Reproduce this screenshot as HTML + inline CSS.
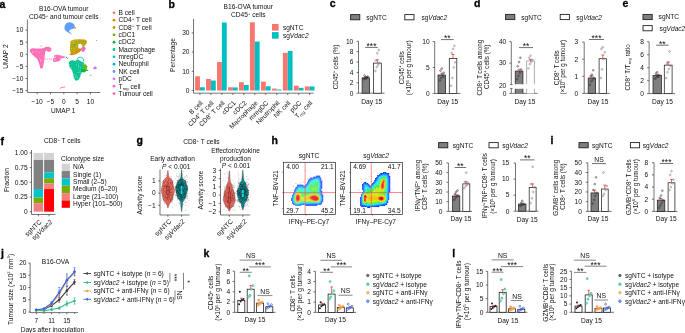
<!DOCTYPE html>
<html><head><meta charset="utf-8"><style>
html,body{margin:0;padding:0;background:#fff;overflow:hidden;}
svg{display:block;font-family:"Liberation Sans",sans-serif;filter:blur(0.3px);}
</style></head><body>
<svg width="685" height="333" viewBox="0 0 685 333" font-size="6.6" fill="#111">
<defs>
<filter id="bl" x="-50%" y="-50%" width="200%" height="200%"><feGaussianBlur stdDeviation="1.2"/></filter>
<filter id="bl2" x="-50%" y="-50%" width="200%" height="200%"><feGaussianBlur stdDeviation="0.7"/></filter>
<filter id="bl3" x="-20%" y="-20%" width="140%" height="140%"><feGaussianBlur stdDeviation="0.35"/></filter>
<filter id="bl4" x="-50%" y="-50%" width="200%" height="200%"><feGaussianBlur stdDeviation="0.55"/></filter>
</defs>
<text x="-0.5" y="7.9" font-weight="bold" font-size="10.5" fill="#000" stroke="#000" stroke-width="0.3">a</text>
<text x="63.7" y="11.2" text-anchor="middle">B16-OVA tumour</text>
<text x="63.7" y="19" text-anchor="middle">CD45<tspan dy="-2.4" font-size="4.3">+</tspan><tspan dy="2.4"> and tumour cells</tspan></text>
<line x1="27.4" y1="19.5" x2="27.4" y2="92.5" stroke="#3a3a3a" stroke-width="0.7"/>
<line x1="27.4" y1="92.5" x2="100.2" y2="92.5" stroke="#3a3a3a" stroke-width="0.7"/>
<line x1="25.6" y1="30.1" x2="27.4" y2="30.1" stroke="#3a3a3a" stroke-width="0.7"/>
<text x="23.4" y="32.4" text-anchor="end">10</text>
<line x1="25.6" y1="42.2" x2="27.4" y2="42.2" stroke="#3a3a3a" stroke-width="0.7"/>
<text x="23.4" y="44.5" text-anchor="end">5</text>
<line x1="25.6" y1="54.3" x2="27.4" y2="54.3" stroke="#3a3a3a" stroke-width="0.7"/>
<text x="23.4" y="56.6" text-anchor="end">0</text>
<line x1="25.6" y1="66.4" x2="27.4" y2="66.4" stroke="#3a3a3a" stroke-width="0.7"/>
<text x="23.4" y="68.7" text-anchor="end">−5</text>
<line x1="25.6" y1="78.5" x2="27.4" y2="78.5" stroke="#3a3a3a" stroke-width="0.7"/>
<text x="23.4" y="80.8" text-anchor="end">−10</text>
<line x1="25.6" y1="90.6" x2="27.4" y2="90.6" stroke="#3a3a3a" stroke-width="0.7"/>
<text x="23.4" y="92.9" text-anchor="end">−15</text>
<line x1="37.2" y1="92.5" x2="37.2" y2="94.3" stroke="#3a3a3a" stroke-width="0.7"/>
<text x="37.2" y="103.9" text-anchor="middle">−10</text>
<line x1="50.5" y1="92.5" x2="50.5" y2="94.3" stroke="#3a3a3a" stroke-width="0.7"/>
<text x="50.5" y="103.9" text-anchor="middle">−5</text>
<line x1="63.8" y1="92.5" x2="63.8" y2="94.3" stroke="#3a3a3a" stroke-width="0.7"/>
<text x="63.8" y="103.9" text-anchor="middle">0</text>
<line x1="77.1" y1="92.5" x2="77.1" y2="94.3" stroke="#3a3a3a" stroke-width="0.7"/>
<text x="77.1" y="103.9" text-anchor="middle">5</text>
<line x1="90.4" y1="92.5" x2="90.4" y2="94.3" stroke="#3a3a3a" stroke-width="0.7"/>
<text x="90.4" y="103.9" text-anchor="middle">10</text>
<text x="63.3" y="113.3" text-anchor="middle">UMAP 1</text>
<text x="8.2" y="56.6" text-anchor="middle" transform="rotate(-90 8.2 56.6)">UMAP 2</text>
<circle cx="114" cy="12.8" r="1.4" fill="#F8766D"/>
<text x="118.6" y="15.1">B cell</text>
<circle cx="114" cy="20.14" r="1.4" fill="#DE8C00"/>
<text x="118.6" y="22.44">CD4<tspan dy="-2.4" font-size="4.3">+</tspan><tspan dy="2.4"> T cell</tspan></text>
<circle cx="114" cy="27.48" r="1.4" fill="#B79F00"/>
<text x="118.6" y="29.78">CD8<tspan dy="-2.4" font-size="4.3">+</tspan><tspan dy="2.4"> T cell</tspan></text>
<circle cx="114" cy="34.82" r="1.4" fill="#7CAE00"/>
<text x="118.6" y="37.12">cDC1</text>
<circle cx="114" cy="42.16" r="1.4" fill="#00BA38"/>
<text x="118.6" y="44.46">cDC2</text>
<circle cx="114" cy="49.5" r="1.4" fill="#00C08B"/>
<text x="118.6" y="51.8">Macrophage</text>
<circle cx="114" cy="56.84" r="1.4" fill="#00BFC4"/>
<text x="118.6" y="59.14">mregDC</text>
<circle cx="114" cy="64.18" r="1.4" fill="#00B4F0"/>
<text x="118.6" y="66.48">Neutrophil</text>
<circle cx="114" cy="71.52" r="1.4" fill="#619CFF"/>
<text x="118.6" y="73.82">NK cell</text>
<circle cx="114" cy="78.86" r="1.4" fill="#C77CFF"/>
<text x="118.6" y="81.16">pDC</text>
<circle cx="114" cy="86.2" r="1.4" fill="#F564E3"/>
<text x="118.6" y="88.5">T<tspan dy="1.3" font-size="4.2">reg</tspan><tspan dy="-1.3"> cell</tspan></text>
<circle cx="114" cy="93.54" r="1.4" fill="#FF64B0"/>
<text x="118.6" y="95.84">Tumour cell</text>
<polygon points="29.81,49.42 32.21,48.22 37.02,48.46 41.83,48.46 43.63,47.98 45.19,47.02 47.6,46.66 50,47.14 51.44,48.46 50.96,50.87 49.64,52.07 47.84,51.47 46.39,50.62 45.19,52.07 44.71,55.43 44.47,59.04 43.75,63.85 42.55,68.41 40.38,68.41 39.18,63.85 37.26,59.04 34.13,56.15 31.25,53.75 29.81,51.59" fill="#FF64B0" opacity="0.92"/>
<polygon points="53.85,55.43 57.45,54.83 62.26,55.67 65.26,56.63 64.66,57.84 61.06,58.44 59.86,60.84 56.25,62.04 53.25,61.68 52.88,59.04 54.45,57.24" fill="#FF64B0" opacity="0.92"/>
<circle cx="47.72" cy="59.28" r="0.4" fill="#FF64B0"/>
<circle cx="47.79" cy="58.83" r="0.4" fill="#FF64B0"/>
<circle cx="45.85" cy="58.89" r="0.4" fill="#FF64B0"/>
<circle cx="51.5" cy="59.2" r="0.4" fill="#FF64B0"/>
<circle cx="51.38" cy="59.12" r="0.4" fill="#FF64B0"/>
<circle cx="49.73" cy="59.1" r="0.4" fill="#FF64B0"/>
<circle cx="44.86" cy="59.33" r="0.4" fill="#FF64B0"/>
<circle cx="50.01" cy="59.27" r="0.4" fill="#FF64B0"/>
<circle cx="45.45" cy="58.44" r="0.4" fill="#FF64B0"/>
<circle cx="45.99" cy="58.77" r="0.4" fill="#FF64B0"/>
<circle cx="49.46" cy="58.97" r="0.4" fill="#FF64B0"/>
<circle cx="50.03" cy="58.67" r="0.4" fill="#FF64B0"/>
<circle cx="41.53" cy="45.72" r="0.35" fill="#FF64B0"/>
<circle cx="40.19" cy="46.17" r="0.35" fill="#FF64B0"/>
<circle cx="41.8" cy="46.05" r="0.35" fill="#FF64B0"/>
<circle cx="40.02" cy="45.13" r="0.35" fill="#FF64B0"/>
<circle cx="39.59" cy="58.84" r="0.4" fill="#fff"/>
<circle cx="40.79" cy="59.44" r="0.4" fill="#fff"/>
<circle cx="43.43" cy="63.91" r="0.4" fill="#fff"/>
<circle cx="31.84" cy="53.26" r="0.4" fill="#fff"/>
<circle cx="44.81" cy="47.57" r="0.4" fill="#fff"/>
<circle cx="43.96" cy="60.05" r="0.4" fill="#fff"/>
<circle cx="33.92" cy="51.92" r="0.4" fill="#fff"/>
<circle cx="41.04" cy="60.59" r="0.4" fill="#fff"/>
<circle cx="40.62" cy="61.07" r="0.4" fill="#fff"/>
<circle cx="39.7" cy="52.71" r="0.4" fill="#fff"/>
<circle cx="36.63" cy="51.65" r="0.4" fill="#fff"/>
<circle cx="29.82" cy="51.22" r="0.4" fill="#fff"/>
<circle cx="31.69" cy="53.89" r="0.4" fill="#fff"/>
<circle cx="32.36" cy="52.02" r="0.4" fill="#fff"/>
<circle cx="62.75" cy="56.11" r="0.4" fill="#fff"/>
<circle cx="59.81" cy="58.06" r="0.4" fill="#fff"/>
<circle cx="55.25" cy="60.11" r="0.4" fill="#fff"/>
<circle cx="54.51" cy="59.47" r="0.4" fill="#fff"/>
<circle cx="54.33" cy="57.87" r="0.4" fill="#fff"/>
<circle cx="55.52" cy="56.78" r="0.4" fill="#fff"/>
<circle cx="56.65" cy="61.21" r="0.4" fill="#fff"/>
<circle cx="55.49" cy="57.68" r="0.4" fill="#fff"/>
<circle cx="66.4" cy="57.4" r="0.7" fill="#00C08B"/>
<circle cx="67.4" cy="58.6" r="0.5" fill="#00BA38"/>
<path d="M74.6,28.6 A5.1,5.1 0 1 0 67.0,31.8 C68.8,33.2 70.6,34.0 72.4,35.4 C71.0,33.6 69.6,32.4 69.0,31.0 C70.8,29.4 72.6,28.6 74.6,28.6 Z" fill="#619CFF"/>
<circle cx="75.4" cy="27.8" r="0.75" fill="#DE8C00"/>
<polygon points="70.53,41.02 74.29,39.51 79.55,39.21 84.81,39.51 87.07,41.02 86.32,44.02 84.06,46.28 82.56,49.29 79.55,51.54 76.54,53.8 73.53,54.55 70.83,53.8 69.92,50.04 70.23,45.53" fill="#B79F00" opacity="0.95"/>
<polygon points="78.05,44.32 81.05,43.72 82.56,46.28 81.05,48.53 78.35,48.23" fill="#ffffff"/>
<polygon points="69.02,54.85 72.03,52.74 75.04,51.54 78.05,50.04 80.3,49.29 81.05,50.79 78.05,53.05 75.04,54.55 72.03,55.3" fill="#DE8C00"/>
<polygon points="82.56,47.33 84.81,46.73 85.86,48.83 84.06,51.84 81.8,51.84 81.35,49.74" fill="#F564E3"/>
<circle cx="74.6" cy="45" r="0.9" fill="#00C08B"/>
<circle cx="96.6" cy="40.2" r="0.55" fill="#00B4F0"/>
<circle cx="73.58" cy="43.17" r="0.35" fill="#fff"/>
<circle cx="83.17" cy="44.26" r="0.35" fill="#fff"/>
<circle cx="75" cy="40.34" r="0.35" fill="#fff"/>
<circle cx="71.47" cy="48.15" r="0.35" fill="#fff"/>
<circle cx="74.09" cy="48.43" r="0.35" fill="#fff"/>
<circle cx="76.3" cy="46.16" r="0.35" fill="#fff"/>
<circle cx="73.06" cy="41.57" r="0.35" fill="#fff"/>
<circle cx="74.2" cy="42.12" r="0.35" fill="#fff"/>
<circle cx="73.29" cy="53.78" r="0.35" fill="#fff"/>
<circle cx="77.15" cy="40.8" r="0.35" fill="#fff"/>
<circle cx="74.01" cy="50.02" r="0.35" fill="#fff"/>
<circle cx="74.33" cy="51.84" r="0.35" fill="#fff"/>
<polygon points="69.32,61.32 72.03,60.26 75.04,60.86 78.05,59.81 81.05,61.32 84.06,62.82 84.81,65.83 83.31,68.83 81.8,72.59 80.3,76.35 78.8,80.11 75.79,80.86 73.83,78.61 73.23,74.1 72.03,70.34 69.77,67.33 68.72,64.32" fill="#00C08B" opacity="0.95"/>
<circle cx="78.32" cy="65.99" r="0.38" fill="#fff"/>
<circle cx="69.83" cy="64.62" r="0.38" fill="#fff"/>
<circle cx="77.72" cy="77.76" r="0.38" fill="#fff"/>
<circle cx="78.61" cy="65.71" r="0.38" fill="#fff"/>
<circle cx="83.48" cy="64.11" r="0.38" fill="#fff"/>
<circle cx="75.89" cy="61.08" r="0.38" fill="#fff"/>
<circle cx="71.56" cy="67.58" r="0.38" fill="#fff"/>
<circle cx="77.93" cy="62.58" r="0.38" fill="#fff"/>
<circle cx="74.55" cy="78.57" r="0.38" fill="#fff"/>
<circle cx="79.84" cy="72.12" r="0.38" fill="#fff"/>
<circle cx="76.48" cy="75.19" r="0.38" fill="#fff"/>
<circle cx="80.58" cy="74.63" r="0.38" fill="#fff"/>
<circle cx="74.38" cy="74.24" r="0.38" fill="#fff"/>
<circle cx="75.43" cy="76.45" r="0.38" fill="#fff"/>
<circle cx="78.78" cy="67.86" r="0.38" fill="#fff"/>
<circle cx="78.1" cy="72.63" r="0.38" fill="#fff"/>
<circle cx="80.44" cy="67.99" r="0.38" fill="#fff"/>
<circle cx="80.55" cy="72.04" r="0.38" fill="#fff"/>
<circle cx="75.81" cy="77.46" r="0.38" fill="#fff"/>
<circle cx="76.46" cy="64.66" r="0.38" fill="#fff"/>
<circle cx="79.96" cy="70.28" r="0.38" fill="#fff"/>
<circle cx="78.61" cy="79.19" r="0.38" fill="#fff"/>
<path d="M76.84,60.86 Q77.29,56.8 80.3,57.26 Q84.06,57.56 83.76,61.77" fill="none" stroke="#00BFC4" stroke-width="0.9"/>
<polygon points="83.76,64.77 85.86,64.32 87.37,66.58 86.77,69.29 84.81,69.59 83.31,67.33" fill="#7CAE00"/>
<polygon points="81.05,69.29 84.06,68.38 86.32,69.59 88.27,69.89 88.27,70.64 86.32,71.09 84.06,72.59 81.35,71.99" fill="#00BA38"/>
<polygon points="92.78,68.38 94.89,66.28 96.84,67.18 96.39,68.98 94.29,69.29" fill="#C77CFF"/>
<circle cx="90.8" cy="75.4" r="0.55" fill="#00B4F0"/>
<path d="M59.8,88.6 C61.2,87.2 63.0,87.4 65.0,86.8" fill="none" stroke="#F8766D" stroke-width="1.0"/>
<text x="168.6" y="7.7" font-weight="bold" font-size="10.5" fill="#000" stroke="#000" stroke-width="0.3">b</text>
<text x="248.3" y="9.2" text-anchor="middle">B16-OVA tumour</text>
<text x="248.3" y="17" text-anchor="middle">CD45<tspan dy="-2.4" font-size="4.3">+</tspan><tspan dy="2.4"> cells</tspan></text>
<line x1="193.5" y1="18.9" x2="193.5" y2="93.2" stroke="#3a3a3a" stroke-width="0.7"/>
<line x1="193.5" y1="93.2" x2="313.5" y2="93.2" stroke="#3a3a3a" stroke-width="0.7"/>
<line x1="191.7" y1="90.5" x2="193.5" y2="90.5" stroke="#3a3a3a" stroke-width="0.7"/>
<text x="189.5" y="92.8" text-anchor="end">0</text>
<line x1="191.7" y1="71.3" x2="193.5" y2="71.3" stroke="#3a3a3a" stroke-width="0.7"/>
<text x="189.5" y="73.6" text-anchor="end">10</text>
<line x1="191.7" y1="52.1" x2="193.5" y2="52.1" stroke="#3a3a3a" stroke-width="0.7"/>
<text x="189.5" y="54.4" text-anchor="end">20</text>
<line x1="191.7" y1="32.9" x2="193.5" y2="32.9" stroke="#3a3a3a" stroke-width="0.7"/>
<text x="189.5" y="35.2" text-anchor="end">30</text>
<text x="175.3" y="55" text-anchor="middle" transform="rotate(-90 175.3 55)">Percentage</text>
<rect x="195.1" y="76.29" width="4.85" height="14.21" fill="#F8766D"/>
<rect x="199.95" y="87.24" width="4.85" height="3.26" fill="#00BFC4"/>
<line x1="199.95" y1="93.2" x2="199.95" y2="95" stroke="#3a3a3a" stroke-width="0.7"/>
<text x="203.15" y="103.4" text-anchor="end" transform="rotate(-45 203.15 103.4)">B cell</text>
<rect x="206.07" y="78.98" width="4.85" height="11.52" fill="#F8766D"/>
<rect x="210.92" y="80.52" width="4.85" height="9.98" fill="#00BFC4"/>
<line x1="210.92" y1="93.2" x2="210.92" y2="95" stroke="#3a3a3a" stroke-width="0.7"/>
<text x="214.12" y="103.4" text-anchor="end" transform="rotate(-45 214.12 103.4)">CD4<tspan dy="-2.4" font-size="4.3">+</tspan><tspan dy="2.4"> T cell</tspan></text>
<rect x="217.04" y="62.08" width="4.85" height="28.42" fill="#F8766D"/>
<rect x="221.89" y="22.53" width="4.85" height="67.97" fill="#00BFC4"/>
<line x1="221.89" y1="93.2" x2="221.89" y2="95" stroke="#3a3a3a" stroke-width="0.7"/>
<text x="225.09" y="103.4" text-anchor="end" transform="rotate(-45 225.09 103.4)">CD8<tspan dy="-2.4" font-size="4.3">+</tspan><tspan dy="2.4"> T cell</tspan></text>
<rect x="228.01" y="87.24" width="4.85" height="3.26" fill="#F8766D"/>
<rect x="232.86" y="87.43" width="4.85" height="3.07" fill="#00BFC4"/>
<line x1="232.86" y1="93.2" x2="232.86" y2="95" stroke="#3a3a3a" stroke-width="0.7"/>
<text x="236.06" y="103.4" text-anchor="end" transform="rotate(-45 236.06 103.4)">cDC1</text>
<rect x="238.98" y="82.24" width="4.85" height="8.26" fill="#F8766D"/>
<rect x="243.83" y="84.93" width="4.85" height="5.57" fill="#00BFC4"/>
<line x1="243.83" y1="93.2" x2="243.83" y2="95" stroke="#3a3a3a" stroke-width="0.7"/>
<text x="247.03" y="103.4" text-anchor="end" transform="rotate(-45 247.03 103.4)">cDC2</text>
<rect x="249.95" y="22.34" width="4.85" height="68.16" fill="#F8766D"/>
<rect x="254.8" y="41.54" width="4.85" height="48.96" fill="#00BFC4"/>
<line x1="254.8" y1="93.2" x2="254.8" y2="95" stroke="#3a3a3a" stroke-width="0.7"/>
<text x="258" y="103.4" text-anchor="end" transform="rotate(-45 258 103.4)">Macrophage</text>
<rect x="260.92" y="81.67" width="4.85" height="8.83" fill="#F8766D"/>
<rect x="265.77" y="86.28" width="4.85" height="4.22" fill="#00BFC4"/>
<line x1="265.77" y1="93.2" x2="265.77" y2="95" stroke="#3a3a3a" stroke-width="0.7"/>
<text x="268.97" y="103.4" text-anchor="end" transform="rotate(-45 268.97 103.4)">mregDC</text>
<rect x="271.89" y="88.58" width="4.85" height="1.92" fill="#F8766D"/>
<rect x="276.74" y="89.54" width="4.85" height="0.96" fill="#00BFC4"/>
<line x1="276.74" y1="93.2" x2="276.74" y2="95" stroke="#3a3a3a" stroke-width="0.7"/>
<text x="279.94" y="103.4" text-anchor="end" transform="rotate(-45 279.94 103.4)">Neutrophil</text>
<rect x="282.86" y="52.87" width="4.85" height="37.63" fill="#F8766D"/>
<rect x="287.71" y="50.95" width="4.85" height="39.55" fill="#00BFC4"/>
<line x1="287.71" y1="93.2" x2="287.71" y2="95" stroke="#3a3a3a" stroke-width="0.7"/>
<text x="290.91" y="103.4" text-anchor="end" transform="rotate(-45 290.91 103.4)">NK cell</text>
<rect x="293.83" y="85.7" width="4.85" height="4.8" fill="#F8766D"/>
<rect x="298.68" y="87.81" width="4.85" height="2.69" fill="#00BFC4"/>
<line x1="298.68" y1="93.2" x2="298.68" y2="95" stroke="#3a3a3a" stroke-width="0.7"/>
<text x="301.88" y="103.4" text-anchor="end" transform="rotate(-45 301.88 103.4)">pDC</text>
<rect x="304.8" y="86.47" width="4.85" height="4.03" fill="#F8766D"/>
<rect x="309.65" y="86.47" width="4.85" height="4.03" fill="#00BFC4"/>
<line x1="309.65" y1="93.2" x2="309.65" y2="95" stroke="#3a3a3a" stroke-width="0.7"/>
<text x="312.85" y="103.4" text-anchor="end" transform="rotate(-45 312.85 103.4)">T<tspan dy="1.3" font-size="4.2">reg</tspan><tspan dy="-1.3"> cell</tspan></text>
<rect x="272" y="24" width="6.6" height="6.6" fill="#F8766D"/>
<rect x="272" y="32.1" width="6.6" height="6.6" fill="#00BFC4"/>
<text x="282.9" y="29.7">sgNTC</text>
<text x="282.9" y="37.8">sg<tspan font-style="italic">Vdac2</tspan></text>
<text x="329.8" y="7.2" font-weight="bold" font-size="10.5" fill="#000" stroke="#000" stroke-width="0.3">c</text>
<rect x="350.6" y="14.6" width="9.2" height="5.2" fill="#7f7f7f" stroke="#222" stroke-width="0.9"/>
<text x="366.2" y="19.8">sgNTC</text>
<rect x="404.8" y="14.6" width="9.2" height="5.2" fill="#ffffff" stroke="#222" stroke-width="0.9"/>
<text x="421.4" y="19.8">sg<tspan font-style="italic">Vdac2</tspan></text>
<line x1="358.5" y1="41.3" x2="358.5" y2="93.2" stroke="#3a3a3a" stroke-width="0.7"/>
<line x1="356.5" y1="93.2" x2="358.5" y2="93.2" stroke="#3a3a3a" stroke-width="0.7"/>
<text x="353.3" y="95.5" text-anchor="end">0</text>
<line x1="356.5" y1="82.82" x2="358.5" y2="82.82" stroke="#3a3a3a" stroke-width="0.7"/>
<text x="353.3" y="85.12" text-anchor="end">2</text>
<line x1="356.5" y1="72.44" x2="358.5" y2="72.44" stroke="#3a3a3a" stroke-width="0.7"/>
<text x="353.3" y="74.74" text-anchor="end">4</text>
<line x1="356.5" y1="62.06" x2="358.5" y2="62.06" stroke="#3a3a3a" stroke-width="0.7"/>
<text x="353.3" y="64.36" text-anchor="end">6</text>
<line x1="356.5" y1="51.68" x2="358.5" y2="51.68" stroke="#3a3a3a" stroke-width="0.7"/>
<text x="353.3" y="53.98" text-anchor="end">8</text>
<line x1="356.5" y1="41.3" x2="358.5" y2="41.3" stroke="#3a3a3a" stroke-width="0.7"/>
<text x="353.3" y="43.6" text-anchor="end">10</text>
<line x1="358.5" y1="93.2" x2="384.6" y2="93.2" stroke="#3a3a3a" stroke-width="0.7"/>
<rect x="362.1" y="77.84" width="7.5" height="15.36" fill="#7f7f7f" stroke="#222" stroke-width="0.75"/>
<line x1="365.85" y1="77.84" x2="365.85" y2="76.7" stroke="#e8352b" stroke-width="0.75"/>
<line x1="364.35" y1="76.7" x2="367.35" y2="76.7" stroke="#e8352b" stroke-width="0.75"/>
<circle cx="363.85" cy="79.19" r="0.85" fill="none" stroke="#2a2a2a" stroke-width="0.55"/>
<circle cx="365.18" cy="78.15" r="0.85" fill="none" stroke="#2a2a2a" stroke-width="0.55"/>
<circle cx="366.52" cy="77.63" r="0.85" fill="none" stroke="#2a2a2a" stroke-width="0.55"/>
<circle cx="367.85" cy="76.59" r="0.85" fill="none" stroke="#2a2a2a" stroke-width="0.55"/>
<circle cx="364.52" cy="75.55" r="0.85" fill="none" stroke="#2a2a2a" stroke-width="0.55"/>
<circle cx="365.85" cy="78.67" r="0.85" fill="none" stroke="#2a2a2a" stroke-width="0.55"/>
<circle cx="367.18" cy="77.11" r="0.85" fill="none" stroke="#2a2a2a" stroke-width="0.55"/>
<rect x="373.4" y="63.1" width="7.9" height="30.1" fill="#ffffff" stroke="#222" stroke-width="0.75"/>
<line x1="377.35" y1="63.1" x2="377.35" y2="59.72" stroke="#e8352b" stroke-width="0.75"/>
<line x1="375.85" y1="59.72" x2="378.85" y2="59.72" stroke="#e8352b" stroke-width="0.75"/>
<circle cx="375.35" cy="70.88" r="0.85" fill="none" stroke="#777" stroke-width="0.55"/>
<circle cx="376.68" cy="67.25" r="0.85" fill="none" stroke="#777" stroke-width="0.55"/>
<circle cx="378.02" cy="65.17" r="0.85" fill="none" stroke="#777" stroke-width="0.55"/>
<circle cx="379.35" cy="63.1" r="0.85" fill="none" stroke="#777" stroke-width="0.55"/>
<circle cx="376.02" cy="60.5" r="0.85" fill="none" stroke="#777" stroke-width="0.55"/>
<circle cx="377.35" cy="53.24" r="0.85" fill="none" stroke="#777" stroke-width="0.55"/>
<circle cx="378.68" cy="50.12" r="0.85" fill="none" stroke="#777" stroke-width="0.55"/>
<line x1="365.2" y1="47.4" x2="377.8" y2="47.4" stroke="#333" stroke-width="0.7"/>
<text x="371.5" y="48.8" text-anchor="middle" font-size="8.5">***</text>
<text x="371.8" y="103.6" text-anchor="middle">Day 15</text>
<text x="337.8" y="67" text-anchor="middle" font-size="6.3" transform="rotate(-90 337.8 67)">CD45<tspan dy="-2.4" font-size="4.3">+</tspan><tspan dy="2.4"> cells (%)</tspan></text>
<line x1="434.7" y1="41.5" x2="434.7" y2="93.5" stroke="#3a3a3a" stroke-width="0.7"/>
<line x1="432.7" y1="93.5" x2="434.7" y2="93.5" stroke="#3a3a3a" stroke-width="0.7"/>
<text x="429.7" y="95.8" text-anchor="end">0</text>
<line x1="432.7" y1="67.5" x2="434.7" y2="67.5" stroke="#3a3a3a" stroke-width="0.7"/>
<text x="429.7" y="69.8" text-anchor="end">5</text>
<line x1="432.7" y1="41.5" x2="434.7" y2="41.5" stroke="#3a3a3a" stroke-width="0.7"/>
<text x="429.7" y="43.8" text-anchor="end">10</text>
<line x1="434.7" y1="93.5" x2="460.5" y2="93.5" stroke="#3a3a3a" stroke-width="0.7"/>
<rect x="438" y="75.04" width="7.6" height="18.46" fill="#7f7f7f" stroke="#222" stroke-width="0.75"/>
<line x1="441.8" y1="75.04" x2="441.8" y2="73.22" stroke="#e8352b" stroke-width="0.75"/>
<line x1="440.3" y1="73.22" x2="443.3" y2="73.22" stroke="#e8352b" stroke-width="0.75"/>
<circle cx="439.8" cy="80.5" r="0.85" fill="none" stroke="#2a2a2a" stroke-width="0.55"/>
<circle cx="441.13" cy="77.9" r="0.85" fill="none" stroke="#2a2a2a" stroke-width="0.55"/>
<circle cx="442.47" cy="74.78" r="0.85" fill="none" stroke="#2a2a2a" stroke-width="0.55"/>
<circle cx="443.8" cy="72.7" r="0.85" fill="none" stroke="#2a2a2a" stroke-width="0.55"/>
<circle cx="440.47" cy="70.62" r="0.85" fill="none" stroke="#2a2a2a" stroke-width="0.55"/>
<circle cx="441.8" cy="68.54" r="0.85" fill="none" stroke="#2a2a2a" stroke-width="0.55"/>
<circle cx="443.13" cy="76.86" r="0.85" fill="none" stroke="#2a2a2a" stroke-width="0.55"/>
<rect x="449.3" y="58.4" width="7.5" height="35.1" fill="#ffffff" stroke="#222" stroke-width="0.75"/>
<line x1="453.05" y1="58.4" x2="453.05" y2="54.5" stroke="#e8352b" stroke-width="0.75"/>
<line x1="451.55" y1="54.5" x2="454.55" y2="54.5" stroke="#e8352b" stroke-width="0.75"/>
<circle cx="451.05" cy="85.7" r="0.85" fill="none" stroke="#777" stroke-width="0.55"/>
<circle cx="452.38" cy="77.9" r="0.85" fill="none" stroke="#777" stroke-width="0.55"/>
<circle cx="453.72" cy="67.5" r="0.85" fill="none" stroke="#777" stroke-width="0.55"/>
<circle cx="455.05" cy="62.3" r="0.85" fill="none" stroke="#777" stroke-width="0.55"/>
<circle cx="451.72" cy="52.94" r="0.85" fill="none" stroke="#777" stroke-width="0.55"/>
<circle cx="453.05" cy="48.78" r="0.85" fill="none" stroke="#777" stroke-width="0.55"/>
<circle cx="454.38" cy="45.66" r="0.85" fill="none" stroke="#777" stroke-width="0.55"/>
<line x1="441" y1="39.6" x2="453.7" y2="39.6" stroke="#333" stroke-width="0.7"/>
<text x="447.35" y="41" text-anchor="middle" font-size="8.5">**</text>
<text x="447.8" y="103.6" text-anchor="middle">Day 15</text>
<text x="403.9" y="67.7" text-anchor="middle" font-size="6.3" transform="rotate(-90 403.9 67.7)">CD45<tspan dy="-2.4" font-size="4.3">+</tspan><tspan dy="2.4"> cells</tspan></text>
<text x="411.2" y="67.8" text-anchor="middle" font-size="6.3" transform="rotate(-90 411.2 67.8)">(×10<tspan dy="-2.4" font-size="4.3">6</tspan><tspan dy="2.4"> per g tumour)</tspan></text>
<text x="474" y="6.9" font-weight="bold" font-size="10.5" fill="#000" stroke="#000" stroke-width="0.3">d</text>
<rect x="505.6" y="14.4" width="9.2" height="5.2" fill="#7f7f7f" stroke="#222" stroke-width="0.9"/>
<text x="521.2" y="19.6">sgNTC</text>
<rect x="560.2" y="14.4" width="9.2" height="5.2" fill="#ffffff" stroke="#222" stroke-width="0.9"/>
<text x="576.2" y="19.6">sg<tspan font-style="italic">Vdac2</tspan></text>
<line x1="511.3" y1="41.7" x2="511.3" y2="84.5" stroke="#3a3a3a" stroke-width="0.7"/>
<line x1="511.3" y1="88.4" x2="511.3" y2="93.4" stroke="#3a3a3a" stroke-width="0.7"/>
<line x1="509.9" y1="84.5" x2="512.7" y2="84.5" stroke="#333" stroke-width="0.6"/>
<line x1="509.9" y1="88.4" x2="512.7" y2="88.4" stroke="#333" stroke-width="0.6"/>
<line x1="509.3" y1="41.7" x2="511.3" y2="41.7" stroke="#3a3a3a" stroke-width="0.7"/>
<text x="506.3" y="44" text-anchor="end">40</text>
<line x1="509.3" y1="63.1" x2="511.3" y2="63.1" stroke="#3a3a3a" stroke-width="0.7"/>
<text x="506.3" y="65.4" text-anchor="end">30</text>
<text x="506.3" y="87.9" text-anchor="end">20</text>
<line x1="509.3" y1="93.4" x2="511.3" y2="93.4" stroke="#3a3a3a" stroke-width="0.7"/>
<text x="506.3" y="95.7" text-anchor="end">0</text>
<line x1="511.3" y1="93.4" x2="537.5" y2="93.4" stroke="#3a3a3a" stroke-width="0.7"/>
<rect x="515.3" y="71.02" width="7.6" height="13.18" fill="#7f7f7f"/>
<rect x="515.3" y="88.8" width="7.6" height="4.6" fill="#7f7f7f"/>
<line x1="515.3" y1="71.02" x2="522.9" y2="71.02" stroke="#222" stroke-width="0.8"/>
<line x1="515.3" y1="71.02" x2="515.3" y2="84.2" stroke="#222" stroke-width="0.8"/>
<line x1="515.3" y1="88.8" x2="515.3" y2="93.4" stroke="#222" stroke-width="0.8"/>
<line x1="522.9" y1="71.02" x2="522.9" y2="84.2" stroke="#222" stroke-width="0.8"/>
<line x1="522.9" y1="88.8" x2="522.9" y2="93.4" stroke="#222" stroke-width="0.8"/>
<line x1="519.1" y1="71.02" x2="519.1" y2="69.31" stroke="#e8352b" stroke-width="0.75"/>
<line x1="517.6" y1="69.31" x2="520.6" y2="69.31" stroke="#e8352b" stroke-width="0.75"/>
<circle cx="517.1" cy="79.15" r="0.85" fill="none" stroke="#2a2a2a" stroke-width="0.55"/>
<circle cx="518.43" cy="75.94" r="0.85" fill="none" stroke="#2a2a2a" stroke-width="0.55"/>
<circle cx="519.77" cy="72.73" r="0.85" fill="none" stroke="#2a2a2a" stroke-width="0.55"/>
<circle cx="521.1" cy="69.52" r="0.85" fill="none" stroke="#2a2a2a" stroke-width="0.55"/>
<circle cx="517.77" cy="66.31" r="0.85" fill="none" stroke="#2a2a2a" stroke-width="0.55"/>
<circle cx="519.1" cy="62.03" r="0.85" fill="none" stroke="#2a2a2a" stroke-width="0.55"/>
<circle cx="520.43" cy="57.75" r="0.85" fill="none" stroke="#2a2a2a" stroke-width="0.55"/>
<rect x="526.6" y="60.96" width="7.8" height="23.24" fill="#ffffff"/>
<rect x="526.6" y="88.8" width="7.8" height="4.6" fill="#ffffff"/>
<line x1="526.6" y1="60.96" x2="534.4" y2="60.96" stroke="#999" stroke-width="0.8"/>
<line x1="526.6" y1="60.96" x2="526.6" y2="84.2" stroke="#999" stroke-width="0.8"/>
<line x1="526.6" y1="88.8" x2="526.6" y2="93.4" stroke="#999" stroke-width="0.8"/>
<line x1="534.4" y1="60.96" x2="534.4" y2="84.2" stroke="#999" stroke-width="0.8"/>
<line x1="534.4" y1="88.8" x2="534.4" y2="93.4" stroke="#999" stroke-width="0.8"/>
<line x1="530.5" y1="60.96" x2="530.5" y2="59.46" stroke="#e8352b" stroke-width="0.75"/>
<line x1="529" y1="59.46" x2="532" y2="59.46" stroke="#e8352b" stroke-width="0.75"/>
<circle cx="528.5" cy="68.45" r="0.85" fill="none" stroke="#777" stroke-width="0.55"/>
<circle cx="529.83" cy="64.17" r="0.85" fill="none" stroke="#777" stroke-width="0.55"/>
<circle cx="531.17" cy="62.03" r="0.85" fill="none" stroke="#777" stroke-width="0.55"/>
<circle cx="532.5" cy="59.89" r="0.85" fill="none" stroke="#777" stroke-width="0.55"/>
<circle cx="529.17" cy="57.75" r="0.85" fill="none" stroke="#777" stroke-width="0.55"/>
<circle cx="530.5" cy="55.61" r="0.85" fill="none" stroke="#777" stroke-width="0.55"/>
<line x1="519" y1="47.6" x2="533" y2="47.6" stroke="#333" stroke-width="0.7"/>
<text x="526" y="49" text-anchor="middle" font-size="8.5">**</text>
<text x="525" y="103.6" text-anchor="middle">Day 15</text>
<text x="482.5" y="67.7" text-anchor="middle" font-size="6.3" transform="rotate(-90 482.5 67.7)">CD8<tspan dy="-2.4" font-size="4.3">+</tspan><tspan dy="2.4"> T cells among</tspan></text>
<text x="488.9" y="66.8" text-anchor="middle" font-size="6.3" transform="rotate(-90 488.9 66.8)">CD45<tspan dy="-2.4" font-size="4.3">+</tspan><tspan dy="2.4"> cells (%)</tspan></text>
<line x1="584.2" y1="42.1" x2="584.2" y2="93.4" stroke="#3a3a3a" stroke-width="0.7"/>
<line x1="582.2" y1="93.4" x2="584.2" y2="93.4" stroke="#3a3a3a" stroke-width="0.7"/>
<text x="578.2" y="95.7" text-anchor="end">0</text>
<line x1="582.2" y1="76.3" x2="584.2" y2="76.3" stroke="#3a3a3a" stroke-width="0.7"/>
<text x="578.2" y="78.6" text-anchor="end">1</text>
<line x1="582.2" y1="59.2" x2="584.2" y2="59.2" stroke="#3a3a3a" stroke-width="0.7"/>
<text x="578.2" y="61.5" text-anchor="end">2</text>
<line x1="582.2" y1="42.1" x2="584.2" y2="42.1" stroke="#3a3a3a" stroke-width="0.7"/>
<text x="578.2" y="44.4" text-anchor="end">3</text>
<line x1="584.2" y1="93.4" x2="610" y2="93.4" stroke="#3a3a3a" stroke-width="0.7"/>
<rect x="588.2" y="78.01" width="7.4" height="15.39" fill="#7f7f7f" stroke="#222" stroke-width="0.75"/>
<line x1="591.9" y1="78.01" x2="591.9" y2="75.96" stroke="#e8352b" stroke-width="0.75"/>
<line x1="590.4" y1="75.96" x2="593.4" y2="75.96" stroke="#e8352b" stroke-width="0.75"/>
<circle cx="589.9" cy="84.85" r="0.85" fill="none" stroke="#2a2a2a" stroke-width="0.55"/>
<circle cx="591.23" cy="81.43" r="0.85" fill="none" stroke="#2a2a2a" stroke-width="0.55"/>
<circle cx="592.57" cy="79.72" r="0.85" fill="none" stroke="#2a2a2a" stroke-width="0.55"/>
<circle cx="593.9" cy="78.01" r="0.85" fill="none" stroke="#2a2a2a" stroke-width="0.55"/>
<circle cx="590.57" cy="76.3" r="0.85" fill="none" stroke="#2a2a2a" stroke-width="0.55"/>
<circle cx="591.9" cy="74.59" r="0.85" fill="none" stroke="#2a2a2a" stroke-width="0.55"/>
<circle cx="593.23" cy="70.31" r="0.85" fill="none" stroke="#2a2a2a" stroke-width="0.55"/>
<rect x="599.1" y="58.69" width="7.4" height="34.71" fill="#ffffff" stroke="#222" stroke-width="0.75"/>
<line x1="602.8" y1="58.69" x2="602.8" y2="54.93" stroke="#e8352b" stroke-width="0.75"/>
<line x1="601.3" y1="54.93" x2="604.3" y2="54.93" stroke="#e8352b" stroke-width="0.75"/>
<circle cx="600.8" cy="78.01" r="0.85" fill="none" stroke="#777" stroke-width="0.55"/>
<circle cx="602.13" cy="69.46" r="0.85" fill="none" stroke="#777" stroke-width="0.55"/>
<circle cx="603.47" cy="59.2" r="0.85" fill="none" stroke="#777" stroke-width="0.55"/>
<circle cx="604.8" cy="52.36" r="0.85" fill="none" stroke="#777" stroke-width="0.55"/>
<circle cx="601.47" cy="48.94" r="0.85" fill="none" stroke="#777" stroke-width="0.55"/>
<circle cx="602.8" cy="47.23" r="0.85" fill="none" stroke="#777" stroke-width="0.55"/>
<line x1="589" y1="39.5" x2="604" y2="39.5" stroke="#333" stroke-width="0.7"/>
<text x="596.5" y="40.9" text-anchor="middle" font-size="8.5">***</text>
<text x="598" y="103.6" text-anchor="middle">Day 15</text>
<text x="558.6" y="67.7" text-anchor="middle" font-size="6.3" transform="rotate(-90 558.6 67.7)">CD8<tspan dy="-2.4" font-size="4.3">+</tspan><tspan dy="2.4"> T cells</tspan></text>
<text x="564.6" y="67.2" text-anchor="middle" font-size="6.3" transform="rotate(-90 564.6 67.2)">(×10<tspan dy="-2.4" font-size="4.3">6</tspan><tspan dy="2.4"> per g tumour)</tspan></text>
<text x="622.4" y="7.1" font-weight="bold" font-size="10.5" fill="#000" stroke="#000" stroke-width="0.3">e</text>
<rect x="643" y="14.4" width="9.2" height="5.2" fill="#7f7f7f" stroke="#222" stroke-width="0.9"/>
<text x="658.6" y="19.4">sgNTC</text>
<rect x="643" y="25.6" width="9.2" height="5.2" fill="#ffffff" stroke="#222" stroke-width="0.9"/>
<text x="659.6" y="30.6">sg<tspan font-style="italic">Vdac2</tspan></text>
<line x1="649.1" y1="41.84" x2="649.1" y2="93.6" stroke="#3a3a3a" stroke-width="0.7"/>
<line x1="647.1" y1="93.6" x2="649.1" y2="93.6" stroke="#3a3a3a" stroke-width="0.7"/>
<text x="643.8" y="95.9" text-anchor="end">0</text>
<line x1="647.1" y1="80.66" x2="649.1" y2="80.66" stroke="#3a3a3a" stroke-width="0.7"/>
<text x="643.8" y="82.96" text-anchor="end">2</text>
<line x1="647.1" y1="67.72" x2="649.1" y2="67.72" stroke="#3a3a3a" stroke-width="0.7"/>
<text x="643.8" y="70.02" text-anchor="end">4</text>
<line x1="647.1" y1="54.78" x2="649.1" y2="54.78" stroke="#3a3a3a" stroke-width="0.7"/>
<text x="643.8" y="57.08" text-anchor="end">6</text>
<line x1="647.1" y1="41.84" x2="649.1" y2="41.84" stroke="#3a3a3a" stroke-width="0.7"/>
<text x="643.8" y="44.14" text-anchor="end">8</text>
<line x1="649.1" y1="93.6" x2="675" y2="93.6" stroke="#3a3a3a" stroke-width="0.7"/>
<rect x="653" y="75.48" width="8.4" height="18.12" fill="#7f7f7f" stroke="#222" stroke-width="0.75"/>
<line x1="657.2" y1="75.48" x2="657.2" y2="74.51" stroke="#e8352b" stroke-width="0.75"/>
<line x1="655.7" y1="74.51" x2="658.7" y2="74.51" stroke="#e8352b" stroke-width="0.75"/>
<circle cx="655.2" cy="78.72" r="0.85" fill="none" stroke="#2a2a2a" stroke-width="0.55"/>
<circle cx="656.53" cy="77.42" r="0.85" fill="none" stroke="#2a2a2a" stroke-width="0.55"/>
<circle cx="657.87" cy="76.13" r="0.85" fill="none" stroke="#2a2a2a" stroke-width="0.55"/>
<circle cx="659.2" cy="74.84" r="0.85" fill="none" stroke="#2a2a2a" stroke-width="0.55"/>
<circle cx="655.87" cy="73.54" r="0.85" fill="none" stroke="#2a2a2a" stroke-width="0.55"/>
<circle cx="657.2" cy="72.25" r="0.85" fill="none" stroke="#2a2a2a" stroke-width="0.55"/>
<circle cx="658.53" cy="76.78" r="0.85" fill="none" stroke="#2a2a2a" stroke-width="0.55"/>
<rect x="664.3" y="65.13" width="7.8" height="28.47" fill="#ffffff" stroke="#222" stroke-width="0.75"/>
<line x1="668.2" y1="65.13" x2="668.2" y2="62.22" stroke="#e8352b" stroke-width="0.75"/>
<line x1="666.7" y1="62.22" x2="669.7" y2="62.22" stroke="#e8352b" stroke-width="0.75"/>
<circle cx="666.2" cy="78.07" r="0.85" fill="none" stroke="#777" stroke-width="0.55"/>
<circle cx="667.53" cy="72.25" r="0.85" fill="none" stroke="#777" stroke-width="0.55"/>
<circle cx="668.87" cy="69.01" r="0.85" fill="none" stroke="#777" stroke-width="0.55"/>
<circle cx="670.2" cy="65.78" r="0.85" fill="none" stroke="#777" stroke-width="0.55"/>
<circle cx="666.87" cy="63.84" r="0.85" fill="none" stroke="#777" stroke-width="0.55"/>
<circle cx="668.2" cy="61.9" r="0.85" fill="none" stroke="#777" stroke-width="0.55"/>
<circle cx="669.53" cy="51.54" r="0.85" fill="none" stroke="#777" stroke-width="0.55"/>
<line x1="656.1" y1="45.2" x2="668.6" y2="45.2" stroke="#333" stroke-width="0.7"/>
<text x="662.35" y="46.6" text-anchor="middle" font-size="8.5">**</text>
<text x="662.5" y="103.6" text-anchor="middle">Day 15</text>
<text x="629.6" y="67.4" text-anchor="middle" font-size="6.3" transform="rotate(-90 629.6 67.4)">CD8<tspan dy="-2.4" font-size="4.3">+</tspan><tspan dy="2.4"> T/T</tspan><tspan dy="1.3" font-size="4.2">reg</tspan><tspan dy="-1.3"> ratio</tspan></text>
<text x="0.6" y="144.9" font-weight="bold" font-size="10.5" fill="#000" stroke="#000" stroke-width="0.3">f</text>
<text x="44.1" y="143.4">CD8<tspan dy="-2.4" font-size="4.3">+</tspan><tspan dy="2.4"> T cells</tspan></text>
<line x1="31.5" y1="150" x2="31.5" y2="214.5" stroke="#3a3a3a" stroke-width="0.7"/>
<line x1="31.5" y1="214.5" x2="55.5" y2="214.5" stroke="#3a3a3a" stroke-width="0.7"/>
<line x1="29.7" y1="211.7" x2="31.5" y2="211.7" stroke="#3a3a3a" stroke-width="0.7"/>
<text x="27.7" y="214" text-anchor="end">0</text>
<line x1="29.7" y1="197" x2="31.5" y2="197" stroke="#3a3a3a" stroke-width="0.7"/>
<text x="27.7" y="199.3" text-anchor="end">0.25</text>
<line x1="29.7" y1="182.3" x2="31.5" y2="182.3" stroke="#3a3a3a" stroke-width="0.7"/>
<text x="27.7" y="184.6" text-anchor="end">0.50</text>
<line x1="29.7" y1="167.6" x2="31.5" y2="167.6" stroke="#3a3a3a" stroke-width="0.7"/>
<text x="27.7" y="169.9" text-anchor="end">0.75</text>
<line x1="29.7" y1="152.9" x2="31.5" y2="152.9" stroke="#3a3a3a" stroke-width="0.7"/>
<text x="27.7" y="155.2" text-anchor="end">1.00</text>
<text x="8.8" y="180" text-anchor="middle" transform="rotate(-90 8.8 180)">Fraction</text>
<rect x="33.6" y="152.9" width="9.5" height="7.06" fill="#D3D3D3"/>
<rect x="33.6" y="159.96" width="9.5" height="29.11" fill="#808080"/>
<rect x="33.6" y="189.06" width="9.5" height="8.53" fill="#00C5CD"/>
<rect x="33.6" y="197.59" width="9.5" height="5.59" fill="#76AD00"/>
<rect x="33.6" y="203.17" width="9.5" height="8.53" fill="#F08080"/>
<rect x="44.1" y="152.9" width="9.9" height="7.06" fill="#D3D3D3"/>
<rect x="44.1" y="159.96" width="9.9" height="12.35" fill="#808080"/>
<rect x="44.1" y="172.3" width="9.9" height="5.88" fill="#00C5CD"/>
<rect x="44.1" y="178.18" width="9.9" height="5.29" fill="#76AD00"/>
<rect x="44.1" y="183.48" width="9.9" height="5.59" fill="#F08080"/>
<rect x="44.1" y="189.06" width="9.9" height="22.64" fill="#FF0000"/>
<line x1="38.35" y1="214.5" x2="38.35" y2="216.3" stroke="#3a3a3a" stroke-width="0.7"/>
<line x1="49.05" y1="214.5" x2="49.05" y2="216.3" stroke="#3a3a3a" stroke-width="0.7"/>
<text x="42" y="222.3" text-anchor="end" transform="rotate(-45 42 222.3)">sgNTC</text>
<text x="52.7" y="222.3" text-anchor="end" transform="rotate(-45 52.7 222.3)">sg<tspan font-style="italic">Vdac2</tspan></text>
<text x="61" y="160.6">Clonotype size</text>
<rect x="61.7" y="163.7" width="8.2" height="7.35" fill="#D3D3D3"/>
<text x="73" y="169.3">N/A</text>
<rect x="61.7" y="171.05" width="8.2" height="7.35" fill="#808080"/>
<text x="73" y="176.65">Single (1)</text>
<rect x="61.7" y="178.4" width="8.2" height="7.35" fill="#00C5CD"/>
<text x="73" y="184">Small (2–5)</text>
<rect x="61.7" y="185.75" width="8.2" height="7.35" fill="#76AD00"/>
<text x="73" y="191.35">Medium (6–20)</text>
<rect x="61.7" y="193.1" width="8.2" height="7.35" fill="#F08080"/>
<text x="73" y="198.7">Large (21–100)</text>
<rect x="61.7" y="200.45" width="8.2" height="7.35" fill="#FF0000"/>
<text x="73" y="206.05">Hyper (101–500)</text>
<text x="136.6" y="143.9" font-weight="bold" font-size="10.5" fill="#000" stroke="#000" stroke-width="0.3">g</text>
<text x="183.3" y="144.1">CD8<tspan dy="-2.4" font-size="4.3">+</tspan><tspan dy="2.4"> T cells</tspan></text>
<text x="172.5" y="161" text-anchor="middle">Early activation</text>
<text x="176.2" y="168.6" text-anchor="middle"><tspan font-style="italic">P</tspan> &lt; 0.001</text>
<line x1="160" y1="169.5" x2="160" y2="215" stroke="#3a3a3a" stroke-width="0.7"/>
<line x1="160" y1="215" x2="189.5" y2="215" stroke="#3a3a3a" stroke-width="0.7"/>
<line x1="158.2" y1="205.3" x2="160" y2="205.3" stroke="#3a3a3a" stroke-width="0.7"/>
<text x="155.6" y="207.6" text-anchor="end">−1</text>
<line x1="158.2" y1="193.1" x2="160" y2="193.1" stroke="#3a3a3a" stroke-width="0.7"/>
<text x="155.6" y="195.4" text-anchor="end">0</text>
<line x1="158.2" y1="180.9" x2="160" y2="180.9" stroke="#3a3a3a" stroke-width="0.7"/>
<text x="155.6" y="183.2" text-anchor="end">1</text>
<line x1="167.9" y1="215" x2="167.9" y2="216.8" stroke="#3a3a3a" stroke-width="0.7"/>
<line x1="181.6" y1="215" x2="181.6" y2="216.8" stroke="#3a3a3a" stroke-width="0.7"/>
<path d="M168.2,170.6 L168.22,171.23 L168.27,171.86 L168.33,172.49 L168.41,173.12 L168.48,173.75 L168.55,174.38 L168.59,175.01 L168.61,175.64 L168.77,176.27 L169.12,176.91 L169.6,177.54 L170.18,178.17 L170.8,178.8 L171.41,179.43 L171.98,180.06 L172.45,180.69 L172.77,181.32 L172.9,181.95 L172.92,182.58 L172.99,183.21 L173.09,183.84 L173.23,184.47 L173.38,185.1 L173.55,185.73 L173.73,186.36 L173.91,186.99 L174.07,187.62 L174.22,188.25 L174.35,188.88 L174.44,189.52 L174.49,190.15 L174.5,190.78 L174.45,191.41 L174.36,192.04 L174.24,192.67 L174.09,193.3 L173.93,193.93 L173.75,194.56 L173.58,195.19 L173.4,195.82 L173.25,196.45 L173.11,197.08 L173,197.71 L172.93,198.34 L172.9,198.97 L172.8,199.6 L172.51,200.23 L172.08,200.86 L171.55,201.49 L170.97,202.13 L170.38,202.76 L169.82,203.39 L169.34,204.02 L168.99,204.65 L168.81,205.28 L168.75,205.91 L168.54,206.54 L168.31,207.17 L168.2,207.8 L167.6,207.8 L167.49,207.17 L167.26,206.54 L167.05,205.91 L166.99,205.28 L166.81,204.65 L166.46,204.02 L165.98,203.39 L165.42,202.76 L164.83,202.13 L164.25,201.49 L163.72,200.86 L163.29,200.23 L163,199.6 L162.9,198.97 L162.87,198.34 L162.8,197.71 L162.69,197.08 L162.55,196.45 L162.4,195.82 L162.22,195.19 L162.05,194.56 L161.87,193.93 L161.71,193.3 L161.56,192.67 L161.44,192.04 L161.35,191.41 L161.3,190.78 L161.31,190.15 L161.36,189.52 L161.45,188.88 L161.58,188.25 L161.73,187.62 L161.89,186.99 L162.07,186.36 L162.25,185.73 L162.42,185.1 L162.57,184.47 L162.71,183.84 L162.81,183.21 L162.88,182.58 L162.9,181.95 L163.03,181.32 L163.35,180.69 L163.82,180.06 L164.39,179.43 L165,178.8 L165.62,178.17 L166.2,177.54 L166.68,176.91 L167.03,176.27 L167.19,175.64 L167.21,175.01 L167.25,174.38 L167.32,173.75 L167.39,173.12 L167.47,172.49 L167.53,171.86 L167.58,171.23 L167.6,170.6 Z" fill="#E8675B" stroke="#333" stroke-width="0.3"/>
<circle cx="165.91" cy="190.96" r="0.3" fill="#111" opacity="0.55"/>
<circle cx="169.68" cy="192.21" r="0.3" fill="#111" opacity="0.55"/>
<circle cx="171.96" cy="192.43" r="0.3" fill="#111" opacity="0.55"/>
<circle cx="169.5" cy="195.66" r="0.3" fill="#111" opacity="0.55"/>
<circle cx="166.17" cy="175.24" r="0.3" fill="#111" opacity="0.55"/>
<circle cx="169.56" cy="197.02" r="0.3" fill="#111" opacity="0.55"/>
<circle cx="170.96" cy="193.7" r="0.3" fill="#111" opacity="0.55"/>
<circle cx="172.04" cy="199.05" r="0.3" fill="#111" opacity="0.55"/>
<circle cx="168.73" cy="196.75" r="0.3" fill="#111" opacity="0.55"/>
<circle cx="166.06" cy="185.62" r="0.3" fill="#111" opacity="0.55"/>
<circle cx="171.27" cy="197.15" r="0.3" fill="#111" opacity="0.55"/>
<circle cx="171.39" cy="198.08" r="0.3" fill="#111" opacity="0.55"/>
<circle cx="165.67" cy="186.28" r="0.3" fill="#111" opacity="0.55"/>
<circle cx="164.59" cy="172" r="0.3" fill="#111" opacity="0.55"/>
<circle cx="165.04" cy="184.89" r="0.3" fill="#111" opacity="0.55"/>
<circle cx="167.04" cy="192.96" r="0.3" fill="#111" opacity="0.55"/>
<circle cx="166.05" cy="184.43" r="0.3" fill="#111" opacity="0.55"/>
<circle cx="171.29" cy="184.37" r="0.3" fill="#111" opacity="0.55"/>
<circle cx="163.65" cy="199.72" r="0.3" fill="#111" opacity="0.55"/>
<circle cx="163.21" cy="190.01" r="0.3" fill="#111" opacity="0.55"/>
<circle cx="169.99" cy="192.62" r="0.3" fill="#111" opacity="0.55"/>
<circle cx="168.61" cy="189.33" r="0.3" fill="#111" opacity="0.55"/>
<circle cx="163.09" cy="185.87" r="0.3" fill="#111" opacity="0.55"/>
<circle cx="164.26" cy="204.2" r="0.3" fill="#111" opacity="0.55"/>
<circle cx="171.2" cy="189.28" r="0.3" fill="#111" opacity="0.55"/>
<circle cx="165.27" cy="191.5" r="0.3" fill="#111" opacity="0.55"/>
<circle cx="169.19" cy="192.57" r="0.3" fill="#111" opacity="0.55"/>
<circle cx="167.36" cy="192.92" r="0.3" fill="#111" opacity="0.55"/>
<circle cx="170.97" cy="183.01" r="0.3" fill="#111" opacity="0.55"/>
<circle cx="172.48" cy="182.49" r="0.3" fill="#111" opacity="0.55"/>
<circle cx="167.65" cy="188.87" r="0.3" fill="#111" opacity="0.55"/>
<circle cx="164.69" cy="186.11" r="0.3" fill="#111" opacity="0.55"/>
<circle cx="170.04" cy="200.02" r="0.3" fill="#111" opacity="0.55"/>
<circle cx="164.69" cy="191.61" r="0.3" fill="#111" opacity="0.55"/>
<circle cx="169.87" cy="189.97" r="0.3" fill="#111" opacity="0.55"/>
<circle cx="168.1" cy="198.3" r="0.3" fill="#111" opacity="0.55"/>
<circle cx="166.84" cy="180.89" r="0.3" fill="#111" opacity="0.55"/>
<circle cx="170.82" cy="182.15" r="0.3" fill="#111" opacity="0.55"/>
<circle cx="172.23" cy="193.84" r="0.3" fill="#111" opacity="0.55"/>
<circle cx="170.12" cy="189.1" r="0.3" fill="#111" opacity="0.55"/>
<circle cx="169.16" cy="197.02" r="0.3" fill="#111" opacity="0.55"/>
<circle cx="172" cy="197.41" r="0.3" fill="#111" opacity="0.55"/>
<circle cx="171.69" cy="183.58" r="0.3" fill="#111" opacity="0.55"/>
<circle cx="170.87" cy="198.25" r="0.3" fill="#111" opacity="0.55"/>
<circle cx="169.41" cy="199.39" r="0.3" fill="#111" opacity="0.55"/>
<circle cx="164.95" cy="187.94" r="0.3" fill="#111" opacity="0.55"/>
<circle cx="169.32" cy="188.41" r="0.3" fill="#111" opacity="0.55"/>
<circle cx="170.08" cy="176.45" r="0.3" fill="#111" opacity="0.55"/>
<circle cx="172.7" cy="194.92" r="0.3" fill="#111" opacity="0.55"/>
<circle cx="172.67" cy="207.71" r="0.3" fill="#111" opacity="0.55"/>
<circle cx="166.1" cy="177.23" r="0.3" fill="#111" opacity="0.55"/>
<circle cx="172" cy="187.74" r="0.3" fill="#111" opacity="0.55"/>
<circle cx="163.73" cy="195.57" r="0.3" fill="#111" opacity="0.55"/>
<circle cx="167.31" cy="185.17" r="0.3" fill="#111" opacity="0.55"/>
<circle cx="167.77" cy="178" r="0.3" fill="#111" opacity="0.55"/>
<circle cx="163.18" cy="186.75" r="0.3" fill="#111" opacity="0.55"/>
<circle cx="170.9" cy="192.06" r="0.3" fill="#111" opacity="0.55"/>
<circle cx="164.63" cy="188.29" r="0.3" fill="#111" opacity="0.55"/>
<circle cx="164.31" cy="183.83" r="0.3" fill="#111" opacity="0.55"/>
<circle cx="164.39" cy="203.13" r="0.3" fill="#111" opacity="0.55"/>
<circle cx="171.3" cy="178.24" r="0.3" fill="#111" opacity="0.55"/>
<circle cx="169.79" cy="189.67" r="0.3" fill="#111" opacity="0.55"/>
<circle cx="172.39" cy="199.78" r="0.3" fill="#111" opacity="0.55"/>
<circle cx="163.76" cy="187.88" r="0.3" fill="#111" opacity="0.55"/>
<circle cx="165.8" cy="192.75" r="0.3" fill="#111" opacity="0.55"/>
<circle cx="170.19" cy="200.63" r="0.3" fill="#111" opacity="0.55"/>
<circle cx="171.34" cy="184.74" r="0.3" fill="#111" opacity="0.55"/>
<circle cx="168.5" cy="183.55" r="0.3" fill="#111" opacity="0.55"/>
<circle cx="171.35" cy="188.04" r="0.3" fill="#111" opacity="0.55"/>
<circle cx="171.91" cy="198.26" r="0.3" fill="#111" opacity="0.55"/>
<circle cx="172.58" cy="195.05" r="0.3" fill="#111" opacity="0.55"/>
<circle cx="168.14" cy="206.07" r="0.3" fill="#111" opacity="0.55"/>
<circle cx="168.26" cy="186.19" r="0.3" fill="#111" opacity="0.55"/>
<circle cx="167.93" cy="188.63" r="0.3" fill="#111" opacity="0.55"/>
<circle cx="172.59" cy="189.5" r="0.3" fill="#111" opacity="0.55"/>
<circle cx="168.06" cy="189.83" r="0.3" fill="#111" opacity="0.55"/>
<circle cx="168.53" cy="179.34" r="0.3" fill="#111" opacity="0.55"/>
<circle cx="167.81" cy="199.41" r="0.3" fill="#111" opacity="0.55"/>
<circle cx="168.29" cy="189.93" r="0.3" fill="#111" opacity="0.55"/>
<circle cx="167.04" cy="188.25" r="0.3" fill="#111" opacity="0.55"/>
<circle cx="165.59" cy="186.14" r="0.3" fill="#111" opacity="0.55"/>
<circle cx="167.24" cy="186.89" r="0.3" fill="#111" opacity="0.55"/>
<circle cx="171.06" cy="191.7" r="0.3" fill="#111" opacity="0.55"/>
<circle cx="166.07" cy="198.38" r="0.3" fill="#111" opacity="0.55"/>
<circle cx="164.81" cy="185.68" r="0.3" fill="#111" opacity="0.55"/>
<circle cx="164.19" cy="177.55" r="0.3" fill="#111" opacity="0.55"/>
<circle cx="170.69" cy="178.7" r="0.3" fill="#111" opacity="0.55"/>
<circle cx="165.17" cy="196.2" r="0.3" fill="#111" opacity="0.55"/>
<circle cx="169.77" cy="191.75" r="0.3" fill="#111" opacity="0.55"/>
<circle cx="169.1" cy="187.72" r="0.3" fill="#111" opacity="0.55"/>
<circle cx="163.95" cy="197.74" r="0.3" fill="#111" opacity="0.55"/>
<circle cx="168" cy="190.51" r="0.3" fill="#111" opacity="0.55"/>
<circle cx="165.41" cy="186.93" r="0.3" fill="#111" opacity="0.55"/>
<circle cx="167.27" cy="194.17" r="0.3" fill="#111" opacity="0.55"/>
<circle cx="166.66" cy="200.31" r="0.3" fill="#111" opacity="0.55"/>
<circle cx="164.5" cy="182.6" r="0.3" fill="#111" opacity="0.55"/>
<circle cx="164.94" cy="196.08" r="0.3" fill="#111" opacity="0.55"/>
<circle cx="168.2" cy="183.26" r="0.3" fill="#111" opacity="0.55"/>
<circle cx="171.41" cy="182.62" r="0.3" fill="#111" opacity="0.55"/>
<circle cx="165.23" cy="178.96" r="0.3" fill="#111" opacity="0.55"/>
<circle cx="170.31" cy="180.82" r="0.3" fill="#111" opacity="0.55"/>
<circle cx="166.06" cy="197.41" r="0.3" fill="#111" opacity="0.55"/>
<circle cx="166.05" cy="174.96" r="0.3" fill="#111" opacity="0.55"/>
<circle cx="172.88" cy="195.96" r="0.3" fill="#111" opacity="0.55"/>
<circle cx="171.78" cy="188.38" r="0.3" fill="#111" opacity="0.55"/>
<circle cx="170.17" cy="194.94" r="0.3" fill="#111" opacity="0.55"/>
<circle cx="165.49" cy="195.41" r="0.3" fill="#111" opacity="0.55"/>
<circle cx="167.12" cy="203.39" r="0.3" fill="#111" opacity="0.55"/>
<circle cx="170.8" cy="199.65" r="0.3" fill="#111" opacity="0.55"/>
<circle cx="169.75" cy="196.71" r="0.3" fill="#111" opacity="0.55"/>
<circle cx="163.08" cy="196.78" r="0.3" fill="#111" opacity="0.55"/>
<circle cx="172.01" cy="194.68" r="0.3" fill="#111" opacity="0.55"/>
<circle cx="172.58" cy="202.55" r="0.3" fill="#111" opacity="0.55"/>
<circle cx="170.48" cy="198.11" r="0.3" fill="#111" opacity="0.55"/>
<circle cx="167.93" cy="197.3" r="0.3" fill="#111" opacity="0.55"/>
<circle cx="163.61" cy="188.96" r="0.3" fill="#111" opacity="0.55"/>
<circle cx="163.96" cy="186.24" r="0.3" fill="#111" opacity="0.55"/>
<circle cx="168.05" cy="200.85" r="0.3" fill="#111" opacity="0.55"/>
<circle cx="168.59" cy="193.36" r="0.3" fill="#111" opacity="0.55"/>
<circle cx="164.94" cy="194.09" r="0.3" fill="#111" opacity="0.55"/>
<circle cx="171.3" cy="195.07" r="0.3" fill="#111" opacity="0.55"/>
<circle cx="163.85" cy="189.89" r="0.3" fill="#111" opacity="0.55"/>
<circle cx="167.52" cy="198.47" r="0.3" fill="#111" opacity="0.55"/>
<circle cx="167.57" cy="191.66" r="0.3" fill="#111" opacity="0.55"/>
<circle cx="168.05" cy="183.91" r="0.3" fill="#111" opacity="0.55"/>
<circle cx="163.03" cy="181.19" r="0.3" fill="#111" opacity="0.55"/>
<circle cx="169.91" cy="195.61" r="0.3" fill="#111" opacity="0.55"/>
<circle cx="167.44" cy="193.82" r="0.3" fill="#111" opacity="0.55"/>
<circle cx="170.29" cy="186.8" r="0.3" fill="#111" opacity="0.55"/>
<circle cx="164.55" cy="186.63" r="0.3" fill="#111" opacity="0.55"/>
<circle cx="168.03" cy="193.95" r="0.3" fill="#111" opacity="0.55"/>
<circle cx="170.92" cy="192.64" r="0.3" fill="#111" opacity="0.55"/>
<circle cx="169.19" cy="186.54" r="0.3" fill="#111" opacity="0.55"/>
<circle cx="166.95" cy="175.75" r="0.3" fill="#111" opacity="0.55"/>
<circle cx="172.73" cy="183.32" r="0.3" fill="#111" opacity="0.55"/>
<circle cx="170.95" cy="185.45" r="0.3" fill="#111" opacity="0.55"/>
<circle cx="170.34" cy="190.09" r="0.3" fill="#111" opacity="0.55"/>
<circle cx="166.96" cy="193.57" r="0.3" fill="#111" opacity="0.55"/>
<circle cx="171.87" cy="176.54" r="0.3" fill="#111" opacity="0.55"/>
<circle cx="170.57" cy="199.98" r="0.3" fill="#111" opacity="0.55"/>
<circle cx="170.55" cy="182.55" r="0.3" fill="#111" opacity="0.55"/>
<circle cx="163.61" cy="180.37" r="0.3" fill="#111" opacity="0.55"/>
<circle cx="166.32" cy="198.15" r="0.3" fill="#111" opacity="0.55"/>
<circle cx="166.46" cy="189.85" r="0.3" fill="#111" opacity="0.55"/>
<circle cx="169.29" cy="191.23" r="0.3" fill="#111" opacity="0.55"/>
<circle cx="172.35" cy="186.86" r="0.3" fill="#111" opacity="0.55"/>
<circle cx="169.56" cy="186.91" r="0.3" fill="#111" opacity="0.55"/>
<circle cx="168.6" cy="184.84" r="0.3" fill="#111" opacity="0.55"/>
<circle cx="168.23" cy="201" r="0.3" fill="#111" opacity="0.55"/>
<circle cx="170.52" cy="183.21" r="0.3" fill="#111" opacity="0.55"/>
<circle cx="172.7" cy="181.31" r="0.3" fill="#111" opacity="0.55"/>
<circle cx="170.29" cy="201.95" r="0.3" fill="#111" opacity="0.55"/>
<circle cx="165.47" cy="192.58" r="0.3" fill="#111" opacity="0.55"/>
<circle cx="168.5" cy="188.69" r="0.28" fill="#222" opacity="0.45"/>
<circle cx="170.83" cy="193.87" r="0.28" fill="#222" opacity="0.45"/>
<circle cx="169.31" cy="196.45" r="0.28" fill="#222" opacity="0.45"/>
<circle cx="165.64" cy="200.22" r="0.28" fill="#222" opacity="0.45"/>
<circle cx="164.13" cy="179.11" r="0.28" fill="#222" opacity="0.45"/>
<circle cx="171.73" cy="178.78" r="0.28" fill="#222" opacity="0.45"/>
<circle cx="167.96" cy="196.47" r="0.28" fill="#222" opacity="0.45"/>
<circle cx="169.61" cy="188.33" r="0.28" fill="#222" opacity="0.45"/>
<circle cx="165.98" cy="188.79" r="0.28" fill="#222" opacity="0.45"/>
<circle cx="163.5" cy="191.95" r="0.28" fill="#222" opacity="0.45"/>
<circle cx="175.1" cy="191.34" r="0.28" fill="#222" opacity="0.45"/>
<circle cx="164.46" cy="198.63" r="0.28" fill="#222" opacity="0.45"/>
<circle cx="165.41" cy="196.14" r="0.28" fill="#222" opacity="0.45"/>
<circle cx="166.86" cy="186.16" r="0.28" fill="#222" opacity="0.45"/>
<circle cx="165.47" cy="203.52" r="0.28" fill="#222" opacity="0.45"/>
<circle cx="167.34" cy="188.33" r="0.28" fill="#222" opacity="0.45"/>
<circle cx="170.29" cy="183.79" r="0.28" fill="#222" opacity="0.45"/>
<circle cx="169.7" cy="191.58" r="0.28" fill="#222" opacity="0.45"/>
<circle cx="167.99" cy="192.36" r="0.28" fill="#222" opacity="0.45"/>
<circle cx="172.15" cy="182.25" r="0.28" fill="#222" opacity="0.45"/>
<circle cx="169.08" cy="199.17" r="0.28" fill="#222" opacity="0.45"/>
<circle cx="170.71" cy="189.82" r="0.28" fill="#222" opacity="0.45"/>
<circle cx="168.05" cy="194.32" r="0.28" fill="#222" opacity="0.45"/>
<circle cx="172.63" cy="201.7" r="0.28" fill="#222" opacity="0.45"/>
<circle cx="169.67" cy="195.83" r="0.28" fill="#222" opacity="0.45"/>
<circle cx="171.26" cy="180.06" r="0.28" fill="#222" opacity="0.45"/>
<circle cx="165.82" cy="199.15" r="0.28" fill="#222" opacity="0.45"/>
<circle cx="171.61" cy="192.63" r="0.28" fill="#222" opacity="0.45"/>
<circle cx="170.36" cy="194.46" r="0.28" fill="#222" opacity="0.45"/>
<circle cx="166.16" cy="197.7" r="0.28" fill="#222" opacity="0.45"/>
<circle cx="167.58" cy="182.56" r="0.28" fill="#222" opacity="0.45"/>
<circle cx="163.04" cy="202.59" r="0.28" fill="#222" opacity="0.45"/>
<circle cx="172.88" cy="185.12" r="0.28" fill="#222" opacity="0.45"/>
<circle cx="168.01" cy="186.8" r="0.28" fill="#222" opacity="0.45"/>
<circle cx="172.28" cy="195.32" r="0.28" fill="#222" opacity="0.45"/>
<circle cx="165.76" cy="181.38" r="0.28" fill="#222" opacity="0.45"/>
<circle cx="167.24" cy="185.13" r="0.28" fill="#222" opacity="0.45"/>
<circle cx="163.97" cy="204.25" r="0.28" fill="#222" opacity="0.45"/>
<circle cx="164.31" cy="186.33" r="0.28" fill="#222" opacity="0.45"/>
<circle cx="168.79" cy="180.07" r="0.28" fill="#222" opacity="0.45"/>
<circle cx="174.96" cy="197.19" r="0.28" fill="#222" opacity="0.45"/>
<circle cx="168.56" cy="188.51" r="0.28" fill="#222" opacity="0.45"/>
<circle cx="170.26" cy="189.28" r="0.28" fill="#222" opacity="0.45"/>
<circle cx="163.91" cy="193.61" r="0.28" fill="#222" opacity="0.45"/>
<circle cx="171.1" cy="196.57" r="0.28" fill="#222" opacity="0.45"/>
<circle cx="169.12" cy="197.6" r="0.28" fill="#222" opacity="0.45"/>
<circle cx="166.09" cy="192.65" r="0.28" fill="#222" opacity="0.45"/>
<circle cx="165.8" cy="181.04" r="0.28" fill="#222" opacity="0.45"/>
<circle cx="165.72" cy="184.76" r="0.28" fill="#222" opacity="0.45"/>
<circle cx="164.96" cy="191.81" r="0.28" fill="#222" opacity="0.45"/>
<circle cx="168.56" cy="203.1" r="0.28" fill="#222" opacity="0.45"/>
<circle cx="172.15" cy="188.06" r="0.28" fill="#222" opacity="0.45"/>
<circle cx="164" cy="201.95" r="0.28" fill="#222" opacity="0.45"/>
<circle cx="168.67" cy="180.44" r="0.28" fill="#222" opacity="0.45"/>
<circle cx="167.6" cy="200" r="0.28" fill="#222" opacity="0.45"/>
<circle cx="164.73" cy="207.01" r="0.28" fill="#222" opacity="0.45"/>
<circle cx="170.73" cy="200.4" r="0.28" fill="#222" opacity="0.45"/>
<circle cx="162.85" cy="190.47" r="0.28" fill="#222" opacity="0.45"/>
<circle cx="170.87" cy="186.62" r="0.28" fill="#222" opacity="0.45"/>
<circle cx="166.92" cy="186.56" r="0.28" fill="#222" opacity="0.45"/>
<circle cx="168.82" cy="193.91" r="0.28" fill="#222" opacity="0.45"/>
<circle cx="171.48" cy="188.49" r="0.28" fill="#222" opacity="0.45"/>
<circle cx="163.06" cy="196.65" r="0.28" fill="#222" opacity="0.45"/>
<circle cx="166.23" cy="192.27" r="0.28" fill="#222" opacity="0.45"/>
<circle cx="169.87" cy="205.5" r="0.28" fill="#222" opacity="0.45"/>
<circle cx="167.21" cy="193.8" r="0.28" fill="#222" opacity="0.45"/>
<circle cx="166.19" cy="187.91" r="0.28" fill="#222" opacity="0.45"/>
<circle cx="167" cy="204.34" r="0.28" fill="#222" opacity="0.45"/>
<circle cx="169.78" cy="184.26" r="0.28" fill="#222" opacity="0.45"/>
<circle cx="167.44" cy="197.48" r="0.28" fill="#222" opacity="0.45"/>
<circle cx="171.62" cy="182.69" r="0.28" fill="#222" opacity="0.45"/>
<circle cx="161.4" cy="200.3" r="0.28" fill="#222" opacity="0.45"/>
<circle cx="174.48" cy="182.69" r="0.28" fill="#222" opacity="0.45"/>
<circle cx="162.56" cy="183.83" r="0.28" fill="#222" opacity="0.45"/>
<circle cx="166.96" cy="197.03" r="0.28" fill="#222" opacity="0.45"/>
<circle cx="161.86" cy="198.24" r="0.28" fill="#222" opacity="0.45"/>
<circle cx="169.81" cy="203.13" r="0.28" fill="#222" opacity="0.45"/>
<circle cx="165.93" cy="186.92" r="0.28" fill="#222" opacity="0.45"/>
<circle cx="165.8" cy="197.41" r="0.28" fill="#222" opacity="0.45"/>
<circle cx="166.3" cy="197.69" r="0.28" fill="#222" opacity="0.45"/>
<circle cx="162.64" cy="194.76" r="0.28" fill="#222" opacity="0.45"/>
<circle cx="162.01" cy="184.87" r="0.28" fill="#222" opacity="0.45"/>
<circle cx="166.06" cy="186.78" r="0.28" fill="#222" opacity="0.45"/>
<circle cx="168.27" cy="188.89" r="0.28" fill="#222" opacity="0.45"/>
<circle cx="167.77" cy="172.88" r="0.28" fill="#222" opacity="0.45"/>
<circle cx="163.91" cy="192.83" r="0.28" fill="#222" opacity="0.45"/>
<circle cx="160.3" cy="189.92" r="0.28" fill="#222" opacity="0.45"/>
<circle cx="164.54" cy="181.57" r="0.28" fill="#222" opacity="0.45"/>
<circle cx="171.6" cy="178.07" r="0.28" fill="#222" opacity="0.45"/>
<circle cx="168.22" cy="195.34" r="0.28" fill="#222" opacity="0.45"/>
<circle cx="172.46" cy="187.42" r="0.28" fill="#222" opacity="0.45"/>
<circle cx="168.98" cy="198.06" r="0.28" fill="#222" opacity="0.45"/>
<circle cx="166.71" cy="188.81" r="0.28" fill="#222" opacity="0.45"/>
<circle cx="167.78" cy="187.34" r="0.28" fill="#222" opacity="0.45"/>
<circle cx="167.96" cy="178.27" r="0.28" fill="#222" opacity="0.45"/>
<circle cx="168.27" cy="197.21" r="0.28" fill="#222" opacity="0.45"/>
<circle cx="168.2" cy="180.36" r="0.28" fill="#222" opacity="0.45"/>
<circle cx="163.49" cy="182.22" r="0.28" fill="#222" opacity="0.45"/>
<circle cx="164.6" cy="186.19" r="0.28" fill="#222" opacity="0.45"/>
<circle cx="166.71" cy="177.33" r="0.28" fill="#222" opacity="0.45"/>
<circle cx="161.04" cy="185.92" r="0.28" fill="#222" opacity="0.45"/>
<circle cx="171.09" cy="177.07" r="0.28" fill="#222" opacity="0.45"/>
<circle cx="162.47" cy="182.38" r="0.28" fill="#222" opacity="0.45"/>
<circle cx="162.21" cy="196.74" r="0.28" fill="#222" opacity="0.45"/>
<circle cx="165.42" cy="176.74" r="0.28" fill="#222" opacity="0.45"/>
<circle cx="166.47" cy="182.73" r="0.28" fill="#222" opacity="0.45"/>
<circle cx="164.95" cy="175.65" r="0.28" fill="#222" opacity="0.45"/>
<circle cx="171.09" cy="195.35" r="0.28" fill="#222" opacity="0.45"/>
<circle cx="171" cy="202.5" r="0.28" fill="#222" opacity="0.45"/>
<circle cx="168.97" cy="190.52" r="0.28" fill="#222" opacity="0.45"/>
<circle cx="165.53" cy="196.17" r="0.28" fill="#222" opacity="0.45"/>
<circle cx="169" cy="194.32" r="0.28" fill="#222" opacity="0.45"/>
<circle cx="167.33" cy="190.42" r="0.28" fill="#222" opacity="0.45"/>
<circle cx="164.59" cy="195.06" r="0.28" fill="#222" opacity="0.45"/>
<circle cx="168.39" cy="178.8" r="0.28" fill="#222" opacity="0.45"/>
<circle cx="163.8" cy="193.85" r="0.28" fill="#222" opacity="0.45"/>
<circle cx="168.63" cy="193.99" r="0.28" fill="#222" opacity="0.45"/>
<circle cx="169.49" cy="189.71" r="0.28" fill="#222" opacity="0.45"/>
<circle cx="168.38" cy="194.55" r="0.28" fill="#222" opacity="0.45"/>
<circle cx="167.02" cy="197.31" r="0.28" fill="#222" opacity="0.45"/>
<line x1="167.9" y1="181" x2="167.9" y2="186.8" stroke="#222" stroke-width="0.35"/>
<line x1="167.9" y1="194.2" x2="167.9" y2="200" stroke="#222" stroke-width="0.35"/>
<rect x="166.7" y="186.8" width="2.4" height="7.4" fill="#E04848" stroke="#222" stroke-width="0.35"/>
<line x1="166.7" y1="190.5" x2="169.1" y2="190.5" stroke="#222" stroke-width="0.4"/>
<path d="M181.9,169.8 L181.91,170.51 L181.93,171.22 L181.96,171.93 L182,172.63 L182.05,173.34 L182.09,174.05 L182.13,174.76 L182.17,175.47 L182.19,176.18 L182.2,176.88 L182.31,177.59 L182.68,178.3 L183.25,179.01 L183.92,179.72 L184.62,180.43 L185.28,181.14 L185.81,181.84 L186.14,182.55 L186.21,183.26 L186.33,183.97 L186.56,184.68 L186.84,185.39 L187.15,186.09 L187.44,186.8 L187.66,187.51 L187.79,188.22 L187.78,188.93 L187.7,189.64 L187.56,190.35 L187.37,191.05 L187.16,191.76 L186.93,192.47 L186.71,193.18 L186.51,193.89 L186.35,194.6 L186.24,195.31 L186.2,196.01 L186.09,196.72 L185.81,197.43 L185.4,198.14 L184.9,198.85 L184.36,199.56 L183.82,200.26 L183.33,200.97 L182.94,201.68 L182.68,202.39 L182.6,203.1 L182.58,203.81 L182.54,204.52 L182.48,205.22 L182.41,205.93 L182.33,206.64 L182.24,207.35 L182.16,208.06 L182.08,208.77 L182.01,209.47 L181.95,210.18 L181.91,210.89 L181.9,211.6 L181.3,211.6 L181.29,210.89 L181.25,210.18 L181.19,209.47 L181.12,208.77 L181.04,208.06 L180.96,207.35 L180.87,206.64 L180.79,205.93 L180.72,205.22 L180.66,204.52 L180.62,203.81 L180.6,203.1 L180.52,202.39 L180.26,201.68 L179.87,200.97 L179.38,200.26 L178.84,199.56 L178.3,198.85 L177.8,198.14 L177.39,197.43 L177.11,196.72 L177,196.01 L176.96,195.31 L176.85,194.6 L176.69,193.89 L176.49,193.18 L176.27,192.47 L176.04,191.76 L175.83,191.05 L175.64,190.35 L175.5,189.64 L175.42,188.93 L175.41,188.22 L175.54,187.51 L175.76,186.8 L176.05,186.09 L176.36,185.39 L176.64,184.68 L176.87,183.97 L176.99,183.26 L177.06,182.55 L177.39,181.84 L177.92,181.14 L178.58,180.43 L179.28,179.72 L179.95,179.01 L180.52,178.3 L180.89,177.59 L181,176.88 L181.01,176.18 L181.03,175.47 L181.07,174.76 L181.11,174.05 L181.15,173.34 L181.2,172.63 L181.24,171.93 L181.27,171.22 L181.29,170.51 L181.3,169.8 Z" fill="#13898F" stroke="#333" stroke-width="0.3"/>
<circle cx="178.29" cy="179.79" r="0.3" fill="#111" opacity="0.7"/>
<circle cx="177.67" cy="191.26" r="0.3" fill="#111" opacity="0.7"/>
<circle cx="184.69" cy="194.22" r="0.3" fill="#111" opacity="0.7"/>
<circle cx="185.41" cy="185.66" r="0.3" fill="#111" opacity="0.7"/>
<circle cx="181.35" cy="197.17" r="0.3" fill="#111" opacity="0.7"/>
<circle cx="186.57" cy="188.04" r="0.3" fill="#111" opacity="0.7"/>
<circle cx="179.7" cy="203.6" r="0.3" fill="#111" opacity="0.7"/>
<circle cx="181.39" cy="172.21" r="0.3" fill="#111" opacity="0.7"/>
<circle cx="178.25" cy="183.85" r="0.3" fill="#111" opacity="0.7"/>
<circle cx="185.22" cy="205.17" r="0.3" fill="#111" opacity="0.7"/>
<circle cx="180.22" cy="194.22" r="0.3" fill="#111" opacity="0.7"/>
<circle cx="178.89" cy="180.7" r="0.3" fill="#111" opacity="0.7"/>
<circle cx="187.48" cy="187.55" r="0.3" fill="#111" opacity="0.7"/>
<circle cx="175.73" cy="186.17" r="0.3" fill="#111" opacity="0.7"/>
<circle cx="181.27" cy="184.69" r="0.3" fill="#111" opacity="0.7"/>
<circle cx="184.16" cy="180.36" r="0.3" fill="#111" opacity="0.7"/>
<circle cx="182.87" cy="198.03" r="0.3" fill="#111" opacity="0.7"/>
<circle cx="179.46" cy="191.25" r="0.3" fill="#111" opacity="0.7"/>
<circle cx="178.71" cy="192.42" r="0.3" fill="#111" opacity="0.7"/>
<circle cx="183.24" cy="194.74" r="0.3" fill="#111" opacity="0.7"/>
<circle cx="187.52" cy="182.82" r="0.3" fill="#111" opacity="0.7"/>
<circle cx="177.41" cy="188.1" r="0.3" fill="#111" opacity="0.7"/>
<circle cx="184.84" cy="197.61" r="0.3" fill="#111" opacity="0.7"/>
<circle cx="185.75" cy="201.99" r="0.3" fill="#111" opacity="0.7"/>
<circle cx="185.47" cy="189.11" r="0.3" fill="#111" opacity="0.7"/>
<circle cx="184.2" cy="193.82" r="0.3" fill="#111" opacity="0.7"/>
<circle cx="176.77" cy="191.75" r="0.3" fill="#111" opacity="0.7"/>
<circle cx="187.07" cy="181.19" r="0.3" fill="#111" opacity="0.7"/>
<circle cx="182.64" cy="189.98" r="0.3" fill="#111" opacity="0.7"/>
<circle cx="185.07" cy="192.72" r="0.3" fill="#111" opacity="0.7"/>
<circle cx="180.6" cy="184.35" r="0.3" fill="#111" opacity="0.7"/>
<circle cx="185.52" cy="191.65" r="0.3" fill="#111" opacity="0.7"/>
<circle cx="178.1" cy="187.47" r="0.3" fill="#111" opacity="0.7"/>
<circle cx="177.49" cy="180.77" r="0.3" fill="#111" opacity="0.7"/>
<circle cx="185.58" cy="186.7" r="0.3" fill="#111" opacity="0.7"/>
<circle cx="176.51" cy="186.73" r="0.3" fill="#111" opacity="0.7"/>
<circle cx="179.27" cy="194.6" r="0.3" fill="#111" opacity="0.7"/>
<circle cx="179.92" cy="178.14" r="0.3" fill="#111" opacity="0.7"/>
<circle cx="183.85" cy="191.27" r="0.3" fill="#111" opacity="0.7"/>
<circle cx="181.14" cy="194.52" r="0.3" fill="#111" opacity="0.7"/>
<circle cx="187.2" cy="193.32" r="0.3" fill="#111" opacity="0.7"/>
<circle cx="175.75" cy="193.9" r="0.3" fill="#111" opacity="0.7"/>
<circle cx="180.13" cy="180.06" r="0.3" fill="#111" opacity="0.7"/>
<circle cx="182.37" cy="187.72" r="0.3" fill="#111" opacity="0.7"/>
<circle cx="181.1" cy="184.01" r="0.3" fill="#111" opacity="0.7"/>
<circle cx="185.19" cy="210.6" r="0.3" fill="#111" opacity="0.7"/>
<circle cx="178.08" cy="190.42" r="0.3" fill="#111" opacity="0.7"/>
<circle cx="180.11" cy="184.68" r="0.3" fill="#111" opacity="0.7"/>
<circle cx="182.08" cy="185.14" r="0.3" fill="#111" opacity="0.7"/>
<circle cx="180.31" cy="187.11" r="0.3" fill="#111" opacity="0.7"/>
<circle cx="183.6" cy="195.06" r="0.3" fill="#111" opacity="0.7"/>
<circle cx="184.38" cy="188.81" r="0.3" fill="#111" opacity="0.7"/>
<circle cx="179.55" cy="193.67" r="0.3" fill="#111" opacity="0.7"/>
<circle cx="184.29" cy="197.47" r="0.3" fill="#111" opacity="0.7"/>
<circle cx="179.58" cy="185.95" r="0.3" fill="#111" opacity="0.7"/>
<circle cx="177.29" cy="190.43" r="0.3" fill="#111" opacity="0.7"/>
<circle cx="176.73" cy="186.27" r="0.3" fill="#111" opacity="0.7"/>
<circle cx="177.76" cy="184.18" r="0.3" fill="#111" opacity="0.7"/>
<circle cx="180.43" cy="179.13" r="0.3" fill="#111" opacity="0.7"/>
<circle cx="176.68" cy="193.87" r="0.3" fill="#111" opacity="0.7"/>
<circle cx="178.32" cy="180.98" r="0.3" fill="#111" opacity="0.7"/>
<circle cx="180.48" cy="190.99" r="0.3" fill="#111" opacity="0.7"/>
<circle cx="176.47" cy="192.01" r="0.3" fill="#111" opacity="0.7"/>
<circle cx="181.74" cy="195.49" r="0.3" fill="#111" opacity="0.7"/>
<circle cx="183.37" cy="185.47" r="0.3" fill="#111" opacity="0.7"/>
<circle cx="180.23" cy="190.37" r="0.3" fill="#111" opacity="0.7"/>
<circle cx="179.58" cy="176.09" r="0.3" fill="#111" opacity="0.7"/>
<circle cx="180.41" cy="187.95" r="0.3" fill="#111" opacity="0.7"/>
<circle cx="184" cy="189.65" r="0.3" fill="#111" opacity="0.7"/>
<circle cx="183.52" cy="201.28" r="0.3" fill="#111" opacity="0.7"/>
<circle cx="182.9" cy="187.6" r="0.3" fill="#111" opacity="0.7"/>
<circle cx="179.71" cy="195.23" r="0.3" fill="#111" opacity="0.7"/>
<circle cx="183.41" cy="189.73" r="0.3" fill="#111" opacity="0.7"/>
<circle cx="181.71" cy="194.35" r="0.3" fill="#111" opacity="0.7"/>
<circle cx="185.06" cy="193.22" r="0.3" fill="#111" opacity="0.7"/>
<circle cx="177.5" cy="193.38" r="0.3" fill="#111" opacity="0.7"/>
<circle cx="184.8" cy="180.43" r="0.3" fill="#111" opacity="0.7"/>
<circle cx="179.83" cy="196.24" r="0.3" fill="#111" opacity="0.7"/>
<circle cx="181.6" cy="183.95" r="0.3" fill="#111" opacity="0.7"/>
<circle cx="187.44" cy="195.96" r="0.3" fill="#111" opacity="0.7"/>
<circle cx="181.79" cy="197.6" r="0.3" fill="#111" opacity="0.7"/>
<circle cx="177.97" cy="186.13" r="0.3" fill="#111" opacity="0.7"/>
<circle cx="186.94" cy="176.01" r="0.3" fill="#111" opacity="0.7"/>
<circle cx="176.6" cy="185.76" r="0.3" fill="#111" opacity="0.7"/>
<circle cx="178.54" cy="185.67" r="0.3" fill="#111" opacity="0.7"/>
<circle cx="179.55" cy="179.41" r="0.3" fill="#111" opacity="0.7"/>
<circle cx="186.75" cy="184" r="0.3" fill="#111" opacity="0.7"/>
<circle cx="177.09" cy="183.98" r="0.3" fill="#111" opacity="0.7"/>
<circle cx="187.28" cy="194.98" r="0.3" fill="#111" opacity="0.7"/>
<circle cx="182.12" cy="198.98" r="0.3" fill="#111" opacity="0.7"/>
<circle cx="182.33" cy="200.41" r="0.3" fill="#111" opacity="0.7"/>
<circle cx="186.51" cy="183.9" r="0.3" fill="#111" opacity="0.7"/>
<circle cx="187.51" cy="186.97" r="0.3" fill="#111" opacity="0.7"/>
<circle cx="177.07" cy="192.91" r="0.3" fill="#111" opacity="0.7"/>
<circle cx="185.5" cy="180.35" r="0.3" fill="#111" opacity="0.7"/>
<circle cx="178.49" cy="185.42" r="0.3" fill="#111" opacity="0.7"/>
<circle cx="182.48" cy="203.49" r="0.3" fill="#111" opacity="0.7"/>
<circle cx="182.17" cy="191.18" r="0.3" fill="#111" opacity="0.7"/>
<circle cx="176.52" cy="185.08" r="0.3" fill="#111" opacity="0.7"/>
<circle cx="187.44" cy="193.32" r="0.3" fill="#111" opacity="0.7"/>
<circle cx="186.87" cy="189.88" r="0.3" fill="#111" opacity="0.7"/>
<circle cx="183.65" cy="185.73" r="0.3" fill="#111" opacity="0.7"/>
<circle cx="184.45" cy="183.96" r="0.3" fill="#111" opacity="0.7"/>
<circle cx="185.25" cy="182.1" r="0.3" fill="#111" opacity="0.7"/>
<circle cx="175.8" cy="195.34" r="0.3" fill="#111" opacity="0.7"/>
<circle cx="177.32" cy="191.45" r="0.3" fill="#111" opacity="0.7"/>
<circle cx="180.24" cy="196.47" r="0.3" fill="#111" opacity="0.7"/>
<circle cx="181.84" cy="185.08" r="0.3" fill="#111" opacity="0.7"/>
<circle cx="178.76" cy="187.17" r="0.3" fill="#111" opacity="0.7"/>
<circle cx="183.3" cy="183.28" r="0.3" fill="#111" opacity="0.7"/>
<circle cx="176.05" cy="186.39" r="0.3" fill="#111" opacity="0.7"/>
<circle cx="187.11" cy="187.14" r="0.3" fill="#111" opacity="0.7"/>
<circle cx="182.8" cy="185.56" r="0.3" fill="#111" opacity="0.7"/>
<circle cx="183.09" cy="181.92" r="0.3" fill="#111" opacity="0.7"/>
<circle cx="183.87" cy="190.35" r="0.3" fill="#111" opacity="0.7"/>
<circle cx="181.43" cy="189.59" r="0.3" fill="#111" opacity="0.7"/>
<circle cx="187.54" cy="177.33" r="0.3" fill="#111" opacity="0.7"/>
<circle cx="180.51" cy="196.24" r="0.3" fill="#111" opacity="0.7"/>
<circle cx="180.81" cy="177.3" r="0.3" fill="#111" opacity="0.7"/>
<circle cx="181.91" cy="175.09" r="0.3" fill="#111" opacity="0.7"/>
<circle cx="181.9" cy="182.88" r="0.3" fill="#111" opacity="0.7"/>
<circle cx="179.45" cy="175.19" r="0.3" fill="#111" opacity="0.7"/>
<circle cx="176.26" cy="195.26" r="0.3" fill="#111" opacity="0.7"/>
<circle cx="184.38" cy="186.7" r="0.3" fill="#111" opacity="0.7"/>
<circle cx="182.77" cy="174.15" r="0.3" fill="#111" opacity="0.7"/>
<circle cx="182.72" cy="189.07" r="0.3" fill="#111" opacity="0.7"/>
<circle cx="176.44" cy="183.03" r="0.3" fill="#111" opacity="0.7"/>
<circle cx="181.63" cy="194.41" r="0.3" fill="#111" opacity="0.7"/>
<circle cx="180.36" cy="194.37" r="0.3" fill="#111" opacity="0.7"/>
<circle cx="181.91" cy="199.22" r="0.3" fill="#111" opacity="0.7"/>
<circle cx="178.47" cy="192.46" r="0.3" fill="#111" opacity="0.7"/>
<circle cx="178.43" cy="186.57" r="0.3" fill="#111" opacity="0.7"/>
<circle cx="176.42" cy="195.59" r="0.3" fill="#111" opacity="0.7"/>
<circle cx="183.59" cy="204.48" r="0.3" fill="#111" opacity="0.7"/>
<circle cx="186" cy="179.35" r="0.3" fill="#111" opacity="0.7"/>
<circle cx="178.26" cy="177.85" r="0.3" fill="#111" opacity="0.7"/>
<circle cx="184.56" cy="195" r="0.3" fill="#111" opacity="0.7"/>
<circle cx="176.78" cy="175.18" r="0.3" fill="#111" opacity="0.7"/>
<circle cx="185.11" cy="182.83" r="0.3" fill="#111" opacity="0.7"/>
<circle cx="187.01" cy="195.19" r="0.3" fill="#111" opacity="0.7"/>
<circle cx="175.61" cy="195.1" r="0.3" fill="#111" opacity="0.7"/>
<circle cx="179.5" cy="189.23" r="0.3" fill="#111" opacity="0.7"/>
<circle cx="176.35" cy="194.9" r="0.3" fill="#111" opacity="0.7"/>
<circle cx="180.37" cy="199.17" r="0.3" fill="#111" opacity="0.7"/>
<circle cx="179.88" cy="181.12" r="0.3" fill="#111" opacity="0.7"/>
<circle cx="175.97" cy="187.16" r="0.3" fill="#111" opacity="0.7"/>
<circle cx="186.38" cy="187.9" r="0.3" fill="#111" opacity="0.7"/>
<circle cx="186.81" cy="186.08" r="0.3" fill="#111" opacity="0.7"/>
<circle cx="187.33" cy="196.69" r="0.3" fill="#111" opacity="0.7"/>
<circle cx="179.14" cy="184.31" r="0.3" fill="#111" opacity="0.7"/>
<circle cx="186.67" cy="189.81" r="0.3" fill="#111" opacity="0.7"/>
<circle cx="185.66" cy="192.68" r="0.3" fill="#111" opacity="0.7"/>
<circle cx="179.85" cy="186.21" r="0.3" fill="#111" opacity="0.7"/>
<circle cx="186.16" cy="184.76" r="0.3" fill="#111" opacity="0.7"/>
<circle cx="187.54" cy="189.74" r="0.3" fill="#111" opacity="0.7"/>
<circle cx="177.9" cy="191.94" r="0.3" fill="#111" opacity="0.7"/>
<circle cx="186.16" cy="198.46" r="0.3" fill="#111" opacity="0.7"/>
<circle cx="184.31" cy="192.15" r="0.3" fill="#111" opacity="0.7"/>
<circle cx="179.36" cy="190.02" r="0.3" fill="#111" opacity="0.7"/>
<circle cx="184.16" cy="200.45" r="0.3" fill="#111" opacity="0.7"/>
<circle cx="177.22" cy="180.72" r="0.3" fill="#111" opacity="0.7"/>
<circle cx="180.94" cy="183.5" r="0.3" fill="#111" opacity="0.7"/>
<circle cx="176.55" cy="173.44" r="0.3" fill="#111" opacity="0.7"/>
<circle cx="184.13" cy="190" r="0.3" fill="#111" opacity="0.7"/>
<circle cx="177.96" cy="194.91" r="0.3" fill="#111" opacity="0.7"/>
<circle cx="183.58" cy="191.15" r="0.3" fill="#111" opacity="0.7"/>
<circle cx="185.09" cy="193.65" r="0.3" fill="#111" opacity="0.7"/>
<circle cx="186.21" cy="181.82" r="0.3" fill="#111" opacity="0.7"/>
<circle cx="182.68" cy="196.4" r="0.3" fill="#111" opacity="0.7"/>
<circle cx="186.72" cy="189.78" r="0.3" fill="#111" opacity="0.7"/>
<circle cx="183.6" cy="194.87" r="0.3" fill="#111" opacity="0.7"/>
<circle cx="176.68" cy="187.32" r="0.3" fill="#111" opacity="0.7"/>
<circle cx="187.4" cy="198.86" r="0.3" fill="#111" opacity="0.7"/>
<circle cx="181.97" cy="181.01" r="0.3" fill="#111" opacity="0.7"/>
<circle cx="176.14" cy="192.14" r="0.3" fill="#111" opacity="0.7"/>
<circle cx="178.61" cy="184.36" r="0.3" fill="#111" opacity="0.7"/>
<circle cx="185.24" cy="185.64" r="0.3" fill="#111" opacity="0.7"/>
<circle cx="184.67" cy="193.9" r="0.3" fill="#111" opacity="0.7"/>
<circle cx="178.55" cy="191.99" r="0.3" fill="#111" opacity="0.7"/>
<circle cx="177.84" cy="187.4" r="0.3" fill="#111" opacity="0.7"/>
<circle cx="186.36" cy="197.68" r="0.3" fill="#111" opacity="0.7"/>
<circle cx="181.14" cy="190.83" r="0.3" fill="#111" opacity="0.7"/>
<circle cx="184.61" cy="188.86" r="0.3" fill="#111" opacity="0.7"/>
<circle cx="181.6" cy="176.93" r="0.3" fill="#111" opacity="0.7"/>
<circle cx="177.76" cy="199.68" r="0.3" fill="#111" opacity="0.7"/>
<circle cx="179.92" cy="179.54" r="0.3" fill="#111" opacity="0.7"/>
<circle cx="183.5" cy="185.53" r="0.3" fill="#111" opacity="0.7"/>
<circle cx="181.67" cy="190.74" r="0.3" fill="#111" opacity="0.7"/>
<circle cx="185.74" cy="180.74" r="0.3" fill="#111" opacity="0.7"/>
<circle cx="187.02" cy="185.59" r="0.3" fill="#111" opacity="0.7"/>
<circle cx="177.69" cy="181.23" r="0.3" fill="#111" opacity="0.7"/>
<circle cx="182.9" cy="189.78" r="0.3" fill="#111" opacity="0.7"/>
<circle cx="178.42" cy="184.87" r="0.3" fill="#111" opacity="0.7"/>
<circle cx="185.04" cy="177.78" r="0.3" fill="#111" opacity="0.7"/>
<circle cx="185.09" cy="193.41" r="0.3" fill="#111" opacity="0.7"/>
<circle cx="178.25" cy="189.72" r="0.3" fill="#111" opacity="0.7"/>
<circle cx="182.56" cy="197.08" r="0.3" fill="#111" opacity="0.7"/>
<circle cx="182.76" cy="187.12" r="0.3" fill="#111" opacity="0.7"/>
<circle cx="184.18" cy="189.01" r="0.3" fill="#111" opacity="0.7"/>
<circle cx="177.76" cy="176.24" r="0.3" fill="#111" opacity="0.7"/>
<circle cx="177.42" cy="182.73" r="0.3" fill="#111" opacity="0.7"/>
<circle cx="180.82" cy="197.14" r="0.3" fill="#111" opacity="0.7"/>
<circle cx="180.9" cy="189.91" r="0.3" fill="#111" opacity="0.7"/>
<circle cx="176.47" cy="187.98" r="0.3" fill="#111" opacity="0.7"/>
<circle cx="186.49" cy="201.49" r="0.3" fill="#111" opacity="0.7"/>
<circle cx="185.1" cy="181.05" r="0.3" fill="#111" opacity="0.7"/>
<circle cx="178.46" cy="185.32" r="0.3" fill="#111" opacity="0.7"/>
<circle cx="176.11" cy="192.67" r="0.3" fill="#111" opacity="0.7"/>
<circle cx="179.37" cy="193.8" r="0.3" fill="#111" opacity="0.7"/>
<circle cx="178.78" cy="182.81" r="0.3" fill="#111" opacity="0.7"/>
<circle cx="182.66" cy="183.1" r="0.3" fill="#111" opacity="0.7"/>
<circle cx="177.66" cy="200.02" r="0.3" fill="#111" opacity="0.7"/>
<circle cx="178.66" cy="195.85" r="0.3" fill="#111" opacity="0.7"/>
<circle cx="185.57" cy="194.76" r="0.3" fill="#111" opacity="0.7"/>
<circle cx="185.04" cy="198.05" r="0.3" fill="#111" opacity="0.7"/>
<circle cx="179.97" cy="195.67" r="0.3" fill="#111" opacity="0.7"/>
<circle cx="178.2" cy="191.7" r="0.3" fill="#111" opacity="0.7"/>
<circle cx="181.47" cy="191.02" r="0.3" fill="#111" opacity="0.7"/>
<circle cx="184.74" cy="188.62" r="0.3" fill="#111" opacity="0.7"/>
<circle cx="181.06" cy="192.9" r="0.3" fill="#111" opacity="0.7"/>
<circle cx="184.54" cy="188.66" r="0.3" fill="#111" opacity="0.7"/>
<circle cx="186.28" cy="194.04" r="0.3" fill="#111" opacity="0.7"/>
<circle cx="177.3" cy="190.27" r="0.3" fill="#111" opacity="0.7"/>
<circle cx="180.69" cy="184.39" r="0.3" fill="#111" opacity="0.7"/>
<circle cx="176.52" cy="192.67" r="0.3" fill="#111" opacity="0.7"/>
<circle cx="184.76" cy="193.98" r="0.3" fill="#111" opacity="0.7"/>
<circle cx="178.64" cy="188.49" r="0.3" fill="#111" opacity="0.7"/>
<circle cx="182.22" cy="183.97" r="0.3" fill="#111" opacity="0.7"/>
<circle cx="186.79" cy="189.41" r="0.3" fill="#111" opacity="0.7"/>
<circle cx="179.97" cy="196.78" r="0.3" fill="#111" opacity="0.7"/>
<circle cx="182.93" cy="178.73" r="0.3" fill="#111" opacity="0.7"/>
<circle cx="176.08" cy="205.86" r="0.3" fill="#111" opacity="0.7"/>
<circle cx="176.3" cy="180.68" r="0.3" fill="#111" opacity="0.7"/>
<circle cx="179.72" cy="194.8" r="0.3" fill="#111" opacity="0.7"/>
<circle cx="182.69" cy="184.23" r="0.3" fill="#111" opacity="0.7"/>
<circle cx="186.24" cy="175.84" r="0.3" fill="#111" opacity="0.7"/>
<circle cx="185.72" cy="182.2" r="0.3" fill="#111" opacity="0.7"/>
<circle cx="180.17" cy="190.63" r="0.3" fill="#111" opacity="0.7"/>
<circle cx="179.77" cy="189.95" r="0.3" fill="#111" opacity="0.7"/>
<circle cx="177.8" cy="184.22" r="0.3" fill="#111" opacity="0.7"/>
<circle cx="178.04" cy="185.01" r="0.3" fill="#111" opacity="0.7"/>
<circle cx="178.17" cy="187.72" r="0.3" fill="#111" opacity="0.7"/>
<circle cx="180.97" cy="183.11" r="0.3" fill="#111" opacity="0.7"/>
<circle cx="187.52" cy="190.21" r="0.3" fill="#111" opacity="0.7"/>
<circle cx="178.06" cy="183" r="0.3" fill="#111" opacity="0.7"/>
<circle cx="180.2" cy="176.41" r="0.3" fill="#111" opacity="0.7"/>
<circle cx="179.95" cy="198.63" r="0.3" fill="#111" opacity="0.7"/>
<circle cx="178.89" cy="193.74" r="0.3" fill="#111" opacity="0.7"/>
<circle cx="178.75" cy="193.41" r="0.3" fill="#111" opacity="0.7"/>
<circle cx="180.32" cy="189.52" r="0.3" fill="#111" opacity="0.7"/>
<circle cx="178.82" cy="198.84" r="0.3" fill="#111" opacity="0.7"/>
<circle cx="179.93" cy="183.87" r="0.3" fill="#111" opacity="0.7"/>
<circle cx="179.92" cy="198.37" r="0.3" fill="#111" opacity="0.7"/>
<circle cx="184.79" cy="202.51" r="0.3" fill="#111" opacity="0.7"/>
<circle cx="175.84" cy="186.47" r="0.3" fill="#111" opacity="0.7"/>
<circle cx="179.46" cy="173.95" r="0.3" fill="#111" opacity="0.7"/>
<circle cx="186.19" cy="186.82" r="0.3" fill="#111" opacity="0.7"/>
<circle cx="179.5" cy="190.94" r="0.3" fill="#111" opacity="0.7"/>
<circle cx="176.26" cy="190.1" r="0.3" fill="#111" opacity="0.7"/>
<circle cx="180.33" cy="180.6" r="0.3" fill="#111" opacity="0.7"/>
<circle cx="177.41" cy="189.15" r="0.3" fill="#111" opacity="0.7"/>
<circle cx="182.74" cy="191.02" r="0.3" fill="#111" opacity="0.7"/>
<circle cx="180.69" cy="194.94" r="0.3" fill="#111" opacity="0.7"/>
<circle cx="182.13" cy="190.2" r="0.3" fill="#111" opacity="0.7"/>
<circle cx="178.72" cy="196.2" r="0.3" fill="#111" opacity="0.7"/>
<circle cx="184.31" cy="197.27" r="0.3" fill="#111" opacity="0.7"/>
<circle cx="178.06" cy="187.01" r="0.3" fill="#111" opacity="0.7"/>
<circle cx="178.96" cy="185.59" r="0.3" fill="#111" opacity="0.7"/>
<circle cx="180.24" cy="187.35" r="0.3" fill="#111" opacity="0.7"/>
<circle cx="185.99" cy="182.06" r="0.3" fill="#111" opacity="0.7"/>
<circle cx="179.74" cy="189.87" r="0.3" fill="#111" opacity="0.7"/>
<circle cx="178.19" cy="194.75" r="0.3" fill="#111" opacity="0.7"/>
<circle cx="183.16" cy="190.51" r="0.3" fill="#111" opacity="0.7"/>
<circle cx="182.39" cy="189.39" r="0.3" fill="#111" opacity="0.7"/>
<circle cx="179.18" cy="195.88" r="0.3" fill="#111" opacity="0.7"/>
<circle cx="183.65" cy="171.21" r="0.3" fill="#111" opacity="0.7"/>
<circle cx="183.87" cy="193.27" r="0.3" fill="#111" opacity="0.7"/>
<circle cx="183.6" cy="186.62" r="0.3" fill="#111" opacity="0.7"/>
<circle cx="178.42" cy="202.54" r="0.3" fill="#111" opacity="0.7"/>
<circle cx="183.19" cy="185.08" r="0.3" fill="#111" opacity="0.7"/>
<circle cx="180.31" cy="195.25" r="0.3" fill="#111" opacity="0.7"/>
<circle cx="176.32" cy="192.96" r="0.3" fill="#111" opacity="0.7"/>
<circle cx="181.57" cy="184.36" r="0.3" fill="#111" opacity="0.7"/>
<circle cx="178.96" cy="193.18" r="0.3" fill="#111" opacity="0.7"/>
<circle cx="181.3" cy="192.86" r="0.3" fill="#111" opacity="0.7"/>
<circle cx="177.6" cy="194.96" r="0.3" fill="#111" opacity="0.7"/>
<circle cx="176.72" cy="186.37" r="0.3" fill="#111" opacity="0.7"/>
<circle cx="179.7" cy="184.53" r="0.3" fill="#111" opacity="0.7"/>
<circle cx="182.59" cy="185.47" r="0.3" fill="#111" opacity="0.7"/>
<circle cx="184.02" cy="190.88" r="0.3" fill="#111" opacity="0.7"/>
<circle cx="175.88" cy="178.74" r="0.3" fill="#111" opacity="0.7"/>
<circle cx="180.3" cy="185.44" r="0.3" fill="#111" opacity="0.7"/>
<circle cx="180.45" cy="187.34" r="0.3" fill="#111" opacity="0.7"/>
<circle cx="176.26" cy="190.9" r="0.3" fill="#111" opacity="0.7"/>
<circle cx="181.23" cy="179.71" r="0.3" fill="#111" opacity="0.7"/>
<circle cx="179.51" cy="189.26" r="0.3" fill="#111" opacity="0.7"/>
<circle cx="179.77" cy="188.97" r="0.3" fill="#111" opacity="0.7"/>
<circle cx="186.3" cy="190.53" r="0.3" fill="#111" opacity="0.7"/>
<circle cx="183.62" cy="184" r="0.3" fill="#111" opacity="0.7"/>
<circle cx="183.01" cy="186.59" r="0.28" fill="#222" opacity="0.45"/>
<circle cx="175.64" cy="196.98" r="0.28" fill="#222" opacity="0.45"/>
<circle cx="178.87" cy="176.31" r="0.28" fill="#222" opacity="0.45"/>
<circle cx="186.74" cy="196.67" r="0.28" fill="#222" opacity="0.45"/>
<circle cx="178.5" cy="184.31" r="0.28" fill="#222" opacity="0.45"/>
<circle cx="178.79" cy="181.31" r="0.28" fill="#222" opacity="0.45"/>
<circle cx="180.61" cy="193.24" r="0.28" fill="#222" opacity="0.45"/>
<circle cx="183.88" cy="203.29" r="0.28" fill="#222" opacity="0.45"/>
<circle cx="182.35" cy="183.82" r="0.28" fill="#222" opacity="0.45"/>
<circle cx="184.1" cy="187.85" r="0.28" fill="#222" opacity="0.45"/>
<circle cx="180.51" cy="195.9" r="0.28" fill="#222" opacity="0.45"/>
<circle cx="183.4" cy="195.79" r="0.28" fill="#222" opacity="0.45"/>
<circle cx="182.42" cy="188.37" r="0.28" fill="#222" opacity="0.45"/>
<circle cx="180.61" cy="194.19" r="0.28" fill="#222" opacity="0.45"/>
<circle cx="185.61" cy="183.9" r="0.28" fill="#222" opacity="0.45"/>
<circle cx="179.74" cy="189.06" r="0.28" fill="#222" opacity="0.45"/>
<circle cx="176.97" cy="192.52" r="0.28" fill="#222" opacity="0.45"/>
<circle cx="177.33" cy="189.45" r="0.28" fill="#222" opacity="0.45"/>
<circle cx="176" cy="185.79" r="0.28" fill="#222" opacity="0.45"/>
<circle cx="184.43" cy="183.59" r="0.28" fill="#222" opacity="0.45"/>
<circle cx="177.79" cy="187.65" r="0.28" fill="#222" opacity="0.45"/>
<circle cx="179.63" cy="202.19" r="0.28" fill="#222" opacity="0.45"/>
<circle cx="179.96" cy="200.26" r="0.28" fill="#222" opacity="0.45"/>
<circle cx="187.42" cy="177.95" r="0.28" fill="#222" opacity="0.45"/>
<circle cx="184" cy="185.77" r="0.28" fill="#222" opacity="0.45"/>
<circle cx="177.48" cy="198.04" r="0.28" fill="#222" opacity="0.45"/>
<circle cx="179.81" cy="189.58" r="0.28" fill="#222" opacity="0.45"/>
<circle cx="181.57" cy="193.62" r="0.28" fill="#222" opacity="0.45"/>
<circle cx="181.8" cy="179.48" r="0.28" fill="#222" opacity="0.45"/>
<circle cx="180.69" cy="194.81" r="0.28" fill="#222" opacity="0.45"/>
<circle cx="179.95" cy="193.29" r="0.28" fill="#222" opacity="0.45"/>
<circle cx="182.71" cy="188.66" r="0.28" fill="#222" opacity="0.45"/>
<circle cx="185.6" cy="190.12" r="0.28" fill="#222" opacity="0.45"/>
<circle cx="184.26" cy="196.21" r="0.28" fill="#222" opacity="0.45"/>
<circle cx="182.11" cy="194.49" r="0.28" fill="#222" opacity="0.45"/>
<circle cx="184.95" cy="180.27" r="0.28" fill="#222" opacity="0.45"/>
<circle cx="182.33" cy="202.17" r="0.28" fill="#222" opacity="0.45"/>
<circle cx="181.51" cy="187.14" r="0.28" fill="#222" opacity="0.45"/>
<circle cx="182.52" cy="198.16" r="0.28" fill="#222" opacity="0.45"/>
<circle cx="181.08" cy="181.64" r="0.28" fill="#222" opacity="0.45"/>
<circle cx="180.99" cy="183.27" r="0.28" fill="#222" opacity="0.45"/>
<circle cx="178.88" cy="182.31" r="0.28" fill="#222" opacity="0.45"/>
<circle cx="184.91" cy="200.23" r="0.28" fill="#222" opacity="0.45"/>
<circle cx="178.55" cy="176.92" r="0.28" fill="#222" opacity="0.45"/>
<circle cx="180.41" cy="185.69" r="0.28" fill="#222" opacity="0.45"/>
<circle cx="184.4" cy="178.64" r="0.28" fill="#222" opacity="0.45"/>
<circle cx="183.8" cy="176.91" r="0.28" fill="#222" opacity="0.45"/>
<circle cx="180.47" cy="194.3" r="0.28" fill="#222" opacity="0.45"/>
<circle cx="181.81" cy="184.12" r="0.28" fill="#222" opacity="0.45"/>
<circle cx="175.06" cy="190.17" r="0.28" fill="#222" opacity="0.45"/>
<circle cx="183.29" cy="179.62" r="0.28" fill="#222" opacity="0.45"/>
<circle cx="180.32" cy="188.24" r="0.28" fill="#222" opacity="0.45"/>
<circle cx="179.42" cy="181.58" r="0.28" fill="#222" opacity="0.45"/>
<circle cx="186.42" cy="179.62" r="0.28" fill="#222" opacity="0.45"/>
<circle cx="182.29" cy="192.67" r="0.28" fill="#222" opacity="0.45"/>
<circle cx="180.44" cy="190.53" r="0.28" fill="#222" opacity="0.45"/>
<circle cx="183.22" cy="201.16" r="0.28" fill="#222" opacity="0.45"/>
<circle cx="181.24" cy="188.84" r="0.28" fill="#222" opacity="0.45"/>
<circle cx="178.05" cy="190.56" r="0.28" fill="#222" opacity="0.45"/>
<circle cx="179.67" cy="186.66" r="0.28" fill="#222" opacity="0.45"/>
<circle cx="183.51" cy="193.73" r="0.28" fill="#222" opacity="0.45"/>
<circle cx="180.93" cy="175.03" r="0.28" fill="#222" opacity="0.45"/>
<circle cx="177.58" cy="196.51" r="0.28" fill="#222" opacity="0.45"/>
<circle cx="184.76" cy="180.16" r="0.28" fill="#222" opacity="0.45"/>
<circle cx="180.22" cy="188.09" r="0.28" fill="#222" opacity="0.45"/>
<circle cx="182.16" cy="179.92" r="0.28" fill="#222" opacity="0.45"/>
<circle cx="182.29" cy="184.87" r="0.28" fill="#222" opacity="0.45"/>
<circle cx="183.83" cy="192.27" r="0.28" fill="#222" opacity="0.45"/>
<circle cx="179.98" cy="186.62" r="0.28" fill="#222" opacity="0.45"/>
<circle cx="181.32" cy="189.29" r="0.28" fill="#222" opacity="0.45"/>
<circle cx="179.97" cy="190.36" r="0.28" fill="#222" opacity="0.45"/>
<circle cx="179.79" cy="187.27" r="0.28" fill="#222" opacity="0.45"/>
<circle cx="182.12" cy="184.63" r="0.28" fill="#222" opacity="0.45"/>
<circle cx="179.95" cy="197.75" r="0.28" fill="#222" opacity="0.45"/>
<circle cx="182.71" cy="193.46" r="0.28" fill="#222" opacity="0.45"/>
<circle cx="183.75" cy="189.89" r="0.28" fill="#222" opacity="0.45"/>
<circle cx="183.39" cy="184.86" r="0.28" fill="#222" opacity="0.45"/>
<circle cx="183.5" cy="191.74" r="0.28" fill="#222" opacity="0.45"/>
<circle cx="178.3" cy="203.78" r="0.28" fill="#222" opacity="0.45"/>
<circle cx="182.73" cy="189.79" r="0.28" fill="#222" opacity="0.45"/>
<circle cx="185.38" cy="181.76" r="0.28" fill="#222" opacity="0.45"/>
<circle cx="179.13" cy="192.45" r="0.28" fill="#222" opacity="0.45"/>
<circle cx="180.32" cy="180.03" r="0.28" fill="#222" opacity="0.45"/>
<circle cx="188.38" cy="206.94" r="0.28" fill="#222" opacity="0.45"/>
<circle cx="175.92" cy="170.39" r="0.28" fill="#222" opacity="0.45"/>
<circle cx="181.29" cy="194.1" r="0.28" fill="#222" opacity="0.45"/>
<circle cx="183.52" cy="184.27" r="0.28" fill="#222" opacity="0.45"/>
<circle cx="182.53" cy="189.78" r="0.28" fill="#222" opacity="0.45"/>
<circle cx="178.21" cy="191.06" r="0.28" fill="#222" opacity="0.45"/>
<circle cx="180.18" cy="198.99" r="0.28" fill="#222" opacity="0.45"/>
<circle cx="183.79" cy="197.6" r="0.28" fill="#222" opacity="0.45"/>
<circle cx="182.06" cy="189.35" r="0.28" fill="#222" opacity="0.45"/>
<circle cx="175.85" cy="188.71" r="0.28" fill="#222" opacity="0.45"/>
<circle cx="182.97" cy="186.61" r="0.28" fill="#222" opacity="0.45"/>
<circle cx="176.95" cy="176.88" r="0.28" fill="#222" opacity="0.45"/>
<circle cx="184.16" cy="197.21" r="0.28" fill="#222" opacity="0.45"/>
<circle cx="183.07" cy="177.38" r="0.28" fill="#222" opacity="0.45"/>
<circle cx="184.69" cy="188.69" r="0.28" fill="#222" opacity="0.45"/>
<circle cx="180.93" cy="186.6" r="0.28" fill="#222" opacity="0.45"/>
<circle cx="182.19" cy="183.38" r="0.28" fill="#222" opacity="0.45"/>
<circle cx="179.56" cy="188.1" r="0.28" fill="#222" opacity="0.45"/>
<circle cx="179.25" cy="186.43" r="0.28" fill="#222" opacity="0.45"/>
<circle cx="178.38" cy="193.77" r="0.28" fill="#222" opacity="0.45"/>
<circle cx="178.59" cy="177.28" r="0.28" fill="#222" opacity="0.45"/>
<circle cx="180.03" cy="197.25" r="0.28" fill="#222" opacity="0.45"/>
<circle cx="183.93" cy="193.95" r="0.28" fill="#222" opacity="0.45"/>
<circle cx="184" cy="185.19" r="0.28" fill="#222" opacity="0.45"/>
<circle cx="181.48" cy="192.88" r="0.28" fill="#222" opacity="0.45"/>
<circle cx="181.43" cy="183.7" r="0.28" fill="#222" opacity="0.45"/>
<circle cx="180.75" cy="179.33" r="0.28" fill="#222" opacity="0.45"/>
<circle cx="183" cy="184.64" r="0.28" fill="#222" opacity="0.45"/>
<circle cx="179.6" cy="191.64" r="0.28" fill="#222" opacity="0.45"/>
<circle cx="185.38" cy="195.6" r="0.28" fill="#222" opacity="0.45"/>
<circle cx="179.29" cy="189.54" r="0.28" fill="#222" opacity="0.45"/>
<circle cx="173.92" cy="192.87" r="0.28" fill="#222" opacity="0.45"/>
<circle cx="183.45" cy="184.61" r="0.28" fill="#222" opacity="0.45"/>
<circle cx="179.29" cy="204.23" r="0.28" fill="#222" opacity="0.45"/>
<circle cx="188.96" cy="200.64" r="0.28" fill="#222" opacity="0.45"/>
<circle cx="174.17" cy="203.35" r="0.28" fill="#222" opacity="0.45"/>
<circle cx="182.22" cy="197.39" r="0.28" fill="#222" opacity="0.45"/>
<circle cx="181.05" cy="196.74" r="0.28" fill="#222" opacity="0.45"/>
<circle cx="180.9" cy="184.36" r="0.28" fill="#222" opacity="0.45"/>
<circle cx="184.27" cy="200.45" r="0.28" fill="#222" opacity="0.45"/>
<circle cx="182.82" cy="186.81" r="0.28" fill="#222" opacity="0.45"/>
<circle cx="183.41" cy="195.62" r="0.28" fill="#222" opacity="0.45"/>
<circle cx="179.53" cy="188.71" r="0.28" fill="#222" opacity="0.45"/>
<circle cx="180.23" cy="183.38" r="0.28" fill="#222" opacity="0.45"/>
<circle cx="176.62" cy="184.82" r="0.28" fill="#222" opacity="0.45"/>
<circle cx="184.39" cy="178.26" r="0.28" fill="#222" opacity="0.45"/>
<circle cx="177.46" cy="180.49" r="0.28" fill="#222" opacity="0.45"/>
<circle cx="186.2" cy="188.7" r="0.28" fill="#222" opacity="0.45"/>
<circle cx="180.3" cy="198.65" r="0.28" fill="#222" opacity="0.45"/>
<circle cx="179.91" cy="181.14" r="0.28" fill="#222" opacity="0.45"/>
<circle cx="179.87" cy="182.08" r="0.28" fill="#222" opacity="0.45"/>
<circle cx="178.23" cy="192.69" r="0.28" fill="#222" opacity="0.45"/>
<circle cx="180.78" cy="183.06" r="0.28" fill="#222" opacity="0.45"/>
<circle cx="179.17" cy="188.81" r="0.28" fill="#222" opacity="0.45"/>
<circle cx="178.02" cy="182.99" r="0.28" fill="#222" opacity="0.45"/>
<circle cx="183.27" cy="183.27" r="0.28" fill="#222" opacity="0.45"/>
<circle cx="181.39" cy="193.73" r="0.28" fill="#222" opacity="0.45"/>
<circle cx="180.8" cy="182.35" r="0.28" fill="#222" opacity="0.45"/>
<circle cx="185.31" cy="176.36" r="0.28" fill="#222" opacity="0.45"/>
<circle cx="188.54" cy="205.36" r="0.28" fill="#222" opacity="0.45"/>
<circle cx="181.73" cy="183.38" r="0.28" fill="#222" opacity="0.45"/>
<circle cx="177.69" cy="194.98" r="0.28" fill="#222" opacity="0.45"/>
<circle cx="179.3" cy="202.38" r="0.28" fill="#222" opacity="0.45"/>
<circle cx="177.94" cy="191.72" r="0.28" fill="#222" opacity="0.45"/>
<circle cx="181.55" cy="191.82" r="0.28" fill="#222" opacity="0.45"/>
<circle cx="177.92" cy="197.32" r="0.28" fill="#222" opacity="0.45"/>
<circle cx="187.41" cy="188.94" r="0.28" fill="#222" opacity="0.45"/>
<circle cx="182.73" cy="179.85" r="0.28" fill="#222" opacity="0.45"/>
<circle cx="180.02" cy="192.38" r="0.28" fill="#222" opacity="0.45"/>
<circle cx="186.12" cy="186.95" r="0.28" fill="#222" opacity="0.45"/>
<circle cx="183.42" cy="197.77" r="0.28" fill="#222" opacity="0.45"/>
<circle cx="177.98" cy="191.07" r="0.28" fill="#222" opacity="0.45"/>
<circle cx="187.33" cy="189.71" r="0.28" fill="#222" opacity="0.45"/>
<circle cx="177.26" cy="197.1" r="0.28" fill="#222" opacity="0.45"/>
<circle cx="179.48" cy="173.06" r="0.28" fill="#222" opacity="0.45"/>
<circle cx="179.84" cy="190.28" r="0.28" fill="#222" opacity="0.45"/>
<circle cx="182.7" cy="186.64" r="0.28" fill="#222" opacity="0.45"/>
<circle cx="182.28" cy="195.9" r="0.28" fill="#222" opacity="0.45"/>
<circle cx="177.05" cy="198.64" r="0.28" fill="#222" opacity="0.45"/>
<circle cx="182.96" cy="192.61" r="0.28" fill="#222" opacity="0.45"/>
<circle cx="185.61" cy="177.54" r="0.28" fill="#222" opacity="0.45"/>
<circle cx="176.97" cy="176.7" r="0.28" fill="#222" opacity="0.45"/>
<circle cx="185.75" cy="209.58" r="0.28" fill="#222" opacity="0.45"/>
<circle cx="185.94" cy="191.91" r="0.28" fill="#222" opacity="0.45"/>
<circle cx="177.99" cy="197.87" r="0.28" fill="#222" opacity="0.45"/>
<circle cx="186.09" cy="192.74" r="0.28" fill="#222" opacity="0.45"/>
<circle cx="181.84" cy="187.77" r="0.28" fill="#222" opacity="0.45"/>
<circle cx="183.96" cy="185.42" r="0.28" fill="#222" opacity="0.45"/>
<circle cx="179.72" cy="184.73" r="0.28" fill="#222" opacity="0.45"/>
<circle cx="178.63" cy="179.54" r="0.28" fill="#222" opacity="0.45"/>
<circle cx="183.12" cy="190.7" r="0.28" fill="#222" opacity="0.45"/>
<circle cx="178.23" cy="186.01" r="0.28" fill="#222" opacity="0.45"/>
<circle cx="182.75" cy="191.63" r="0.28" fill="#222" opacity="0.45"/>
<circle cx="180.01" cy="198.85" r="0.28" fill="#222" opacity="0.45"/>
<circle cx="183.25" cy="185.82" r="0.28" fill="#222" opacity="0.45"/>
<circle cx="181.44" cy="200.81" r="0.28" fill="#222" opacity="0.45"/>
<circle cx="178.59" cy="188.37" r="0.28" fill="#222" opacity="0.45"/>
<circle cx="184.65" cy="186.08" r="0.28" fill="#222" opacity="0.45"/>
<circle cx="185.19" cy="195.6" r="0.28" fill="#222" opacity="0.45"/>
<circle cx="184.3" cy="176.3" r="0.28" fill="#222" opacity="0.45"/>
<circle cx="183.51" cy="181.85" r="0.28" fill="#222" opacity="0.45"/>
<circle cx="181.29" cy="170.66" r="0.28" fill="#222" opacity="0.45"/>
<circle cx="185.7" cy="182.17" r="0.28" fill="#222" opacity="0.45"/>
<circle cx="185.79" cy="189.95" r="0.28" fill="#222" opacity="0.45"/>
<circle cx="187.94" cy="185.6" r="0.28" fill="#222" opacity="0.45"/>
<circle cx="187.72" cy="185.56" r="0.28" fill="#222" opacity="0.45"/>
<circle cx="178.44" cy="185.23" r="0.28" fill="#222" opacity="0.45"/>
<circle cx="180.32" cy="195.97" r="0.28" fill="#222" opacity="0.45"/>
<circle cx="177.26" cy="188.56" r="0.28" fill="#222" opacity="0.45"/>
<circle cx="181.97" cy="186.34" r="0.28" fill="#222" opacity="0.45"/>
<circle cx="182.87" cy="183.53" r="0.28" fill="#222" opacity="0.45"/>
<circle cx="184.49" cy="171.16" r="0.28" fill="#222" opacity="0.45"/>
<circle cx="186.35" cy="185.84" r="0.28" fill="#222" opacity="0.45"/>
<circle cx="179.48" cy="186.29" r="0.28" fill="#222" opacity="0.45"/>
<circle cx="182.5" cy="185.52" r="0.28" fill="#222" opacity="0.45"/>
<circle cx="180.11" cy="193.64" r="0.28" fill="#222" opacity="0.45"/>
<circle cx="183" cy="182.82" r="0.28" fill="#222" opacity="0.45"/>
<circle cx="175.97" cy="195.43" r="0.28" fill="#222" opacity="0.45"/>
<circle cx="179.43" cy="180.85" r="0.28" fill="#222" opacity="0.45"/>
<circle cx="185.59" cy="202.3" r="0.28" fill="#222" opacity="0.45"/>
<circle cx="183.2" cy="195.22" r="0.28" fill="#222" opacity="0.45"/>
<circle cx="185.24" cy="180.3" r="0.28" fill="#222" opacity="0.45"/>
<circle cx="179.03" cy="185.56" r="0.28" fill="#222" opacity="0.45"/>
<circle cx="176.92" cy="204.08" r="0.28" fill="#222" opacity="0.45"/>
<circle cx="182.26" cy="199.79" r="0.28" fill="#222" opacity="0.45"/>
<circle cx="182.18" cy="181.84" r="0.28" fill="#222" opacity="0.45"/>
<circle cx="182.21" cy="182.45" r="0.28" fill="#222" opacity="0.45"/>
<circle cx="177.76" cy="183.99" r="0.28" fill="#222" opacity="0.45"/>
<circle cx="179.98" cy="209.72" r="0.28" fill="#222" opacity="0.45"/>
<circle cx="181.45" cy="196.71" r="0.28" fill="#222" opacity="0.45"/>
<circle cx="177.52" cy="194.29" r="0.28" fill="#222" opacity="0.45"/>
<circle cx="183.05" cy="196.84" r="0.28" fill="#222" opacity="0.45"/>
<circle cx="184.32" cy="179.85" r="0.28" fill="#222" opacity="0.45"/>
<circle cx="184.58" cy="190.87" r="0.28" fill="#222" opacity="0.45"/>
<circle cx="184.11" cy="193.81" r="0.28" fill="#222" opacity="0.45"/>
<circle cx="180.27" cy="188.83" r="0.28" fill="#222" opacity="0.45"/>
<circle cx="185.61" cy="194.56" r="0.28" fill="#222" opacity="0.45"/>
<circle cx="177.92" cy="179.93" r="0.28" fill="#222" opacity="0.45"/>
<circle cx="187.44" cy="188.7" r="0.28" fill="#222" opacity="0.45"/>
<circle cx="176.1" cy="187.4" r="0.28" fill="#222" opacity="0.45"/>
<circle cx="184.06" cy="195.32" r="0.28" fill="#222" opacity="0.45"/>
<circle cx="182.23" cy="204.19" r="0.28" fill="#222" opacity="0.45"/>
<circle cx="179.28" cy="204.39" r="0.28" fill="#222" opacity="0.45"/>
<circle cx="182.05" cy="196.08" r="0.28" fill="#222" opacity="0.45"/>
<circle cx="180.72" cy="179.73" r="0.28" fill="#222" opacity="0.45"/>
<circle cx="185.23" cy="199.4" r="0.28" fill="#222" opacity="0.45"/>
<circle cx="185.21" cy="186.08" r="0.28" fill="#222" opacity="0.45"/>
<circle cx="184.52" cy="196.07" r="0.28" fill="#222" opacity="0.45"/>
<circle cx="182.6" cy="191.27" r="0.28" fill="#222" opacity="0.45"/>
<circle cx="181.4" cy="182.59" r="0.28" fill="#222" opacity="0.45"/>
<circle cx="179.23" cy="190" r="0.28" fill="#222" opacity="0.45"/>
<line x1="181.6" y1="179.5" x2="181.6" y2="185.8" stroke="#222" stroke-width="0.35"/>
<line x1="181.6" y1="194.2" x2="181.6" y2="199.5" stroke="#222" stroke-width="0.35"/>
<rect x="180.4" y="185.8" width="2.4" height="8.4" fill="#10E0E8" stroke="#222" stroke-width="0.35"/>
<line x1="180.4" y1="190" x2="182.8" y2="190" stroke="#222" stroke-width="0.4"/>
<text x="141.8" y="195" text-anchor="middle" transform="rotate(-90 141.8 195)">Activity score</text>
<text x="171.8" y="222" text-anchor="end" transform="rotate(-45 171.8 222)">sgNTC</text>
<text x="185.1" y="222" text-anchor="end" transform="rotate(-45 185.1 222)">sg<tspan font-style="italic">Vdac2</tspan></text>
<text x="235.5" y="152.5" text-anchor="middle">Effector/cytokine</text>
<text x="235.5" y="160.5" text-anchor="middle">production</text>
<text x="236" y="168.1" text-anchor="middle"><tspan font-style="italic">P</tspan> &lt; 0.001</text>
<line x1="220.5" y1="168.5" x2="220.5" y2="215" stroke="#3a3a3a" stroke-width="0.7"/>
<line x1="220.5" y1="215" x2="250.2" y2="215" stroke="#3a3a3a" stroke-width="0.7"/>
<line x1="218.7" y1="211.7" x2="220.5" y2="211.7" stroke="#3a3a3a" stroke-width="0.7"/>
<text x="216.1" y="214" text-anchor="end">−2</text>
<line x1="218.7" y1="203.4" x2="220.5" y2="203.4" stroke="#3a3a3a" stroke-width="0.7"/>
<text x="216.1" y="205.7" text-anchor="end">−1</text>
<line x1="218.7" y1="195.1" x2="220.5" y2="195.1" stroke="#3a3a3a" stroke-width="0.7"/>
<text x="216.1" y="197.4" text-anchor="end">0</text>
<line x1="218.7" y1="186.9" x2="220.5" y2="186.9" stroke="#3a3a3a" stroke-width="0.7"/>
<text x="216.1" y="189.2" text-anchor="end">1</text>
<line x1="218.7" y1="178.7" x2="220.5" y2="178.7" stroke="#3a3a3a" stroke-width="0.7"/>
<text x="216.1" y="181" text-anchor="end">2</text>
<line x1="218.7" y1="170.5" x2="220.5" y2="170.5" stroke="#3a3a3a" stroke-width="0.7"/>
<text x="216.1" y="172.8" text-anchor="end">3</text>
<line x1="229.3" y1="215" x2="229.3" y2="216.8" stroke="#3a3a3a" stroke-width="0.7"/>
<line x1="242.8" y1="215" x2="242.8" y2="216.8" stroke="#3a3a3a" stroke-width="0.7"/>
<path d="M229.6,171 L229.61,171.68 L229.63,172.36 L229.67,173.04 L229.71,173.73 L229.76,174.41 L229.82,175.09 L229.87,175.77 L229.93,176.45 L229.98,177.13 L230.03,177.81 L230.06,178.49 L230.09,179.18 L230.1,179.86 L230.14,180.54 L230.29,181.22 L230.54,181.9 L230.84,182.58 L231.18,183.26 L231.53,183.95 L231.86,184.63 L232.15,185.31 L232.36,185.99 L232.48,186.67 L232.52,187.35 L232.63,188.03 L232.83,188.72 L233.1,189.4 L233.4,190.08 L233.72,190.76 L234.03,191.44 L234.31,192.12 L234.53,192.8 L234.67,193.48 L234.7,194.17 L234.73,194.85 L234.8,195.53 L234.88,196.21 L234.98,196.89 L235.08,197.57 L235.18,198.25 L235.25,198.94 L235.29,199.62 L235.28,200.3 L235.15,200.98 L234.91,201.66 L234.6,202.34 L234.27,203.02 L233.95,203.71 L233.69,204.39 L233.53,205.07 L233.46,205.75 L233.06,206.43 L232.36,207.11 L231.55,207.79 L230.82,208.47 L230.37,209.16 L230.23,209.84 L229.85,210.52 L229.6,211.2 L229,211.2 L228.75,210.52 L228.37,209.84 L228.23,209.16 L227.78,208.47 L227.05,207.79 L226.24,207.11 L225.54,206.43 L225.14,205.75 L225.07,205.07 L224.91,204.39 L224.65,203.71 L224.33,203.02 L224,202.34 L223.69,201.66 L223.45,200.98 L223.32,200.3 L223.31,199.62 L223.35,198.94 L223.42,198.25 L223.52,197.57 L223.62,196.89 L223.72,196.21 L223.8,195.53 L223.87,194.85 L223.9,194.17 L223.93,193.48 L224.07,192.8 L224.29,192.12 L224.57,191.44 L224.88,190.76 L225.2,190.08 L225.5,189.4 L225.77,188.72 L225.97,188.03 L226.08,187.35 L226.12,186.67 L226.24,185.99 L226.45,185.31 L226.74,184.63 L227.07,183.95 L227.42,183.26 L227.76,182.58 L228.06,181.9 L228.31,181.22 L228.46,180.54 L228.5,179.86 L228.51,179.18 L228.54,178.49 L228.57,177.81 L228.62,177.13 L228.67,176.45 L228.73,175.77 L228.78,175.09 L228.84,174.41 L228.89,173.73 L228.93,173.04 L228.97,172.36 L228.99,171.68 L229,171 Z" fill="#E8675B" stroke="#333" stroke-width="0.3"/>
<circle cx="226.19" cy="194.42" r="0.3" fill="#111" opacity="0.55"/>
<circle cx="228.77" cy="198.55" r="0.3" fill="#111" opacity="0.55"/>
<circle cx="233.16" cy="187.68" r="0.3" fill="#111" opacity="0.55"/>
<circle cx="224.95" cy="193.44" r="0.3" fill="#111" opacity="0.55"/>
<circle cx="234.47" cy="200.07" r="0.3" fill="#111" opacity="0.55"/>
<circle cx="229.57" cy="192.78" r="0.3" fill="#111" opacity="0.55"/>
<circle cx="233.3" cy="186.69" r="0.3" fill="#111" opacity="0.55"/>
<circle cx="234.4" cy="203.87" r="0.3" fill="#111" opacity="0.55"/>
<circle cx="225.49" cy="195.87" r="0.3" fill="#111" opacity="0.55"/>
<circle cx="232.8" cy="197.68" r="0.3" fill="#111" opacity="0.55"/>
<circle cx="225.52" cy="195.61" r="0.3" fill="#111" opacity="0.55"/>
<circle cx="229.64" cy="182.86" r="0.3" fill="#111" opacity="0.55"/>
<circle cx="227.11" cy="201.28" r="0.3" fill="#111" opacity="0.55"/>
<circle cx="234.43" cy="197.78" r="0.3" fill="#111" opacity="0.55"/>
<circle cx="224.31" cy="186.13" r="0.3" fill="#111" opacity="0.55"/>
<circle cx="228.38" cy="183.34" r="0.3" fill="#111" opacity="0.55"/>
<circle cx="225.03" cy="203.17" r="0.3" fill="#111" opacity="0.55"/>
<circle cx="233.91" cy="200.31" r="0.3" fill="#111" opacity="0.55"/>
<circle cx="230.99" cy="192.05" r="0.3" fill="#111" opacity="0.55"/>
<circle cx="233.55" cy="206.18" r="0.3" fill="#111" opacity="0.55"/>
<circle cx="229.31" cy="208.01" r="0.3" fill="#111" opacity="0.55"/>
<circle cx="233.74" cy="193.15" r="0.3" fill="#111" opacity="0.55"/>
<circle cx="231.93" cy="191.02" r="0.3" fill="#111" opacity="0.55"/>
<circle cx="226.64" cy="201.67" r="0.3" fill="#111" opacity="0.55"/>
<circle cx="229.05" cy="190.57" r="0.3" fill="#111" opacity="0.55"/>
<circle cx="227.74" cy="204.04" r="0.3" fill="#111" opacity="0.55"/>
<circle cx="224.35" cy="188.07" r="0.3" fill="#111" opacity="0.55"/>
<circle cx="232.99" cy="201.17" r="0.3" fill="#111" opacity="0.55"/>
<circle cx="229.82" cy="207.21" r="0.3" fill="#111" opacity="0.55"/>
<circle cx="228.2" cy="201.17" r="0.3" fill="#111" opacity="0.55"/>
<circle cx="227.89" cy="197.7" r="0.3" fill="#111" opacity="0.55"/>
<circle cx="227.26" cy="201.05" r="0.3" fill="#111" opacity="0.55"/>
<circle cx="232.04" cy="190.52" r="0.3" fill="#111" opacity="0.55"/>
<circle cx="229.16" cy="197.65" r="0.3" fill="#111" opacity="0.55"/>
<circle cx="234.43" cy="206.18" r="0.3" fill="#111" opacity="0.55"/>
<circle cx="223.88" cy="197.52" r="0.3" fill="#111" opacity="0.55"/>
<circle cx="227.82" cy="177.92" r="0.3" fill="#111" opacity="0.55"/>
<circle cx="230.38" cy="184.32" r="0.3" fill="#111" opacity="0.55"/>
<circle cx="230.5" cy="191.82" r="0.3" fill="#111" opacity="0.55"/>
<circle cx="230.28" cy="202.59" r="0.3" fill="#111" opacity="0.55"/>
<circle cx="229.48" cy="192.8" r="0.3" fill="#111" opacity="0.55"/>
<circle cx="232.09" cy="206.69" r="0.3" fill="#111" opacity="0.55"/>
<circle cx="226.57" cy="200.75" r="0.3" fill="#111" opacity="0.55"/>
<circle cx="226.77" cy="198.3" r="0.3" fill="#111" opacity="0.55"/>
<circle cx="233.26" cy="199.68" r="0.3" fill="#111" opacity="0.55"/>
<circle cx="228.23" cy="187.91" r="0.3" fill="#111" opacity="0.55"/>
<circle cx="224.74" cy="193.97" r="0.3" fill="#111" opacity="0.55"/>
<circle cx="234.63" cy="210.24" r="0.3" fill="#111" opacity="0.55"/>
<circle cx="227.29" cy="200.93" r="0.3" fill="#111" opacity="0.55"/>
<circle cx="232.81" cy="190" r="0.3" fill="#111" opacity="0.55"/>
<circle cx="224.42" cy="200.08" r="0.3" fill="#111" opacity="0.55"/>
<circle cx="232.2" cy="184.47" r="0.3" fill="#111" opacity="0.55"/>
<circle cx="229.87" cy="209.03" r="0.3" fill="#111" opacity="0.55"/>
<circle cx="234" cy="200.74" r="0.3" fill="#111" opacity="0.55"/>
<circle cx="234.08" cy="195.77" r="0.3" fill="#111" opacity="0.55"/>
<circle cx="232.08" cy="195.54" r="0.3" fill="#111" opacity="0.55"/>
<circle cx="231.91" cy="196.17" r="0.3" fill="#111" opacity="0.55"/>
<circle cx="228.4" cy="196.54" r="0.3" fill="#111" opacity="0.55"/>
<circle cx="233.88" cy="185.95" r="0.3" fill="#111" opacity="0.55"/>
<circle cx="224.62" cy="173.66" r="0.3" fill="#111" opacity="0.55"/>
<circle cx="232.07" cy="198.9" r="0.3" fill="#111" opacity="0.55"/>
<circle cx="227.96" cy="187.49" r="0.3" fill="#111" opacity="0.55"/>
<circle cx="225.1" cy="187.87" r="0.3" fill="#111" opacity="0.55"/>
<circle cx="227.32" cy="200.11" r="0.3" fill="#111" opacity="0.55"/>
<circle cx="225.07" cy="196.67" r="0.3" fill="#111" opacity="0.55"/>
<circle cx="232.97" cy="193.55" r="0.3" fill="#111" opacity="0.55"/>
<circle cx="225.05" cy="191.3" r="0.3" fill="#111" opacity="0.55"/>
<circle cx="225.1" cy="187.19" r="0.3" fill="#111" opacity="0.55"/>
<circle cx="229.96" cy="188.77" r="0.3" fill="#111" opacity="0.55"/>
<circle cx="228.36" cy="202.47" r="0.3" fill="#111" opacity="0.55"/>
<circle cx="229.7" cy="194.09" r="0.3" fill="#111" opacity="0.55"/>
<circle cx="233.41" cy="199.46" r="0.3" fill="#111" opacity="0.55"/>
<circle cx="229" cy="193.09" r="0.3" fill="#111" opacity="0.55"/>
<circle cx="227.95" cy="206.39" r="0.3" fill="#111" opacity="0.55"/>
<circle cx="231.22" cy="198.87" r="0.3" fill="#111" opacity="0.55"/>
<circle cx="231.39" cy="206.45" r="0.3" fill="#111" opacity="0.55"/>
<circle cx="228.07" cy="192.42" r="0.3" fill="#111" opacity="0.55"/>
<circle cx="231.97" cy="197.76" r="0.3" fill="#111" opacity="0.55"/>
<circle cx="225.63" cy="192.82" r="0.3" fill="#111" opacity="0.55"/>
<circle cx="227.61" cy="191.81" r="0.3" fill="#111" opacity="0.55"/>
<circle cx="225.6" cy="193.89" r="0.3" fill="#111" opacity="0.55"/>
<circle cx="229.52" cy="189.94" r="0.3" fill="#111" opacity="0.55"/>
<circle cx="228.07" cy="206.75" r="0.3" fill="#111" opacity="0.55"/>
<circle cx="227.74" cy="181.55" r="0.3" fill="#111" opacity="0.55"/>
<circle cx="230.22" cy="189.22" r="0.3" fill="#111" opacity="0.55"/>
<circle cx="227.41" cy="171.92" r="0.3" fill="#111" opacity="0.55"/>
<circle cx="231.47" cy="200.09" r="0.3" fill="#111" opacity="0.55"/>
<circle cx="231.83" cy="197.72" r="0.3" fill="#111" opacity="0.55"/>
<circle cx="230.12" cy="203.97" r="0.3" fill="#111" opacity="0.55"/>
<circle cx="232.87" cy="196.85" r="0.3" fill="#111" opacity="0.55"/>
<circle cx="227.95" cy="200.27" r="0.3" fill="#111" opacity="0.55"/>
<circle cx="230.59" cy="195" r="0.3" fill="#111" opacity="0.55"/>
<circle cx="229.95" cy="187.63" r="0.3" fill="#111" opacity="0.55"/>
<circle cx="228.81" cy="194" r="0.3" fill="#111" opacity="0.55"/>
<circle cx="232.08" cy="190.49" r="0.3" fill="#111" opacity="0.55"/>
<circle cx="224.93" cy="197.54" r="0.3" fill="#111" opacity="0.55"/>
<circle cx="224.19" cy="190.93" r="0.3" fill="#111" opacity="0.55"/>
<circle cx="229.87" cy="193.29" r="0.3" fill="#111" opacity="0.55"/>
<circle cx="227.46" cy="185.94" r="0.3" fill="#111" opacity="0.55"/>
<circle cx="232.21" cy="209.81" r="0.3" fill="#111" opacity="0.55"/>
<circle cx="232.42" cy="198.4" r="0.3" fill="#111" opacity="0.55"/>
<circle cx="226.2" cy="193.17" r="0.3" fill="#111" opacity="0.55"/>
<circle cx="230.51" cy="200.49" r="0.3" fill="#111" opacity="0.55"/>
<circle cx="225.13" cy="207.58" r="0.3" fill="#111" opacity="0.55"/>
<circle cx="233.69" cy="198.11" r="0.3" fill="#111" opacity="0.55"/>
<circle cx="233.96" cy="185.16" r="0.3" fill="#111" opacity="0.55"/>
<circle cx="234.26" cy="193.81" r="0.3" fill="#111" opacity="0.55"/>
<circle cx="231.7" cy="189.05" r="0.3" fill="#111" opacity="0.55"/>
<circle cx="231.8" cy="192.49" r="0.3" fill="#111" opacity="0.55"/>
<circle cx="224.02" cy="196.37" r="0.3" fill="#111" opacity="0.55"/>
<circle cx="229.71" cy="203.78" r="0.3" fill="#111" opacity="0.55"/>
<circle cx="226.58" cy="196.83" r="0.3" fill="#111" opacity="0.55"/>
<circle cx="225.25" cy="204.49" r="0.3" fill="#111" opacity="0.55"/>
<circle cx="226.94" cy="189.85" r="0.3" fill="#111" opacity="0.55"/>
<circle cx="226.85" cy="197.68" r="0.3" fill="#111" opacity="0.55"/>
<circle cx="225.56" cy="178.72" r="0.3" fill="#111" opacity="0.55"/>
<circle cx="233.26" cy="195.94" r="0.3" fill="#111" opacity="0.55"/>
<circle cx="229.78" cy="204.55" r="0.3" fill="#111" opacity="0.55"/>
<circle cx="231.87" cy="187.24" r="0.3" fill="#111" opacity="0.55"/>
<circle cx="233.91" cy="184.09" r="0.3" fill="#111" opacity="0.55"/>
<circle cx="232.33" cy="194.15" r="0.3" fill="#111" opacity="0.55"/>
<circle cx="234.1" cy="196.81" r="0.3" fill="#111" opacity="0.55"/>
<circle cx="227.79" cy="200" r="0.3" fill="#111" opacity="0.55"/>
<circle cx="228.78" cy="198.52" r="0.3" fill="#111" opacity="0.55"/>
<circle cx="227.88" cy="190.62" r="0.3" fill="#111" opacity="0.55"/>
<circle cx="229.36" cy="194.19" r="0.3" fill="#111" opacity="0.55"/>
<circle cx="230.03" cy="175.6" r="0.3" fill="#111" opacity="0.55"/>
<circle cx="234.25" cy="193.2" r="0.3" fill="#111" opacity="0.55"/>
<circle cx="225.01" cy="202.32" r="0.3" fill="#111" opacity="0.55"/>
<circle cx="224.59" cy="209.26" r="0.3" fill="#111" opacity="0.55"/>
<circle cx="233.72" cy="192.19" r="0.3" fill="#111" opacity="0.55"/>
<circle cx="225.12" cy="206.31" r="0.3" fill="#111" opacity="0.55"/>
<circle cx="234.68" cy="203.95" r="0.3" fill="#111" opacity="0.55"/>
<circle cx="224.48" cy="190.35" r="0.3" fill="#111" opacity="0.55"/>
<circle cx="224.13" cy="195.31" r="0.3" fill="#111" opacity="0.55"/>
<circle cx="230.08" cy="194.08" r="0.3" fill="#111" opacity="0.55"/>
<circle cx="233.21" cy="210.6" r="0.3" fill="#111" opacity="0.55"/>
<circle cx="232.43" cy="195.53" r="0.3" fill="#111" opacity="0.55"/>
<circle cx="229.6" cy="193.42" r="0.3" fill="#111" opacity="0.55"/>
<circle cx="225.83" cy="196.52" r="0.3" fill="#111" opacity="0.55"/>
<circle cx="229.29" cy="188.7" r="0.3" fill="#111" opacity="0.55"/>
<circle cx="225.97" cy="195.59" r="0.3" fill="#111" opacity="0.55"/>
<circle cx="229.14" cy="194.39" r="0.3" fill="#111" opacity="0.55"/>
<circle cx="224.67" cy="188.02" r="0.3" fill="#111" opacity="0.55"/>
<circle cx="234.5" cy="185.54" r="0.3" fill="#111" opacity="0.55"/>
<circle cx="229.98" cy="197.94" r="0.3" fill="#111" opacity="0.55"/>
<circle cx="227.49" cy="202.03" r="0.3" fill="#111" opacity="0.55"/>
<circle cx="231.52" cy="202.7" r="0.3" fill="#111" opacity="0.55"/>
<circle cx="234.25" cy="187.79" r="0.3" fill="#111" opacity="0.55"/>
<circle cx="234.08" cy="188.95" r="0.3" fill="#111" opacity="0.55"/>
<circle cx="230.3" cy="207.36" r="0.3" fill="#111" opacity="0.55"/>
<circle cx="231.34" cy="198.32" r="0.3" fill="#111" opacity="0.55"/>
<circle cx="234.07" cy="187.58" r="0.3" fill="#111" opacity="0.55"/>
<circle cx="224.75" cy="188.93" r="0.3" fill="#111" opacity="0.55"/>
<circle cx="224.15" cy="174.38" r="0.3" fill="#111" opacity="0.55"/>
<circle cx="225.03" cy="194.25" r="0.3" fill="#111" opacity="0.55"/>
<circle cx="224.06" cy="180.44" r="0.3" fill="#111" opacity="0.55"/>
<circle cx="231.37" cy="200.38" r="0.3" fill="#111" opacity="0.55"/>
<circle cx="232.13" cy="185.24" r="0.3" fill="#111" opacity="0.55"/>
<circle cx="232.69" cy="195.53" r="0.3" fill="#111" opacity="0.55"/>
<circle cx="232.54" cy="200.38" r="0.3" fill="#111" opacity="0.55"/>
<circle cx="234.53" cy="197.01" r="0.3" fill="#111" opacity="0.55"/>
<circle cx="227.49" cy="201.61" r="0.3" fill="#111" opacity="0.55"/>
<circle cx="227.61" cy="189.03" r="0.3" fill="#111" opacity="0.55"/>
<circle cx="226.68" cy="198.45" r="0.3" fill="#111" opacity="0.55"/>
<circle cx="227.49" cy="187.56" r="0.3" fill="#111" opacity="0.55"/>
<circle cx="231.22" cy="191.36" r="0.3" fill="#111" opacity="0.55"/>
<circle cx="233.5" cy="190.68" r="0.3" fill="#111" opacity="0.55"/>
<circle cx="225.73" cy="198.84" r="0.3" fill="#111" opacity="0.55"/>
<circle cx="231.28" cy="201.45" r="0.28" fill="#222" opacity="0.45"/>
<circle cx="230.04" cy="179.83" r="0.28" fill="#222" opacity="0.45"/>
<circle cx="231.35" cy="193.37" r="0.28" fill="#222" opacity="0.45"/>
<circle cx="227.25" cy="192.65" r="0.28" fill="#222" opacity="0.45"/>
<circle cx="228.95" cy="189.48" r="0.28" fill="#222" opacity="0.45"/>
<circle cx="227.87" cy="201.53" r="0.28" fill="#222" opacity="0.45"/>
<circle cx="231.99" cy="197.94" r="0.28" fill="#222" opacity="0.45"/>
<circle cx="233.82" cy="189.36" r="0.28" fill="#222" opacity="0.45"/>
<circle cx="224.27" cy="188.97" r="0.28" fill="#222" opacity="0.45"/>
<circle cx="228.98" cy="193.12" r="0.28" fill="#222" opacity="0.45"/>
<circle cx="226.91" cy="197.63" r="0.28" fill="#222" opacity="0.45"/>
<circle cx="232.54" cy="199.06" r="0.28" fill="#222" opacity="0.45"/>
<circle cx="229.1" cy="206.51" r="0.28" fill="#222" opacity="0.45"/>
<circle cx="234.82" cy="183.5" r="0.28" fill="#222" opacity="0.45"/>
<circle cx="229.11" cy="206.78" r="0.28" fill="#222" opacity="0.45"/>
<circle cx="233.55" cy="208.51" r="0.28" fill="#222" opacity="0.45"/>
<circle cx="226.45" cy="198.81" r="0.28" fill="#222" opacity="0.45"/>
<circle cx="226.27" cy="199.43" r="0.28" fill="#222" opacity="0.45"/>
<circle cx="233.48" cy="193.93" r="0.28" fill="#222" opacity="0.45"/>
<circle cx="225.67" cy="196.4" r="0.28" fill="#222" opacity="0.45"/>
<circle cx="228.81" cy="197.69" r="0.28" fill="#222" opacity="0.45"/>
<circle cx="229.32" cy="187.31" r="0.28" fill="#222" opacity="0.45"/>
<circle cx="230.65" cy="205.73" r="0.28" fill="#222" opacity="0.45"/>
<circle cx="235.16" cy="202.27" r="0.28" fill="#222" opacity="0.45"/>
<circle cx="231.96" cy="179.56" r="0.28" fill="#222" opacity="0.45"/>
<circle cx="230.9" cy="193.22" r="0.28" fill="#222" opacity="0.45"/>
<circle cx="227.59" cy="194.69" r="0.28" fill="#222" opacity="0.45"/>
<circle cx="229.91" cy="173.7" r="0.28" fill="#222" opacity="0.45"/>
<circle cx="226.41" cy="202" r="0.28" fill="#222" opacity="0.45"/>
<circle cx="228.15" cy="178.56" r="0.28" fill="#222" opacity="0.45"/>
<circle cx="226.34" cy="173.09" r="0.28" fill="#222" opacity="0.45"/>
<circle cx="231.16" cy="199.74" r="0.28" fill="#222" opacity="0.45"/>
<circle cx="230.44" cy="202.42" r="0.28" fill="#222" opacity="0.45"/>
<circle cx="230.48" cy="195.57" r="0.28" fill="#222" opacity="0.45"/>
<circle cx="231.91" cy="205.39" r="0.28" fill="#222" opacity="0.45"/>
<circle cx="229.97" cy="199.58" r="0.28" fill="#222" opacity="0.45"/>
<circle cx="225.37" cy="201.62" r="0.28" fill="#222" opacity="0.45"/>
<circle cx="224.36" cy="194.92" r="0.28" fill="#222" opacity="0.45"/>
<circle cx="221.65" cy="190.07" r="0.28" fill="#222" opacity="0.45"/>
<circle cx="231.28" cy="192.99" r="0.28" fill="#222" opacity="0.45"/>
<circle cx="231.74" cy="200.44" r="0.28" fill="#222" opacity="0.45"/>
<circle cx="229.79" cy="200.95" r="0.28" fill="#222" opacity="0.45"/>
<circle cx="227.41" cy="174.56" r="0.28" fill="#222" opacity="0.45"/>
<circle cx="227.29" cy="196.86" r="0.28" fill="#222" opacity="0.45"/>
<circle cx="227.74" cy="208.23" r="0.28" fill="#222" opacity="0.45"/>
<circle cx="228.69" cy="207.82" r="0.28" fill="#222" opacity="0.45"/>
<circle cx="225.56" cy="181.73" r="0.28" fill="#222" opacity="0.45"/>
<circle cx="229.75" cy="190.71" r="0.28" fill="#222" opacity="0.45"/>
<circle cx="234.66" cy="187.59" r="0.28" fill="#222" opacity="0.45"/>
<circle cx="228.45" cy="199.57" r="0.28" fill="#222" opacity="0.45"/>
<circle cx="230.33" cy="198.89" r="0.28" fill="#222" opacity="0.45"/>
<circle cx="229.11" cy="202.21" r="0.28" fill="#222" opacity="0.45"/>
<circle cx="231.54" cy="190.2" r="0.28" fill="#222" opacity="0.45"/>
<circle cx="230.44" cy="197.86" r="0.28" fill="#222" opacity="0.45"/>
<circle cx="227.25" cy="185.91" r="0.28" fill="#222" opacity="0.45"/>
<circle cx="229.53" cy="187.93" r="0.28" fill="#222" opacity="0.45"/>
<circle cx="228.99" cy="198.58" r="0.28" fill="#222" opacity="0.45"/>
<circle cx="229" cy="199.72" r="0.28" fill="#222" opacity="0.45"/>
<circle cx="226.83" cy="210.72" r="0.28" fill="#222" opacity="0.45"/>
<circle cx="227.31" cy="205.2" r="0.28" fill="#222" opacity="0.45"/>
<circle cx="225.18" cy="190.93" r="0.28" fill="#222" opacity="0.45"/>
<circle cx="227.68" cy="188.02" r="0.28" fill="#222" opacity="0.45"/>
<circle cx="228.41" cy="186.35" r="0.28" fill="#222" opacity="0.45"/>
<circle cx="235.45" cy="186.15" r="0.28" fill="#222" opacity="0.45"/>
<circle cx="236.76" cy="199.42" r="0.28" fill="#222" opacity="0.45"/>
<circle cx="224.02" cy="209.34" r="0.28" fill="#222" opacity="0.45"/>
<circle cx="232.56" cy="203.16" r="0.28" fill="#222" opacity="0.45"/>
<circle cx="229.04" cy="205.13" r="0.28" fill="#222" opacity="0.45"/>
<circle cx="233.81" cy="204.56" r="0.28" fill="#222" opacity="0.45"/>
<circle cx="233.52" cy="198.22" r="0.28" fill="#222" opacity="0.45"/>
<circle cx="235.8" cy="210.18" r="0.28" fill="#222" opacity="0.45"/>
<circle cx="230.71" cy="196.05" r="0.28" fill="#222" opacity="0.45"/>
<circle cx="226.57" cy="193.49" r="0.28" fill="#222" opacity="0.45"/>
<circle cx="227.93" cy="186.19" r="0.28" fill="#222" opacity="0.45"/>
<circle cx="227.5" cy="207.52" r="0.28" fill="#222" opacity="0.45"/>
<circle cx="229.43" cy="196.59" r="0.28" fill="#222" opacity="0.45"/>
<circle cx="229.36" cy="189.16" r="0.28" fill="#222" opacity="0.45"/>
<circle cx="227.27" cy="184.5" r="0.28" fill="#222" opacity="0.45"/>
<circle cx="229.63" cy="192.82" r="0.28" fill="#222" opacity="0.45"/>
<circle cx="229.36" cy="185.65" r="0.28" fill="#222" opacity="0.45"/>
<circle cx="222.72" cy="180.44" r="0.28" fill="#222" opacity="0.45"/>
<circle cx="232.7" cy="194.99" r="0.28" fill="#222" opacity="0.45"/>
<circle cx="229.89" cy="206" r="0.28" fill="#222" opacity="0.45"/>
<circle cx="226.96" cy="199.25" r="0.28" fill="#222" opacity="0.45"/>
<circle cx="227.13" cy="206.6" r="0.28" fill="#222" opacity="0.45"/>
<circle cx="231.12" cy="185.73" r="0.28" fill="#222" opacity="0.45"/>
<circle cx="228.06" cy="207.83" r="0.28" fill="#222" opacity="0.45"/>
<circle cx="229.6" cy="188.85" r="0.28" fill="#222" opacity="0.45"/>
<circle cx="226.12" cy="203.34" r="0.28" fill="#222" opacity="0.45"/>
<circle cx="231.07" cy="193.41" r="0.28" fill="#222" opacity="0.45"/>
<circle cx="235.22" cy="201.07" r="0.28" fill="#222" opacity="0.45"/>
<circle cx="220.92" cy="206.06" r="0.28" fill="#222" opacity="0.45"/>
<circle cx="226.88" cy="210.05" r="0.28" fill="#222" opacity="0.45"/>
<circle cx="224.48" cy="201.58" r="0.28" fill="#222" opacity="0.45"/>
<circle cx="223.95" cy="203.51" r="0.28" fill="#222" opacity="0.45"/>
<circle cx="234.56" cy="205.13" r="0.28" fill="#222" opacity="0.45"/>
<circle cx="231.56" cy="194.57" r="0.28" fill="#222" opacity="0.45"/>
<circle cx="228.97" cy="198.86" r="0.28" fill="#222" opacity="0.45"/>
<circle cx="229.08" cy="187.95" r="0.28" fill="#222" opacity="0.45"/>
<circle cx="225.06" cy="200.53" r="0.28" fill="#222" opacity="0.45"/>
<circle cx="228.58" cy="184.81" r="0.28" fill="#222" opacity="0.45"/>
<circle cx="228.53" cy="194.15" r="0.28" fill="#222" opacity="0.45"/>
<circle cx="235.74" cy="192.87" r="0.28" fill="#222" opacity="0.45"/>
<circle cx="228.54" cy="194.76" r="0.28" fill="#222" opacity="0.45"/>
<circle cx="227.45" cy="202.89" r="0.28" fill="#222" opacity="0.45"/>
<circle cx="233.75" cy="181.33" r="0.28" fill="#222" opacity="0.45"/>
<circle cx="232.94" cy="195.7" r="0.28" fill="#222" opacity="0.45"/>
<circle cx="235.31" cy="208.3" r="0.28" fill="#222" opacity="0.45"/>
<circle cx="229.96" cy="204.16" r="0.28" fill="#222" opacity="0.45"/>
<circle cx="232.21" cy="179.75" r="0.28" fill="#222" opacity="0.45"/>
<circle cx="233.58" cy="187.84" r="0.28" fill="#222" opacity="0.45"/>
<circle cx="226.15" cy="192.08" r="0.28" fill="#222" opacity="0.45"/>
<circle cx="228.88" cy="197.49" r="0.28" fill="#222" opacity="0.45"/>
<circle cx="232.32" cy="198.7" r="0.28" fill="#222" opacity="0.45"/>
<circle cx="233.92" cy="198.92" r="0.28" fill="#222" opacity="0.45"/>
<circle cx="224.43" cy="199.41" r="0.28" fill="#222" opacity="0.45"/>
<circle cx="229.02" cy="188.41" r="0.28" fill="#222" opacity="0.45"/>
<circle cx="231.34" cy="196.09" r="0.28" fill="#222" opacity="0.45"/>
<circle cx="225.4" cy="187.97" r="0.28" fill="#222" opacity="0.45"/>
<circle cx="228.28" cy="205.29" r="0.28" fill="#222" opacity="0.45"/>
<circle cx="227.31" cy="187.36" r="0.28" fill="#222" opacity="0.45"/>
<circle cx="223.71" cy="178.43" r="0.28" fill="#222" opacity="0.45"/>
<circle cx="226.45" cy="198.35" r="0.28" fill="#222" opacity="0.45"/>
<circle cx="233.13" cy="194.8" r="0.28" fill="#222" opacity="0.45"/>
<circle cx="229.37" cy="194.35" r="0.28" fill="#222" opacity="0.45"/>
<circle cx="226.29" cy="204.96" r="0.28" fill="#222" opacity="0.45"/>
<circle cx="230.19" cy="180.88" r="0.28" fill="#222" opacity="0.45"/>
<circle cx="231.43" cy="197.01" r="0.28" fill="#222" opacity="0.45"/>
<circle cx="228.14" cy="190.57" r="0.28" fill="#222" opacity="0.45"/>
<circle cx="230.38" cy="195.24" r="0.28" fill="#222" opacity="0.45"/>
<circle cx="230.27" cy="205.78" r="0.28" fill="#222" opacity="0.45"/>
<circle cx="227.99" cy="173.2" r="0.28" fill="#222" opacity="0.45"/>
<circle cx="226.75" cy="190.45" r="0.28" fill="#222" opacity="0.45"/>
<circle cx="230.6" cy="190.96" r="0.28" fill="#222" opacity="0.45"/>
<line x1="229.3" y1="186" x2="229.3" y2="192" stroke="#222" stroke-width="0.35"/>
<line x1="229.3" y1="203" x2="229.3" y2="208.5" stroke="#222" stroke-width="0.35"/>
<rect x="228.1" y="192" width="2.4" height="11" fill="#E04848" stroke="#222" stroke-width="0.35"/>
<line x1="228.1" y1="197.5" x2="230.5" y2="197.5" stroke="#222" stroke-width="0.4"/>
<path d="M243.1,170.3 L243.11,170.97 L243.13,171.65 L243.17,172.32 L243.21,172.99 L243.27,173.66 L243.32,174.34 L243.38,175.01 L243.44,175.68 L243.49,176.36 L243.53,177.03 L243.57,177.7 L243.59,178.37 L243.6,179.05 L243.71,179.72 L243.98,180.39 L244.37,181.07 L244.82,181.74 L245.29,182.41 L245.73,183.08 L246.09,183.76 L246.33,184.43 L246.4,185.1 L246.47,185.78 L246.61,186.45 L246.83,187.12 L247.09,187.79 L247.38,188.47 L247.67,189.14 L247.96,189.81 L248.21,190.49 L248.41,191.16 L248.55,191.83 L248.6,192.51 L248.56,193.18 L248.46,193.85 L248.32,194.52 L248.14,195.2 L247.94,195.87 L247.74,196.54 L247.55,197.22 L247.39,197.89 L247.27,198.56 L247.21,199.23 L247.15,199.91 L246.9,200.58 L246.48,201.25 L245.96,201.93 L245.42,202.6 L244.9,203.27 L244.49,203.94 L244.24,204.62 L244.19,205.29 L244.09,205.96 L243.92,206.64 L243.71,207.31 L243.49,207.98 L243.3,208.65 L243.15,209.33 L243.1,210 L242.5,210 L242.45,209.33 L242.3,208.65 L242.11,207.98 L241.89,207.31 L241.68,206.64 L241.51,205.96 L241.41,205.29 L241.36,204.62 L241.11,203.94 L240.7,203.27 L240.18,202.6 L239.64,201.93 L239.12,201.25 L238.7,200.58 L238.45,199.91 L238.39,199.23 L238.33,198.56 L238.21,197.89 L238.05,197.22 L237.86,196.54 L237.66,195.87 L237.46,195.2 L237.28,194.52 L237.14,193.85 L237.04,193.18 L237,192.51 L237.05,191.83 L237.19,191.16 L237.39,190.49 L237.64,189.81 L237.93,189.14 L238.22,188.47 L238.51,187.79 L238.77,187.12 L238.99,186.45 L239.13,185.78 L239.2,185.1 L239.27,184.43 L239.51,183.76 L239.87,183.08 L240.31,182.41 L240.78,181.74 L241.23,181.07 L241.62,180.39 L241.89,179.72 L242,179.05 L242.01,178.37 L242.03,177.7 L242.07,177.03 L242.11,176.36 L242.16,175.68 L242.22,175.01 L242.28,174.34 L242.33,173.66 L242.39,172.99 L242.43,172.32 L242.47,171.65 L242.49,170.97 L242.5,170.3 Z" fill="#13898F" stroke="#333" stroke-width="0.3"/>
<circle cx="238.26" cy="175.54" r="0.3" fill="#111" opacity="0.7"/>
<circle cx="242" cy="195.89" r="0.3" fill="#111" opacity="0.7"/>
<circle cx="243.46" cy="188.33" r="0.3" fill="#111" opacity="0.7"/>
<circle cx="244.49" cy="182.09" r="0.3" fill="#111" opacity="0.7"/>
<circle cx="239.81" cy="206.99" r="0.3" fill="#111" opacity="0.7"/>
<circle cx="243.29" cy="187.29" r="0.3" fill="#111" opacity="0.7"/>
<circle cx="239.07" cy="201.57" r="0.3" fill="#111" opacity="0.7"/>
<circle cx="245.99" cy="192.86" r="0.3" fill="#111" opacity="0.7"/>
<circle cx="243.42" cy="196.74" r="0.3" fill="#111" opacity="0.7"/>
<circle cx="240.07" cy="194.4" r="0.3" fill="#111" opacity="0.7"/>
<circle cx="240.63" cy="190.86" r="0.3" fill="#111" opacity="0.7"/>
<circle cx="246" cy="181.93" r="0.3" fill="#111" opacity="0.7"/>
<circle cx="242.28" cy="186.44" r="0.3" fill="#111" opacity="0.7"/>
<circle cx="241.99" cy="184.23" r="0.3" fill="#111" opacity="0.7"/>
<circle cx="248.26" cy="199.23" r="0.3" fill="#111" opacity="0.7"/>
<circle cx="247.46" cy="197.93" r="0.3" fill="#111" opacity="0.7"/>
<circle cx="240.03" cy="195.52" r="0.3" fill="#111" opacity="0.7"/>
<circle cx="245.13" cy="193.93" r="0.3" fill="#111" opacity="0.7"/>
<circle cx="241.91" cy="189.62" r="0.3" fill="#111" opacity="0.7"/>
<circle cx="243.68" cy="194.4" r="0.3" fill="#111" opacity="0.7"/>
<circle cx="244.6" cy="192.74" r="0.3" fill="#111" opacity="0.7"/>
<circle cx="244.98" cy="185.89" r="0.3" fill="#111" opacity="0.7"/>
<circle cx="245.33" cy="191.39" r="0.3" fill="#111" opacity="0.7"/>
<circle cx="238.34" cy="191.57" r="0.3" fill="#111" opacity="0.7"/>
<circle cx="237" cy="200.47" r="0.3" fill="#111" opacity="0.7"/>
<circle cx="237.67" cy="195.67" r="0.3" fill="#111" opacity="0.7"/>
<circle cx="238.07" cy="186.9" r="0.3" fill="#111" opacity="0.7"/>
<circle cx="248.24" cy="197.98" r="0.3" fill="#111" opacity="0.7"/>
<circle cx="243.85" cy="197.84" r="0.3" fill="#111" opacity="0.7"/>
<circle cx="240.59" cy="186.52" r="0.3" fill="#111" opacity="0.7"/>
<circle cx="240.45" cy="196.52" r="0.3" fill="#111" opacity="0.7"/>
<circle cx="239.45" cy="192.64" r="0.3" fill="#111" opacity="0.7"/>
<circle cx="241.73" cy="198.55" r="0.3" fill="#111" opacity="0.7"/>
<circle cx="241.59" cy="186.76" r="0.3" fill="#111" opacity="0.7"/>
<circle cx="246.3" cy="197.1" r="0.3" fill="#111" opacity="0.7"/>
<circle cx="245.3" cy="189.48" r="0.3" fill="#111" opacity="0.7"/>
<circle cx="242.04" cy="186.67" r="0.3" fill="#111" opacity="0.7"/>
<circle cx="242.24" cy="195.13" r="0.3" fill="#111" opacity="0.7"/>
<circle cx="241.73" cy="189.08" r="0.3" fill="#111" opacity="0.7"/>
<circle cx="240.44" cy="201.97" r="0.3" fill="#111" opacity="0.7"/>
<circle cx="242.48" cy="194.1" r="0.3" fill="#111" opacity="0.7"/>
<circle cx="247.35" cy="185.36" r="0.3" fill="#111" opacity="0.7"/>
<circle cx="247.58" cy="186.48" r="0.3" fill="#111" opacity="0.7"/>
<circle cx="248.52" cy="194.91" r="0.3" fill="#111" opacity="0.7"/>
<circle cx="244.85" cy="194.58" r="0.3" fill="#111" opacity="0.7"/>
<circle cx="245.69" cy="186.09" r="0.3" fill="#111" opacity="0.7"/>
<circle cx="248.2" cy="189.78" r="0.3" fill="#111" opacity="0.7"/>
<circle cx="244.67" cy="203.76" r="0.3" fill="#111" opacity="0.7"/>
<circle cx="244.64" cy="189.35" r="0.3" fill="#111" opacity="0.7"/>
<circle cx="239.51" cy="186.47" r="0.3" fill="#111" opacity="0.7"/>
<circle cx="248.56" cy="194.11" r="0.3" fill="#111" opacity="0.7"/>
<circle cx="240.9" cy="184.36" r="0.3" fill="#111" opacity="0.7"/>
<circle cx="241.79" cy="192.69" r="0.3" fill="#111" opacity="0.7"/>
<circle cx="246" cy="191.75" r="0.3" fill="#111" opacity="0.7"/>
<circle cx="239.45" cy="192.43" r="0.3" fill="#111" opacity="0.7"/>
<circle cx="241.58" cy="202.64" r="0.3" fill="#111" opacity="0.7"/>
<circle cx="247.75" cy="197.63" r="0.3" fill="#111" opacity="0.7"/>
<circle cx="237.52" cy="192.82" r="0.3" fill="#111" opacity="0.7"/>
<circle cx="246.85" cy="181.74" r="0.3" fill="#111" opacity="0.7"/>
<circle cx="241.5" cy="186.53" r="0.3" fill="#111" opacity="0.7"/>
<circle cx="245.94" cy="183.69" r="0.3" fill="#111" opacity="0.7"/>
<circle cx="245.76" cy="187.06" r="0.3" fill="#111" opacity="0.7"/>
<circle cx="245.26" cy="188.31" r="0.3" fill="#111" opacity="0.7"/>
<circle cx="243.54" cy="190.46" r="0.3" fill="#111" opacity="0.7"/>
<circle cx="238.44" cy="173.15" r="0.3" fill="#111" opacity="0.7"/>
<circle cx="246.17" cy="187.33" r="0.3" fill="#111" opacity="0.7"/>
<circle cx="248.2" cy="187.9" r="0.3" fill="#111" opacity="0.7"/>
<circle cx="240.09" cy="203.05" r="0.3" fill="#111" opacity="0.7"/>
<circle cx="242.74" cy="185.17" r="0.3" fill="#111" opacity="0.7"/>
<circle cx="238.8" cy="189.49" r="0.3" fill="#111" opacity="0.7"/>
<circle cx="244.76" cy="182.56" r="0.3" fill="#111" opacity="0.7"/>
<circle cx="240.27" cy="182.49" r="0.3" fill="#111" opacity="0.7"/>
<circle cx="238.54" cy="195.52" r="0.3" fill="#111" opacity="0.7"/>
<circle cx="244.07" cy="186.14" r="0.3" fill="#111" opacity="0.7"/>
<circle cx="248.69" cy="184.67" r="0.3" fill="#111" opacity="0.7"/>
<circle cx="243.63" cy="195.12" r="0.3" fill="#111" opacity="0.7"/>
<circle cx="245.91" cy="199.25" r="0.3" fill="#111" opacity="0.7"/>
<circle cx="237.7" cy="191.12" r="0.3" fill="#111" opacity="0.7"/>
<circle cx="245.08" cy="189.66" r="0.3" fill="#111" opacity="0.7"/>
<circle cx="246.74" cy="203.21" r="0.3" fill="#111" opacity="0.7"/>
<circle cx="241.1" cy="188.92" r="0.3" fill="#111" opacity="0.7"/>
<circle cx="243.25" cy="196.83" r="0.3" fill="#111" opacity="0.7"/>
<circle cx="244.69" cy="199.7" r="0.3" fill="#111" opacity="0.7"/>
<circle cx="238.58" cy="194.03" r="0.3" fill="#111" opacity="0.7"/>
<circle cx="248" cy="187.68" r="0.3" fill="#111" opacity="0.7"/>
<circle cx="239.8" cy="206.18" r="0.3" fill="#111" opacity="0.7"/>
<circle cx="237.83" cy="194.53" r="0.3" fill="#111" opacity="0.7"/>
<circle cx="246.33" cy="196.15" r="0.3" fill="#111" opacity="0.7"/>
<circle cx="242.67" cy="192.62" r="0.3" fill="#111" opacity="0.7"/>
<circle cx="245.14" cy="187.53" r="0.3" fill="#111" opacity="0.7"/>
<circle cx="247.11" cy="205.74" r="0.3" fill="#111" opacity="0.7"/>
<circle cx="239.34" cy="195.27" r="0.3" fill="#111" opacity="0.7"/>
<circle cx="240.84" cy="189.87" r="0.3" fill="#111" opacity="0.7"/>
<circle cx="247.34" cy="182.61" r="0.3" fill="#111" opacity="0.7"/>
<circle cx="240.56" cy="194.57" r="0.3" fill="#111" opacity="0.7"/>
<circle cx="242.1" cy="200.78" r="0.3" fill="#111" opacity="0.7"/>
<circle cx="244.11" cy="196.47" r="0.3" fill="#111" opacity="0.7"/>
<circle cx="248.64" cy="184.59" r="0.3" fill="#111" opacity="0.7"/>
<circle cx="244.24" cy="193.83" r="0.3" fill="#111" opacity="0.7"/>
<circle cx="238.6" cy="197.9" r="0.3" fill="#111" opacity="0.7"/>
<circle cx="242.08" cy="199.24" r="0.3" fill="#111" opacity="0.7"/>
<circle cx="241.97" cy="191.58" r="0.3" fill="#111" opacity="0.7"/>
<circle cx="244.92" cy="200.29" r="0.3" fill="#111" opacity="0.7"/>
<circle cx="238.86" cy="179.26" r="0.3" fill="#111" opacity="0.7"/>
<circle cx="239.39" cy="186.27" r="0.3" fill="#111" opacity="0.7"/>
<circle cx="247.39" cy="201.65" r="0.3" fill="#111" opacity="0.7"/>
<circle cx="241.17" cy="196.49" r="0.3" fill="#111" opacity="0.7"/>
<circle cx="239.55" cy="189.39" r="0.3" fill="#111" opacity="0.7"/>
<circle cx="245.15" cy="192.57" r="0.3" fill="#111" opacity="0.7"/>
<circle cx="237.55" cy="190.87" r="0.3" fill="#111" opacity="0.7"/>
<circle cx="243.8" cy="197.75" r="0.3" fill="#111" opacity="0.7"/>
<circle cx="237.94" cy="185.63" r="0.3" fill="#111" opacity="0.7"/>
<circle cx="248.62" cy="199.28" r="0.3" fill="#111" opacity="0.7"/>
<circle cx="244" cy="194.79" r="0.3" fill="#111" opacity="0.7"/>
<circle cx="238.02" cy="194.63" r="0.3" fill="#111" opacity="0.7"/>
<circle cx="237.05" cy="191.08" r="0.3" fill="#111" opacity="0.7"/>
<circle cx="240.07" cy="191.57" r="0.3" fill="#111" opacity="0.7"/>
<circle cx="244.8" cy="188.88" r="0.3" fill="#111" opacity="0.7"/>
<circle cx="242.41" cy="190.93" r="0.3" fill="#111" opacity="0.7"/>
<circle cx="240.27" cy="187.18" r="0.3" fill="#111" opacity="0.7"/>
<circle cx="241.12" cy="186.92" r="0.3" fill="#111" opacity="0.7"/>
<circle cx="239.79" cy="190.53" r="0.3" fill="#111" opacity="0.7"/>
<circle cx="236.99" cy="191.57" r="0.3" fill="#111" opacity="0.7"/>
<circle cx="240.52" cy="198.25" r="0.3" fill="#111" opacity="0.7"/>
<circle cx="238.16" cy="188.36" r="0.3" fill="#111" opacity="0.7"/>
<circle cx="246.95" cy="189.97" r="0.3" fill="#111" opacity="0.7"/>
<circle cx="240.54" cy="184.78" r="0.3" fill="#111" opacity="0.7"/>
<circle cx="247.45" cy="194.62" r="0.3" fill="#111" opacity="0.7"/>
<circle cx="244.71" cy="193.25" r="0.3" fill="#111" opacity="0.7"/>
<circle cx="245.11" cy="183.23" r="0.3" fill="#111" opacity="0.7"/>
<circle cx="241.48" cy="185.77" r="0.3" fill="#111" opacity="0.7"/>
<circle cx="242.85" cy="192.98" r="0.3" fill="#111" opacity="0.7"/>
<circle cx="243.2" cy="184.58" r="0.3" fill="#111" opacity="0.7"/>
<circle cx="246.26" cy="194.68" r="0.3" fill="#111" opacity="0.7"/>
<circle cx="237.07" cy="196.89" r="0.3" fill="#111" opacity="0.7"/>
<circle cx="240.41" cy="189.89" r="0.3" fill="#111" opacity="0.7"/>
<circle cx="244.24" cy="205.24" r="0.3" fill="#111" opacity="0.7"/>
<circle cx="240.23" cy="195.48" r="0.3" fill="#111" opacity="0.7"/>
<circle cx="246.83" cy="198.09" r="0.3" fill="#111" opacity="0.7"/>
<circle cx="245" cy="206.15" r="0.3" fill="#111" opacity="0.7"/>
<circle cx="242.26" cy="188.86" r="0.3" fill="#111" opacity="0.7"/>
<circle cx="241.57" cy="182.2" r="0.3" fill="#111" opacity="0.7"/>
<circle cx="248.7" cy="179.36" r="0.3" fill="#111" opacity="0.7"/>
<circle cx="247.8" cy="188.3" r="0.3" fill="#111" opacity="0.7"/>
<circle cx="239.76" cy="194.41" r="0.3" fill="#111" opacity="0.7"/>
<circle cx="248.45" cy="190.63" r="0.3" fill="#111" opacity="0.7"/>
<circle cx="240.52" cy="184.89" r="0.3" fill="#111" opacity="0.7"/>
<circle cx="247.14" cy="190.73" r="0.3" fill="#111" opacity="0.7"/>
<circle cx="237.71" cy="171.79" r="0.3" fill="#111" opacity="0.7"/>
<circle cx="248.72" cy="190.75" r="0.3" fill="#111" opacity="0.7"/>
<circle cx="241.47" cy="196.95" r="0.3" fill="#111" opacity="0.7"/>
<circle cx="244.47" cy="193.33" r="0.3" fill="#111" opacity="0.7"/>
<circle cx="248.07" cy="199.91" r="0.3" fill="#111" opacity="0.7"/>
<circle cx="242.03" cy="198.76" r="0.3" fill="#111" opacity="0.7"/>
<circle cx="243.79" cy="193.73" r="0.3" fill="#111" opacity="0.7"/>
<circle cx="238.88" cy="183.66" r="0.3" fill="#111" opacity="0.7"/>
<circle cx="244.89" cy="178.35" r="0.3" fill="#111" opacity="0.7"/>
<circle cx="239.4" cy="196.37" r="0.3" fill="#111" opacity="0.7"/>
<circle cx="240.84" cy="184.71" r="0.3" fill="#111" opacity="0.7"/>
<circle cx="243.73" cy="195.87" r="0.3" fill="#111" opacity="0.7"/>
<circle cx="239.44" cy="192.1" r="0.3" fill="#111" opacity="0.7"/>
<circle cx="244.68" cy="192.02" r="0.3" fill="#111" opacity="0.7"/>
<circle cx="245.94" cy="193.6" r="0.3" fill="#111" opacity="0.7"/>
<circle cx="240.81" cy="195.65" r="0.3" fill="#111" opacity="0.7"/>
<circle cx="238.02" cy="201.64" r="0.3" fill="#111" opacity="0.7"/>
<circle cx="244.44" cy="190.65" r="0.3" fill="#111" opacity="0.7"/>
<circle cx="245.49" cy="192.01" r="0.3" fill="#111" opacity="0.7"/>
<circle cx="245.9" cy="205.81" r="0.3" fill="#111" opacity="0.7"/>
<circle cx="246.37" cy="194.73" r="0.3" fill="#111" opacity="0.7"/>
<circle cx="238.49" cy="193.65" r="0.3" fill="#111" opacity="0.7"/>
<circle cx="238.76" cy="193.51" r="0.3" fill="#111" opacity="0.7"/>
<circle cx="242.48" cy="194.65" r="0.3" fill="#111" opacity="0.7"/>
<circle cx="239.91" cy="198.95" r="0.3" fill="#111" opacity="0.7"/>
<circle cx="246.74" cy="191.39" r="0.3" fill="#111" opacity="0.7"/>
<circle cx="244.18" cy="196.98" r="0.3" fill="#111" opacity="0.7"/>
<circle cx="248.02" cy="202.11" r="0.3" fill="#111" opacity="0.7"/>
<circle cx="241.39" cy="201.67" r="0.3" fill="#111" opacity="0.7"/>
<circle cx="246.68" cy="195.44" r="0.3" fill="#111" opacity="0.7"/>
<circle cx="239.02" cy="192.84" r="0.3" fill="#111" opacity="0.7"/>
<circle cx="242.74" cy="204.09" r="0.3" fill="#111" opacity="0.7"/>
<circle cx="240.15" cy="198.08" r="0.3" fill="#111" opacity="0.7"/>
<circle cx="247.81" cy="191.98" r="0.3" fill="#111" opacity="0.7"/>
<circle cx="239.04" cy="191.82" r="0.3" fill="#111" opacity="0.7"/>
<circle cx="239.65" cy="190.7" r="0.3" fill="#111" opacity="0.7"/>
<circle cx="245.21" cy="189.65" r="0.3" fill="#111" opacity="0.7"/>
<circle cx="248.56" cy="206.08" r="0.3" fill="#111" opacity="0.7"/>
<circle cx="241.4" cy="188.24" r="0.3" fill="#111" opacity="0.7"/>
<circle cx="245.41" cy="184.38" r="0.3" fill="#111" opacity="0.7"/>
<circle cx="242.7" cy="190.56" r="0.3" fill="#111" opacity="0.7"/>
<circle cx="241.41" cy="193.1" r="0.3" fill="#111" opacity="0.7"/>
<circle cx="237.14" cy="190.83" r="0.3" fill="#111" opacity="0.7"/>
<circle cx="248.59" cy="192.57" r="0.3" fill="#111" opacity="0.7"/>
<circle cx="238.58" cy="188.68" r="0.3" fill="#111" opacity="0.7"/>
<circle cx="243.91" cy="197.53" r="0.3" fill="#111" opacity="0.7"/>
<circle cx="242.8" cy="196.8" r="0.3" fill="#111" opacity="0.7"/>
<circle cx="242.8" cy="190.75" r="0.3" fill="#111" opacity="0.7"/>
<circle cx="239.67" cy="193.9" r="0.3" fill="#111" opacity="0.7"/>
<circle cx="239.08" cy="184.01" r="0.3" fill="#111" opacity="0.7"/>
<circle cx="247.18" cy="192.55" r="0.3" fill="#111" opacity="0.7"/>
<circle cx="237.2" cy="190.21" r="0.3" fill="#111" opacity="0.7"/>
<circle cx="246.93" cy="195.92" r="0.3" fill="#111" opacity="0.7"/>
<circle cx="244.24" cy="200.3" r="0.3" fill="#111" opacity="0.7"/>
<circle cx="245.47" cy="192.69" r="0.3" fill="#111" opacity="0.7"/>
<circle cx="237.42" cy="181.16" r="0.3" fill="#111" opacity="0.7"/>
<circle cx="238.75" cy="194.8" r="0.3" fill="#111" opacity="0.7"/>
<circle cx="237.25" cy="189.48" r="0.3" fill="#111" opacity="0.7"/>
<circle cx="241.37" cy="207.1" r="0.3" fill="#111" opacity="0.7"/>
<circle cx="237.84" cy="195.54" r="0.3" fill="#111" opacity="0.7"/>
<circle cx="244.02" cy="205.97" r="0.3" fill="#111" opacity="0.7"/>
<circle cx="247.8" cy="196.92" r="0.3" fill="#111" opacity="0.7"/>
<circle cx="240.24" cy="196.33" r="0.3" fill="#111" opacity="0.7"/>
<circle cx="239.09" cy="193.8" r="0.3" fill="#111" opacity="0.7"/>
<circle cx="244.48" cy="196.57" r="0.3" fill="#111" opacity="0.7"/>
<circle cx="238.82" cy="196.03" r="0.3" fill="#111" opacity="0.7"/>
<circle cx="241.31" cy="197.24" r="0.3" fill="#111" opacity="0.7"/>
<circle cx="238.6" cy="200.56" r="0.3" fill="#111" opacity="0.7"/>
<circle cx="241.46" cy="185.42" r="0.3" fill="#111" opacity="0.7"/>
<circle cx="242.49" cy="189.54" r="0.3" fill="#111" opacity="0.7"/>
<circle cx="239.12" cy="202.37" r="0.3" fill="#111" opacity="0.7"/>
<circle cx="240.83" cy="195.39" r="0.3" fill="#111" opacity="0.7"/>
<circle cx="243.85" cy="207.61" r="0.3" fill="#111" opacity="0.7"/>
<circle cx="241.51" cy="193.85" r="0.3" fill="#111" opacity="0.7"/>
<circle cx="238.38" cy="176.97" r="0.3" fill="#111" opacity="0.7"/>
<circle cx="241.4" cy="188.69" r="0.3" fill="#111" opacity="0.7"/>
<circle cx="245.28" cy="191.24" r="0.3" fill="#111" opacity="0.7"/>
<circle cx="247.7" cy="186.48" r="0.3" fill="#111" opacity="0.7"/>
<circle cx="240.31" cy="198.54" r="0.3" fill="#111" opacity="0.7"/>
<circle cx="245.8" cy="194.45" r="0.3" fill="#111" opacity="0.7"/>
<circle cx="247.9" cy="195.32" r="0.3" fill="#111" opacity="0.7"/>
<circle cx="239.03" cy="182.4" r="0.3" fill="#111" opacity="0.7"/>
<circle cx="245.99" cy="182.26" r="0.3" fill="#111" opacity="0.7"/>
<circle cx="238.15" cy="201.51" r="0.3" fill="#111" opacity="0.7"/>
<circle cx="247.19" cy="204.4" r="0.3" fill="#111" opacity="0.7"/>
<circle cx="241.15" cy="191.54" r="0.3" fill="#111" opacity="0.7"/>
<circle cx="247.58" cy="179.07" r="0.3" fill="#111" opacity="0.7"/>
<circle cx="243.73" cy="182.13" r="0.3" fill="#111" opacity="0.7"/>
<circle cx="246.87" cy="176.43" r="0.3" fill="#111" opacity="0.7"/>
<circle cx="238.52" cy="183.08" r="0.3" fill="#111" opacity="0.7"/>
<circle cx="241.64" cy="178.24" r="0.3" fill="#111" opacity="0.7"/>
<circle cx="246.17" cy="189.58" r="0.3" fill="#111" opacity="0.7"/>
<circle cx="237.55" cy="191.54" r="0.3" fill="#111" opacity="0.7"/>
<circle cx="240.67" cy="189.09" r="0.3" fill="#111" opacity="0.7"/>
<circle cx="244.08" cy="188.9" r="0.3" fill="#111" opacity="0.7"/>
<circle cx="247.09" cy="195.74" r="0.3" fill="#111" opacity="0.7"/>
<circle cx="248.64" cy="200.11" r="0.3" fill="#111" opacity="0.7"/>
<circle cx="245.13" cy="192.47" r="0.3" fill="#111" opacity="0.7"/>
<circle cx="239.08" cy="199.66" r="0.3" fill="#111" opacity="0.7"/>
<circle cx="243.48" cy="195.72" r="0.3" fill="#111" opacity="0.7"/>
<circle cx="240.87" cy="189.22" r="0.3" fill="#111" opacity="0.7"/>
<circle cx="236.82" cy="193.32" r="0.3" fill="#111" opacity="0.7"/>
<circle cx="240.74" cy="193" r="0.3" fill="#111" opacity="0.7"/>
<circle cx="244.45" cy="189.6" r="0.3" fill="#111" opacity="0.7"/>
<circle cx="239.59" cy="203.19" r="0.3" fill="#111" opacity="0.7"/>
<circle cx="242.58" cy="197.43" r="0.3" fill="#111" opacity="0.7"/>
<circle cx="248.02" cy="190.64" r="0.3" fill="#111" opacity="0.7"/>
<circle cx="241.85" cy="179.41" r="0.3" fill="#111" opacity="0.7"/>
<circle cx="240.55" cy="190.09" r="0.3" fill="#111" opacity="0.7"/>
<circle cx="245.7" cy="199.42" r="0.3" fill="#111" opacity="0.7"/>
<circle cx="238.62" cy="182.64" r="0.3" fill="#111" opacity="0.7"/>
<circle cx="246.19" cy="195.45" r="0.3" fill="#111" opacity="0.7"/>
<circle cx="244.2" cy="197.61" r="0.3" fill="#111" opacity="0.7"/>
<circle cx="238.75" cy="192.02" r="0.3" fill="#111" opacity="0.7"/>
<circle cx="239" cy="200.06" r="0.3" fill="#111" opacity="0.7"/>
<circle cx="245.57" cy="194.59" r="0.3" fill="#111" opacity="0.7"/>
<circle cx="248.42" cy="183.58" r="0.3" fill="#111" opacity="0.7"/>
<circle cx="237.5" cy="188.4" r="0.3" fill="#111" opacity="0.7"/>
<circle cx="242.31" cy="194.54" r="0.3" fill="#111" opacity="0.7"/>
<circle cx="246.69" cy="194.09" r="0.3" fill="#111" opacity="0.7"/>
<circle cx="247.07" cy="189.44" r="0.3" fill="#111" opacity="0.7"/>
<circle cx="241.27" cy="184.93" r="0.3" fill="#111" opacity="0.7"/>
<circle cx="237.11" cy="200.61" r="0.3" fill="#111" opacity="0.7"/>
<circle cx="239.55" cy="199.53" r="0.3" fill="#111" opacity="0.7"/>
<circle cx="237.57" cy="197.08" r="0.3" fill="#111" opacity="0.7"/>
<circle cx="243.18" cy="193.77" r="0.3" fill="#111" opacity="0.7"/>
<circle cx="246.69" cy="199.6" r="0.3" fill="#111" opacity="0.7"/>
<circle cx="240.93" cy="199.86" r="0.3" fill="#111" opacity="0.7"/>
<circle cx="245.54" cy="200.6" r="0.3" fill="#111" opacity="0.7"/>
<circle cx="247.41" cy="200.16" r="0.3" fill="#111" opacity="0.7"/>
<circle cx="247.16" cy="184.28" r="0.3" fill="#111" opacity="0.7"/>
<circle cx="244.93" cy="189.92" r="0.3" fill="#111" opacity="0.7"/>
<circle cx="246.09" cy="198.69" r="0.3" fill="#111" opacity="0.7"/>
<circle cx="244.39" cy="192.1" r="0.3" fill="#111" opacity="0.7"/>
<circle cx="242.52" cy="191.99" r="0.3" fill="#111" opacity="0.7"/>
<circle cx="239.96" cy="193.2" r="0.3" fill="#111" opacity="0.7"/>
<circle cx="242.92" cy="186.29" r="0.3" fill="#111" opacity="0.7"/>
<circle cx="237.51" cy="188.02" r="0.3" fill="#111" opacity="0.7"/>
<circle cx="244.98" cy="199.48" r="0.3" fill="#111" opacity="0.7"/>
<circle cx="248.69" cy="200.04" r="0.3" fill="#111" opacity="0.7"/>
<circle cx="242.27" cy="194.54" r="0.3" fill="#111" opacity="0.7"/>
<circle cx="242.87" cy="187.41" r="0.3" fill="#111" opacity="0.7"/>
<circle cx="247.85" cy="195.33" r="0.3" fill="#111" opacity="0.7"/>
<circle cx="242.61" cy="186.39" r="0.3" fill="#111" opacity="0.7"/>
<circle cx="241.09" cy="186.59" r="0.3" fill="#111" opacity="0.7"/>
<circle cx="248.8" cy="197.79" r="0.3" fill="#111" opacity="0.7"/>
<circle cx="237.75" cy="199.77" r="0.3" fill="#111" opacity="0.7"/>
<circle cx="244.93" cy="195.03" r="0.3" fill="#111" opacity="0.7"/>
<circle cx="241.88" cy="195.33" r="0.3" fill="#111" opacity="0.7"/>
<circle cx="244.02" cy="196.23" r="0.3" fill="#111" opacity="0.7"/>
<circle cx="239.34" cy="193.71" r="0.28" fill="#222" opacity="0.45"/>
<circle cx="245.74" cy="190.94" r="0.28" fill="#222" opacity="0.45"/>
<circle cx="241.37" cy="197.07" r="0.28" fill="#222" opacity="0.45"/>
<circle cx="243.28" cy="209" r="0.28" fill="#222" opacity="0.45"/>
<circle cx="242.98" cy="188.92" r="0.28" fill="#222" opacity="0.45"/>
<circle cx="247.88" cy="203.63" r="0.28" fill="#222" opacity="0.45"/>
<circle cx="241.63" cy="192.98" r="0.28" fill="#222" opacity="0.45"/>
<circle cx="240.82" cy="190.58" r="0.28" fill="#222" opacity="0.45"/>
<circle cx="244.25" cy="183.1" r="0.28" fill="#222" opacity="0.45"/>
<circle cx="241.89" cy="198.67" r="0.28" fill="#222" opacity="0.45"/>
<circle cx="243.09" cy="196.69" r="0.28" fill="#222" opacity="0.45"/>
<circle cx="247.32" cy="189.36" r="0.28" fill="#222" opacity="0.45"/>
<circle cx="236.05" cy="195.59" r="0.28" fill="#222" opacity="0.45"/>
<circle cx="243.35" cy="196.09" r="0.28" fill="#222" opacity="0.45"/>
<circle cx="246.98" cy="187.93" r="0.28" fill="#222" opacity="0.45"/>
<circle cx="240.14" cy="195.93" r="0.28" fill="#222" opacity="0.45"/>
<circle cx="244.7" cy="194.2" r="0.28" fill="#222" opacity="0.45"/>
<circle cx="242.02" cy="190.37" r="0.28" fill="#222" opacity="0.45"/>
<circle cx="249.72" cy="190.64" r="0.28" fill="#222" opacity="0.45"/>
<circle cx="240.73" cy="184.33" r="0.28" fill="#222" opacity="0.45"/>
<circle cx="241.67" cy="188.43" r="0.28" fill="#222" opacity="0.45"/>
<circle cx="243.06" cy="176.57" r="0.28" fill="#222" opacity="0.45"/>
<circle cx="241.04" cy="190.87" r="0.28" fill="#222" opacity="0.45"/>
<circle cx="235.3" cy="192.89" r="0.28" fill="#222" opacity="0.45"/>
<circle cx="244.4" cy="187.59" r="0.28" fill="#222" opacity="0.45"/>
<circle cx="240.15" cy="188.63" r="0.28" fill="#222" opacity="0.45"/>
<circle cx="245.39" cy="190.84" r="0.28" fill="#222" opacity="0.45"/>
<circle cx="242.97" cy="204.07" r="0.28" fill="#222" opacity="0.45"/>
<circle cx="238.47" cy="186.03" r="0.28" fill="#222" opacity="0.45"/>
<circle cx="242.3" cy="198.71" r="0.28" fill="#222" opacity="0.45"/>
<circle cx="243.86" cy="184.49" r="0.28" fill="#222" opacity="0.45"/>
<circle cx="245.7" cy="195.34" r="0.28" fill="#222" opacity="0.45"/>
<circle cx="238.2" cy="205.61" r="0.28" fill="#222" opacity="0.45"/>
<circle cx="240.78" cy="193.26" r="0.28" fill="#222" opacity="0.45"/>
<circle cx="246.69" cy="198.56" r="0.28" fill="#222" opacity="0.45"/>
<circle cx="241.77" cy="189.82" r="0.28" fill="#222" opacity="0.45"/>
<circle cx="238.67" cy="189.95" r="0.28" fill="#222" opacity="0.45"/>
<circle cx="239.22" cy="183" r="0.28" fill="#222" opacity="0.45"/>
<circle cx="238.68" cy="180.76" r="0.28" fill="#222" opacity="0.45"/>
<circle cx="242.18" cy="200.73" r="0.28" fill="#222" opacity="0.45"/>
<circle cx="240.31" cy="188.55" r="0.28" fill="#222" opacity="0.45"/>
<circle cx="244.43" cy="186.78" r="0.28" fill="#222" opacity="0.45"/>
<circle cx="240.42" cy="188.68" r="0.28" fill="#222" opacity="0.45"/>
<circle cx="247.77" cy="184.08" r="0.28" fill="#222" opacity="0.45"/>
<circle cx="238.23" cy="196.56" r="0.28" fill="#222" opacity="0.45"/>
<circle cx="240.17" cy="197.22" r="0.28" fill="#222" opacity="0.45"/>
<circle cx="240.9" cy="189.34" r="0.28" fill="#222" opacity="0.45"/>
<circle cx="244.15" cy="191.58" r="0.28" fill="#222" opacity="0.45"/>
<circle cx="235.92" cy="198.21" r="0.28" fill="#222" opacity="0.45"/>
<circle cx="245.75" cy="190.56" r="0.28" fill="#222" opacity="0.45"/>
<circle cx="243.99" cy="196.16" r="0.28" fill="#222" opacity="0.45"/>
<circle cx="237.65" cy="182.5" r="0.28" fill="#222" opacity="0.45"/>
<circle cx="244.03" cy="198.1" r="0.28" fill="#222" opacity="0.45"/>
<circle cx="240.51" cy="193.31" r="0.28" fill="#222" opacity="0.45"/>
<circle cx="240.73" cy="198.16" r="0.28" fill="#222" opacity="0.45"/>
<circle cx="243.16" cy="187.9" r="0.28" fill="#222" opacity="0.45"/>
<circle cx="246.05" cy="190.95" r="0.28" fill="#222" opacity="0.45"/>
<circle cx="247.89" cy="190.81" r="0.28" fill="#222" opacity="0.45"/>
<circle cx="243.66" cy="203.79" r="0.28" fill="#222" opacity="0.45"/>
<circle cx="240.11" cy="195.22" r="0.28" fill="#222" opacity="0.45"/>
<circle cx="244.31" cy="194.4" r="0.28" fill="#222" opacity="0.45"/>
<circle cx="245.45" cy="205.07" r="0.28" fill="#222" opacity="0.45"/>
<circle cx="242.46" cy="191.93" r="0.28" fill="#222" opacity="0.45"/>
<circle cx="244.05" cy="183.04" r="0.28" fill="#222" opacity="0.45"/>
<circle cx="243.57" cy="192.13" r="0.28" fill="#222" opacity="0.45"/>
<circle cx="244.22" cy="186.68" r="0.28" fill="#222" opacity="0.45"/>
<circle cx="242.28" cy="200.16" r="0.28" fill="#222" opacity="0.45"/>
<circle cx="239.79" cy="206.7" r="0.28" fill="#222" opacity="0.45"/>
<circle cx="242.05" cy="189.43" r="0.28" fill="#222" opacity="0.45"/>
<circle cx="241.5" cy="194.19" r="0.28" fill="#222" opacity="0.45"/>
<circle cx="242.29" cy="189.74" r="0.28" fill="#222" opacity="0.45"/>
<circle cx="244.61" cy="199.61" r="0.28" fill="#222" opacity="0.45"/>
<circle cx="251.06" cy="206.28" r="0.28" fill="#222" opacity="0.45"/>
<circle cx="239.59" cy="178.51" r="0.28" fill="#222" opacity="0.45"/>
<circle cx="241.35" cy="205.49" r="0.28" fill="#222" opacity="0.45"/>
<circle cx="239.93" cy="187.69" r="0.28" fill="#222" opacity="0.45"/>
<circle cx="238.11" cy="194.99" r="0.28" fill="#222" opacity="0.45"/>
<circle cx="246.09" cy="198.17" r="0.28" fill="#222" opacity="0.45"/>
<circle cx="244.79" cy="185.07" r="0.28" fill="#222" opacity="0.45"/>
<circle cx="238.04" cy="190.3" r="0.28" fill="#222" opacity="0.45"/>
<circle cx="240.4" cy="180.7" r="0.28" fill="#222" opacity="0.45"/>
<circle cx="241.55" cy="194.54" r="0.28" fill="#222" opacity="0.45"/>
<circle cx="243.59" cy="194.47" r="0.28" fill="#222" opacity="0.45"/>
<circle cx="249.64" cy="203.38" r="0.28" fill="#222" opacity="0.45"/>
<circle cx="246" cy="189.97" r="0.28" fill="#222" opacity="0.45"/>
<circle cx="243.69" cy="183.31" r="0.28" fill="#222" opacity="0.45"/>
<circle cx="248.26" cy="190.54" r="0.28" fill="#222" opacity="0.45"/>
<circle cx="248.19" cy="185.69" r="0.28" fill="#222" opacity="0.45"/>
<circle cx="242.66" cy="193.12" r="0.28" fill="#222" opacity="0.45"/>
<circle cx="242.38" cy="189.75" r="0.28" fill="#222" opacity="0.45"/>
<circle cx="241.99" cy="195.18" r="0.28" fill="#222" opacity="0.45"/>
<circle cx="248.24" cy="191.58" r="0.28" fill="#222" opacity="0.45"/>
<circle cx="240.24" cy="183.39" r="0.28" fill="#222" opacity="0.45"/>
<circle cx="244.82" cy="185.02" r="0.28" fill="#222" opacity="0.45"/>
<circle cx="246.21" cy="195.48" r="0.28" fill="#222" opacity="0.45"/>
<circle cx="247.6" cy="192.47" r="0.28" fill="#222" opacity="0.45"/>
<circle cx="243.88" cy="196.28" r="0.28" fill="#222" opacity="0.45"/>
<circle cx="246.54" cy="196.07" r="0.28" fill="#222" opacity="0.45"/>
<circle cx="242.68" cy="192.48" r="0.28" fill="#222" opacity="0.45"/>
<circle cx="242.31" cy="207.58" r="0.28" fill="#222" opacity="0.45"/>
<circle cx="244.09" cy="189.7" r="0.28" fill="#222" opacity="0.45"/>
<circle cx="234.99" cy="202.7" r="0.28" fill="#222" opacity="0.45"/>
<circle cx="247.64" cy="198.64" r="0.28" fill="#222" opacity="0.45"/>
<circle cx="235.95" cy="200.51" r="0.28" fill="#222" opacity="0.45"/>
<circle cx="244.37" cy="194" r="0.28" fill="#222" opacity="0.45"/>
<circle cx="244.79" cy="195.86" r="0.28" fill="#222" opacity="0.45"/>
<circle cx="238.68" cy="206.67" r="0.28" fill="#222" opacity="0.45"/>
<circle cx="243.07" cy="189.03" r="0.28" fill="#222" opacity="0.45"/>
<circle cx="244.7" cy="189.56" r="0.28" fill="#222" opacity="0.45"/>
<circle cx="238.7" cy="185.68" r="0.28" fill="#222" opacity="0.45"/>
<circle cx="239.42" cy="194.35" r="0.28" fill="#222" opacity="0.45"/>
<circle cx="243.76" cy="184.67" r="0.28" fill="#222" opacity="0.45"/>
<circle cx="245.37" cy="187.18" r="0.28" fill="#222" opacity="0.45"/>
<circle cx="238.17" cy="188.2" r="0.28" fill="#222" opacity="0.45"/>
<circle cx="246.47" cy="188.4" r="0.28" fill="#222" opacity="0.45"/>
<circle cx="243.57" cy="194.44" r="0.28" fill="#222" opacity="0.45"/>
<circle cx="244.77" cy="187.49" r="0.28" fill="#222" opacity="0.45"/>
<circle cx="243.06" cy="196.07" r="0.28" fill="#222" opacity="0.45"/>
<circle cx="246.24" cy="176.57" r="0.28" fill="#222" opacity="0.45"/>
<circle cx="242.12" cy="194" r="0.28" fill="#222" opacity="0.45"/>
<circle cx="245.6" cy="189.99" r="0.28" fill="#222" opacity="0.45"/>
<circle cx="244.41" cy="191.43" r="0.28" fill="#222" opacity="0.45"/>
<circle cx="239.51" cy="180.59" r="0.28" fill="#222" opacity="0.45"/>
<circle cx="244.15" cy="189.47" r="0.28" fill="#222" opacity="0.45"/>
<circle cx="243.14" cy="194.06" r="0.28" fill="#222" opacity="0.45"/>
<circle cx="240.49" cy="193.54" r="0.28" fill="#222" opacity="0.45"/>
<circle cx="237.22" cy="190.78" r="0.28" fill="#222" opacity="0.45"/>
<circle cx="243.84" cy="197.31" r="0.28" fill="#222" opacity="0.45"/>
<circle cx="247.82" cy="187.74" r="0.28" fill="#222" opacity="0.45"/>
<circle cx="240.09" cy="192.46" r="0.28" fill="#222" opacity="0.45"/>
<circle cx="243.69" cy="186.11" r="0.28" fill="#222" opacity="0.45"/>
<circle cx="243.81" cy="179.54" r="0.28" fill="#222" opacity="0.45"/>
<circle cx="248.62" cy="191.97" r="0.28" fill="#222" opacity="0.45"/>
<circle cx="240.71" cy="202.15" r="0.28" fill="#222" opacity="0.45"/>
<circle cx="247.5" cy="188.39" r="0.28" fill="#222" opacity="0.45"/>
<circle cx="248.31" cy="197.25" r="0.28" fill="#222" opacity="0.45"/>
<circle cx="244.68" cy="197.73" r="0.28" fill="#222" opacity="0.45"/>
<circle cx="244.98" cy="179.24" r="0.28" fill="#222" opacity="0.45"/>
<circle cx="240.84" cy="190.81" r="0.28" fill="#222" opacity="0.45"/>
<circle cx="238.96" cy="205.35" r="0.28" fill="#222" opacity="0.45"/>
<circle cx="242.74" cy="190.52" r="0.28" fill="#222" opacity="0.45"/>
<circle cx="245.4" cy="191.58" r="0.28" fill="#222" opacity="0.45"/>
<circle cx="246.54" cy="176.94" r="0.28" fill="#222" opacity="0.45"/>
<circle cx="239.47" cy="181.22" r="0.28" fill="#222" opacity="0.45"/>
<circle cx="243.84" cy="198.21" r="0.28" fill="#222" opacity="0.45"/>
<circle cx="239.9" cy="192.18" r="0.28" fill="#222" opacity="0.45"/>
<circle cx="243.94" cy="193.39" r="0.28" fill="#222" opacity="0.45"/>
<circle cx="243.84" cy="200.54" r="0.28" fill="#222" opacity="0.45"/>
<circle cx="241.87" cy="185.55" r="0.28" fill="#222" opacity="0.45"/>
<circle cx="241.75" cy="187.14" r="0.28" fill="#222" opacity="0.45"/>
<circle cx="243.31" cy="204.47" r="0.28" fill="#222" opacity="0.45"/>
<circle cx="245.99" cy="188.41" r="0.28" fill="#222" opacity="0.45"/>
<circle cx="244.56" cy="188.61" r="0.28" fill="#222" opacity="0.45"/>
<circle cx="243.66" cy="199.12" r="0.28" fill="#222" opacity="0.45"/>
<circle cx="244.31" cy="191.87" r="0.28" fill="#222" opacity="0.45"/>
<circle cx="243.48" cy="201.66" r="0.28" fill="#222" opacity="0.45"/>
<circle cx="243.61" cy="208.7" r="0.28" fill="#222" opacity="0.45"/>
<circle cx="245.47" cy="187.67" r="0.28" fill="#222" opacity="0.45"/>
<circle cx="242.69" cy="191.32" r="0.28" fill="#222" opacity="0.45"/>
<circle cx="246.14" cy="203.86" r="0.28" fill="#222" opacity="0.45"/>
<circle cx="241.5" cy="184.58" r="0.28" fill="#222" opacity="0.45"/>
<circle cx="247.24" cy="185.86" r="0.28" fill="#222" opacity="0.45"/>
<circle cx="242.69" cy="179.35" r="0.28" fill="#222" opacity="0.45"/>
<circle cx="236.98" cy="201.36" r="0.28" fill="#222" opacity="0.45"/>
<circle cx="238.06" cy="191.26" r="0.28" fill="#222" opacity="0.45"/>
<circle cx="243.74" cy="183.77" r="0.28" fill="#222" opacity="0.45"/>
<circle cx="240.94" cy="184.74" r="0.28" fill="#222" opacity="0.45"/>
<circle cx="237.06" cy="199.4" r="0.28" fill="#222" opacity="0.45"/>
<circle cx="244.52" cy="205.18" r="0.28" fill="#222" opacity="0.45"/>
<circle cx="239.92" cy="185.25" r="0.28" fill="#222" opacity="0.45"/>
<circle cx="242.24" cy="195.06" r="0.28" fill="#222" opacity="0.45"/>
<circle cx="243.28" cy="185.62" r="0.28" fill="#222" opacity="0.45"/>
<circle cx="242.19" cy="197.38" r="0.28" fill="#222" opacity="0.45"/>
<circle cx="242.11" cy="189.03" r="0.28" fill="#222" opacity="0.45"/>
<circle cx="239.09" cy="193.22" r="0.28" fill="#222" opacity="0.45"/>
<circle cx="240.07" cy="192.4" r="0.28" fill="#222" opacity="0.45"/>
<circle cx="242.55" cy="193.68" r="0.28" fill="#222" opacity="0.45"/>
<circle cx="247.94" cy="194.99" r="0.28" fill="#222" opacity="0.45"/>
<circle cx="238.98" cy="202.66" r="0.28" fill="#222" opacity="0.45"/>
<circle cx="244.1" cy="192.5" r="0.28" fill="#222" opacity="0.45"/>
<circle cx="237.78" cy="189.85" r="0.28" fill="#222" opacity="0.45"/>
<circle cx="245.58" cy="209.71" r="0.28" fill="#222" opacity="0.45"/>
<circle cx="242.65" cy="191.02" r="0.28" fill="#222" opacity="0.45"/>
<circle cx="243.17" cy="186.06" r="0.28" fill="#222" opacity="0.45"/>
<circle cx="246.86" cy="205.7" r="0.28" fill="#222" opacity="0.45"/>
<circle cx="242.14" cy="196.63" r="0.28" fill="#222" opacity="0.45"/>
<circle cx="243.66" cy="187.2" r="0.28" fill="#222" opacity="0.45"/>
<circle cx="241.44" cy="191.26" r="0.28" fill="#222" opacity="0.45"/>
<circle cx="245.65" cy="189.04" r="0.28" fill="#222" opacity="0.45"/>
<circle cx="243.38" cy="184.89" r="0.28" fill="#222" opacity="0.45"/>
<circle cx="238.49" cy="177.95" r="0.28" fill="#222" opacity="0.45"/>
<circle cx="239.89" cy="208.26" r="0.28" fill="#222" opacity="0.45"/>
<circle cx="240.77" cy="195.64" r="0.28" fill="#222" opacity="0.45"/>
<circle cx="246.35" cy="193.3" r="0.28" fill="#222" opacity="0.45"/>
<circle cx="239.38" cy="186.47" r="0.28" fill="#222" opacity="0.45"/>
<circle cx="250.84" cy="179.03" r="0.28" fill="#222" opacity="0.45"/>
<circle cx="243.39" cy="192.42" r="0.28" fill="#222" opacity="0.45"/>
<circle cx="243.98" cy="197.44" r="0.28" fill="#222" opacity="0.45"/>
<circle cx="236.71" cy="191.23" r="0.28" fill="#222" opacity="0.45"/>
<circle cx="243.41" cy="198.47" r="0.28" fill="#222" opacity="0.45"/>
<circle cx="248.42" cy="193.65" r="0.28" fill="#222" opacity="0.45"/>
<circle cx="241.3" cy="197.82" r="0.28" fill="#222" opacity="0.45"/>
<circle cx="247.81" cy="209.08" r="0.28" fill="#222" opacity="0.45"/>
<circle cx="241.89" cy="205.03" r="0.28" fill="#222" opacity="0.45"/>
<circle cx="243.71" cy="180.43" r="0.28" fill="#222" opacity="0.45"/>
<circle cx="239" cy="194" r="0.28" fill="#222" opacity="0.45"/>
<circle cx="246.67" cy="191.75" r="0.28" fill="#222" opacity="0.45"/>
<circle cx="240.39" cy="189.43" r="0.28" fill="#222" opacity="0.45"/>
<circle cx="241.42" cy="190.22" r="0.28" fill="#222" opacity="0.45"/>
<circle cx="242.4" cy="198.22" r="0.28" fill="#222" opacity="0.45"/>
<circle cx="250.84" cy="195.9" r="0.28" fill="#222" opacity="0.45"/>
<circle cx="240.55" cy="209.68" r="0.28" fill="#222" opacity="0.45"/>
<circle cx="237.57" cy="201.11" r="0.28" fill="#222" opacity="0.45"/>
<circle cx="239.07" cy="197.3" r="0.28" fill="#222" opacity="0.45"/>
<circle cx="245.14" cy="204.16" r="0.28" fill="#222" opacity="0.45"/>
<circle cx="237.56" cy="200.54" r="0.28" fill="#222" opacity="0.45"/>
<circle cx="243.11" cy="195.64" r="0.28" fill="#222" opacity="0.45"/>
<circle cx="239.13" cy="191.92" r="0.28" fill="#222" opacity="0.45"/>
<circle cx="238.26" cy="178.41" r="0.28" fill="#222" opacity="0.45"/>
<circle cx="240.3" cy="196.78" r="0.28" fill="#222" opacity="0.45"/>
<circle cx="239.72" cy="182.8" r="0.28" fill="#222" opacity="0.45"/>
<circle cx="249.05" cy="201.13" r="0.28" fill="#222" opacity="0.45"/>
<circle cx="241.85" cy="199.83" r="0.28" fill="#222" opacity="0.45"/>
<circle cx="240.69" cy="179.32" r="0.28" fill="#222" opacity="0.45"/>
<circle cx="238.19" cy="194.23" r="0.28" fill="#222" opacity="0.45"/>
<circle cx="241.33" cy="196.51" r="0.28" fill="#222" opacity="0.45"/>
<circle cx="246.02" cy="191.9" r="0.28" fill="#222" opacity="0.45"/>
<circle cx="242.87" cy="193.18" r="0.28" fill="#222" opacity="0.45"/>
<circle cx="243.39" cy="198.52" r="0.28" fill="#222" opacity="0.45"/>
<circle cx="240.41" cy="200.85" r="0.28" fill="#222" opacity="0.45"/>
<circle cx="242.51" cy="176.98" r="0.28" fill="#222" opacity="0.45"/>
<circle cx="245.75" cy="191.59" r="0.28" fill="#222" opacity="0.45"/>
<circle cx="242.3" cy="185.2" r="0.28" fill="#222" opacity="0.45"/>
<circle cx="241.03" cy="182.45" r="0.28" fill="#222" opacity="0.45"/>
<circle cx="247.06" cy="198.56" r="0.28" fill="#222" opacity="0.45"/>
<line x1="242.8" y1="184" x2="242.8" y2="189.8" stroke="#222" stroke-width="0.35"/>
<line x1="242.8" y1="197.3" x2="242.8" y2="203" stroke="#222" stroke-width="0.35"/>
<rect x="241.6" y="189.8" width="2.4" height="7.5" fill="#10E0E8" stroke="#222" stroke-width="0.35"/>
<line x1="241.6" y1="193.55" x2="244" y2="193.55" stroke="#222" stroke-width="0.4"/>
<text x="203.3" y="190" text-anchor="middle" transform="rotate(-90 203.3 190)">Activity score</text>
<text x="233.4" y="222" text-anchor="end" transform="rotate(-45 233.4 222)">sgNTC</text>
<text x="247" y="222" text-anchor="end" transform="rotate(-45 247 222)">sg<tspan font-style="italic">Vdac2</tspan></text>
<text x="271.6" y="144.3" font-weight="bold" font-size="10.5" fill="#000" stroke="#000" stroke-width="0.3">h</text>
<clipPath id="cp283"><rect x="283.4" y="162.3" width="52.2" height="52.1"/></clipPath>
<g clip-path="url(#cp283)"><g filter="url(#bl3)">
<rect x="316.2" y="175.7" width="2" height="1.05" fill="#1010ff"/>
<rect x="318.2" y="175.7" width="1" height="1.05" fill="#0b2aff"/>
<rect x="319.2" y="175.7" width="1" height="1.05" fill="#1010ff"/>
<rect x="313.2" y="176.7" width="2" height="1.05" fill="#0b2aff"/>
<rect x="315.2" y="176.7" width="2" height="1.05" fill="#0744ff"/>
<rect x="317.2" y="176.7" width="2" height="1.05" fill="#025eff"/>
<rect x="319.2" y="176.7" width="1" height="1.05" fill="#0744ff"/>
<rect x="310.2" y="177.7" width="1" height="1.05" fill="#1010ff"/>
<rect x="311.2" y="177.7" width="1" height="1.05" fill="#0b2aff"/>
<rect x="312.2" y="177.7" width="1" height="1.05" fill="#0744ff"/>
<rect x="313.2" y="177.7" width="2" height="1.05" fill="#025eff"/>
<rect x="315.2" y="177.7" width="1" height="1.05" fill="#007cff"/>
<rect x="316.2" y="177.7" width="3" height="1.05" fill="#00a0ff"/>
<rect x="319.2" y="177.7" width="1" height="1.05" fill="#025eff"/>
<rect x="320.2" y="177.7" width="1" height="1.05" fill="#0b2aff"/>
<rect x="309.2" y="178.7" width="1" height="1.05" fill="#1010ff"/>
<rect x="310.2" y="178.7" width="1" height="1.05" fill="#0744ff"/>
<rect x="311.2" y="178.7" width="1" height="1.05" fill="#025eff"/>
<rect x="312.2" y="178.7" width="1" height="1.05" fill="#007cff"/>
<rect x="313.2" y="178.7" width="1" height="1.05" fill="#00a0ff"/>
<rect x="314.2" y="178.7" width="2" height="1.05" fill="#00c3ff"/>
<rect x="316.2" y="178.7" width="1" height="1.05" fill="#09d8f2"/>
<rect x="317.2" y="178.7" width="1" height="1.05" fill="#18e4dd"/>
<rect x="318.2" y="178.7" width="1" height="1.05" fill="#00c3ff"/>
<rect x="319.2" y="178.7" width="1" height="1.05" fill="#007cff"/>
<rect x="320.2" y="178.7" width="1" height="1.05" fill="#0744ff"/>
<rect x="308.2" y="179.7" width="1" height="1.05" fill="#0b2aff"/>
<rect x="309.2" y="179.7" width="1" height="1.05" fill="#0744ff"/>
<rect x="310.2" y="179.7" width="1" height="1.05" fill="#007cff"/>
<rect x="311.2" y="179.7" width="1" height="1.05" fill="#00a0ff"/>
<rect x="312.2" y="179.7" width="1" height="1.05" fill="#00c3ff"/>
<rect x="313.2" y="179.7" width="1" height="1.05" fill="#09d8f2"/>
<rect x="314.2" y="179.7" width="1" height="1.05" fill="#18e4dd"/>
<rect x="315.2" y="179.7" width="3" height="1.05" fill="#28f0c8"/>
<rect x="318.2" y="179.7" width="1" height="1.05" fill="#09d8f2"/>
<rect x="319.2" y="179.7" width="1" height="1.05" fill="#00a0ff"/>
<rect x="320.2" y="179.7" width="1" height="1.05" fill="#0744ff"/>
<rect x="308.2" y="180.7" width="1" height="1.05" fill="#0744ff"/>
<rect x="309.2" y="180.7" width="1" height="1.05" fill="#007cff"/>
<rect x="310.2" y="180.7" width="1" height="1.05" fill="#00a0ff"/>
<rect x="311.2" y="180.7" width="1" height="1.05" fill="#09d8f2"/>
<rect x="312.2" y="180.7" width="1" height="1.05" fill="#18e4dd"/>
<rect x="313.2" y="180.7" width="3" height="1.05" fill="#28f0c8"/>
<rect x="316.2" y="180.7" width="2" height="1.05" fill="#31ed88"/>
<rect x="318.2" y="180.7" width="1" height="1.05" fill="#18e4dd"/>
<rect x="319.2" y="180.7" width="1" height="1.05" fill="#00a0ff"/>
<rect x="320.2" y="180.7" width="1" height="1.05" fill="#025eff"/>
<rect x="321.2" y="180.7" width="1" height="1.05" fill="#1010ff"/>
<rect x="307.2" y="181.7" width="1" height="1.05" fill="#0b2aff"/>
<rect x="308.2" y="181.7" width="1" height="1.05" fill="#025eff"/>
<rect x="309.2" y="181.7" width="1" height="1.05" fill="#00a0ff"/>
<rect x="310.2" y="181.7" width="1" height="1.05" fill="#09d8f2"/>
<rect x="311.2" y="181.7" width="4" height="1.05" fill="#28f0c8"/>
<rect x="315.2" y="181.7" width="2" height="1.05" fill="#31ed88"/>
<rect x="317.2" y="181.7" width="1" height="1.05" fill="#3aeb48"/>
<rect x="318.2" y="181.7" width="1" height="1.05" fill="#28f0c8"/>
<rect x="319.2" y="181.7" width="1" height="1.05" fill="#00c3ff"/>
<rect x="320.2" y="181.7" width="1" height="1.05" fill="#025eff"/>
<rect x="321.2" y="181.7" width="1" height="1.05" fill="#1010ff"/>
<rect x="307.2" y="182.7" width="1" height="1.05" fill="#0744ff"/>
<rect x="308.2" y="182.7" width="1" height="1.05" fill="#007cff"/>
<rect x="309.2" y="182.7" width="1" height="1.05" fill="#09d8f2"/>
<rect x="310.2" y="182.7" width="4" height="1.05" fill="#28f0c8"/>
<rect x="314.2" y="182.7" width="2" height="1.05" fill="#31ed88"/>
<rect x="316.2" y="182.7" width="2" height="1.05" fill="#3aeb48"/>
<rect x="318.2" y="182.7" width="1" height="1.05" fill="#28f0c8"/>
<rect x="319.2" y="182.7" width="1" height="1.05" fill="#00c3ff"/>
<rect x="320.2" y="182.7" width="1" height="1.05" fill="#025eff"/>
<rect x="321.2" y="182.7" width="1" height="1.05" fill="#0b2aff"/>
<rect x="306.2" y="183.7" width="1" height="1.05" fill="#0b2aff"/>
<rect x="307.2" y="183.7" width="1" height="1.05" fill="#025eff"/>
<rect x="308.2" y="183.7" width="1" height="1.05" fill="#00c3ff"/>
<rect x="309.2" y="183.7" width="1" height="1.05" fill="#18e4dd"/>
<rect x="310.2" y="183.7" width="2" height="1.05" fill="#31ed88"/>
<rect x="312.2" y="183.7" width="1" height="1.05" fill="#28f0c8"/>
<rect x="313.2" y="183.7" width="2" height="1.05" fill="#31ed88"/>
<rect x="315.2" y="183.7" width="3" height="1.05" fill="#3aeb48"/>
<rect x="318.2" y="183.7" width="1" height="1.05" fill="#28f0c8"/>
<rect x="319.2" y="183.7" width="1" height="1.05" fill="#00c3ff"/>
<rect x="320.2" y="183.7" width="1" height="1.05" fill="#007cff"/>
<rect x="321.2" y="183.7" width="1" height="1.05" fill="#0b2aff"/>
<rect x="297.2" y="184.7" width="1" height="1.05" fill="#1010ff"/>
<rect x="298.2" y="184.7" width="2" height="1.05" fill="#0b2aff"/>
<rect x="300.2" y="184.7" width="2" height="1.05" fill="#0744ff"/>
<rect x="302.2" y="184.7" width="1" height="1.05" fill="#0b2aff"/>
<rect x="305.2" y="184.7" width="1" height="1.05" fill="#0b2aff"/>
<rect x="306.2" y="184.7" width="1" height="1.05" fill="#025eff"/>
<rect x="307.2" y="184.7" width="1" height="1.05" fill="#00a0ff"/>
<rect x="308.2" y="184.7" width="1" height="1.05" fill="#09d8f2"/>
<rect x="309.2" y="184.7" width="6" height="1.05" fill="#31ed88"/>
<rect x="315.2" y="184.7" width="3" height="1.05" fill="#3aeb48"/>
<rect x="318.2" y="184.7" width="1" height="1.05" fill="#31ed88"/>
<rect x="319.2" y="184.7" width="1" height="1.05" fill="#09d8f2"/>
<rect x="320.2" y="184.7" width="1" height="1.05" fill="#007cff"/>
<rect x="321.2" y="184.7" width="1" height="1.05" fill="#0b2aff"/>
<rect x="297.2" y="185.7" width="1" height="1.05" fill="#0744ff"/>
<rect x="298.2" y="185.7" width="1" height="1.05" fill="#025eff"/>
<rect x="299.2" y="185.7" width="3" height="1.05" fill="#007cff"/>
<rect x="302.2" y="185.7" width="1" height="1.05" fill="#025eff"/>
<rect x="303.2" y="185.7" width="1" height="1.05" fill="#0744ff"/>
<rect x="304.2" y="185.7" width="1" height="1.05" fill="#0b2aff"/>
<rect x="305.2" y="185.7" width="1" height="1.05" fill="#025eff"/>
<rect x="306.2" y="185.7" width="1" height="1.05" fill="#00a0ff"/>
<rect x="307.2" y="185.7" width="1" height="1.05" fill="#09d8f2"/>
<rect x="308.2" y="185.7" width="1" height="1.05" fill="#28f0c8"/>
<rect x="309.2" y="185.7" width="9" height="1.05" fill="#3aeb48"/>
<rect x="318.2" y="185.7" width="1" height="1.05" fill="#28f0c8"/>
<rect x="319.2" y="185.7" width="1" height="1.05" fill="#00c3ff"/>
<rect x="320.2" y="185.7" width="1" height="1.05" fill="#025eff"/>
<rect x="321.2" y="185.7" width="1" height="1.05" fill="#0b2aff"/>
<rect x="296.2" y="186.7" width="1" height="1.05" fill="#0b2aff"/>
<rect x="297.2" y="186.7" width="1" height="1.05" fill="#025eff"/>
<rect x="298.2" y="186.7" width="1" height="1.05" fill="#00a0ff"/>
<rect x="299.2" y="186.7" width="3" height="1.05" fill="#00c3ff"/>
<rect x="302.2" y="186.7" width="1" height="1.05" fill="#00a0ff"/>
<rect x="303.2" y="186.7" width="1" height="1.05" fill="#007cff"/>
<rect x="304.2" y="186.7" width="1" height="1.05" fill="#025eff"/>
<rect x="305.2" y="186.7" width="1" height="1.05" fill="#007cff"/>
<rect x="306.2" y="186.7" width="1" height="1.05" fill="#00c3ff"/>
<rect x="307.2" y="186.7" width="1" height="1.05" fill="#18e4dd"/>
<rect x="308.2" y="186.7" width="1" height="1.05" fill="#31ed88"/>
<rect x="309.2" y="186.7" width="3" height="1.05" fill="#3aeb48"/>
<rect x="312.2" y="186.7" width="5" height="1.05" fill="#6aee2e"/>
<rect x="317.2" y="186.7" width="1" height="1.05" fill="#3aeb48"/>
<rect x="318.2" y="186.7" width="1" height="1.05" fill="#28f0c8"/>
<rect x="319.2" y="186.7" width="1" height="1.05" fill="#00c3ff"/>
<rect x="320.2" y="186.7" width="1" height="1.05" fill="#025eff"/>
<rect x="321.2" y="186.7" width="1" height="1.05" fill="#0b2aff"/>
<rect x="295.2" y="187.7" width="1" height="1.05" fill="#0b2aff"/>
<rect x="296.2" y="187.7" width="1" height="1.05" fill="#025eff"/>
<rect x="297.2" y="187.7" width="1" height="1.05" fill="#007cff"/>
<rect x="298.2" y="187.7" width="1" height="1.05" fill="#00c3ff"/>
<rect x="299.2" y="187.7" width="3" height="1.05" fill="#18e4dd"/>
<rect x="302.2" y="187.7" width="1" height="1.05" fill="#09d8f2"/>
<rect x="303.2" y="187.7" width="1" height="1.05" fill="#00c3ff"/>
<rect x="304.2" y="187.7" width="1" height="1.05" fill="#00a0ff"/>
<rect x="305.2" y="187.7" width="1" height="1.05" fill="#00c3ff"/>
<rect x="306.2" y="187.7" width="1" height="1.05" fill="#18e4dd"/>
<rect x="307.2" y="187.7" width="1" height="1.05" fill="#28f0c8"/>
<rect x="308.2" y="187.7" width="2" height="1.05" fill="#31ed88"/>
<rect x="310.2" y="187.7" width="1" height="1.05" fill="#3aeb48"/>
<rect x="311.2" y="187.7" width="6" height="1.05" fill="#6aee2e"/>
<rect x="317.2" y="187.7" width="1" height="1.05" fill="#3aeb48"/>
<rect x="318.2" y="187.7" width="1" height="1.05" fill="#18e4dd"/>
<rect x="319.2" y="187.7" width="1" height="1.05" fill="#00c3ff"/>
<rect x="320.2" y="187.7" width="1" height="1.05" fill="#025eff"/>
<rect x="321.2" y="187.7" width="1" height="1.05" fill="#1010ff"/>
<rect x="295.2" y="188.7" width="1" height="1.05" fill="#0744ff"/>
<rect x="296.2" y="188.7" width="1" height="1.05" fill="#007cff"/>
<rect x="297.2" y="188.7" width="1" height="1.05" fill="#00c3ff"/>
<rect x="298.2" y="188.7" width="1" height="1.05" fill="#18e4dd"/>
<rect x="299.2" y="188.7" width="4" height="1.05" fill="#28f0c8"/>
<rect x="303.2" y="188.7" width="3" height="1.05" fill="#18e4dd"/>
<rect x="306.2" y="188.7" width="3" height="1.05" fill="#28f0c8"/>
<rect x="309.2" y="188.7" width="1" height="1.05" fill="#31ed88"/>
<rect x="310.2" y="188.7" width="2" height="1.05" fill="#3aeb48"/>
<rect x="312.2" y="188.7" width="2" height="1.05" fill="#6aee2e"/>
<rect x="314.2" y="188.7" width="1" height="1.05" fill="#a4f21e"/>
<rect x="315.2" y="188.7" width="2" height="1.05" fill="#6aee2e"/>
<rect x="317.2" y="188.7" width="1" height="1.05" fill="#3aeb48"/>
<rect x="318.2" y="188.7" width="1" height="1.05" fill="#18e4dd"/>
<rect x="319.2" y="188.7" width="1" height="1.05" fill="#00a0ff"/>
<rect x="320.2" y="188.7" width="1" height="1.05" fill="#025eff"/>
<rect x="294.2" y="189.7" width="1" height="1.05" fill="#0b2aff"/>
<rect x="295.2" y="189.7" width="1" height="1.05" fill="#025eff"/>
<rect x="296.2" y="189.7" width="1" height="1.05" fill="#00c3ff"/>
<rect x="297.2" y="189.7" width="1" height="1.05" fill="#18e4dd"/>
<rect x="298.2" y="189.7" width="1" height="1.05" fill="#31ed88"/>
<rect x="299.2" y="189.7" width="10" height="1.05" fill="#28f0c8"/>
<rect x="309.2" y="189.7" width="2" height="1.05" fill="#31ed88"/>
<rect x="311.2" y="189.7" width="1" height="1.05" fill="#3aeb48"/>
<rect x="312.2" y="189.7" width="4" height="1.05" fill="#6aee2e"/>
<rect x="316.2" y="189.7" width="2" height="1.05" fill="#3aeb48"/>
<rect x="318.2" y="189.7" width="1" height="1.05" fill="#18e4dd"/>
<rect x="319.2" y="189.7" width="1" height="1.05" fill="#00a0ff"/>
<rect x="320.2" y="189.7" width="1" height="1.05" fill="#0744ff"/>
<rect x="294.2" y="190.7" width="1" height="1.05" fill="#0744ff"/>
<rect x="295.2" y="190.7" width="1" height="1.05" fill="#007cff"/>
<rect x="296.2" y="190.7" width="1" height="1.05" fill="#09d8f2"/>
<rect x="297.2" y="190.7" width="3" height="1.05" fill="#31ed88"/>
<rect x="300.2" y="190.7" width="9" height="1.05" fill="#28f0c8"/>
<rect x="309.2" y="190.7" width="2" height="1.05" fill="#31ed88"/>
<rect x="311.2" y="190.7" width="6" height="1.05" fill="#3aeb48"/>
<rect x="317.2" y="190.7" width="1" height="1.05" fill="#31ed88"/>
<rect x="318.2" y="190.7" width="1" height="1.05" fill="#18e4dd"/>
<rect x="319.2" y="190.7" width="1" height="1.05" fill="#00a0ff"/>
<rect x="320.2" y="190.7" width="1" height="1.05" fill="#025eff"/>
<rect x="321.2" y="190.7" width="1" height="1.05" fill="#1010ff"/>
<rect x="294.2" y="191.7" width="1" height="1.05" fill="#025eff"/>
<rect x="295.2" y="191.7" width="1" height="1.05" fill="#00c3ff"/>
<rect x="296.2" y="191.7" width="1" height="1.05" fill="#28f0c8"/>
<rect x="297.2" y="191.7" width="2" height="1.05" fill="#6aee2e"/>
<rect x="299.2" y="191.7" width="1" height="1.05" fill="#3aeb48"/>
<rect x="300.2" y="191.7" width="1" height="1.05" fill="#31ed88"/>
<rect x="301.2" y="191.7" width="7" height="1.05" fill="#28f0c8"/>
<rect x="308.2" y="191.7" width="4" height="1.05" fill="#31ed88"/>
<rect x="312.2" y="191.7" width="4" height="1.05" fill="#3aeb48"/>
<rect x="316.2" y="191.7" width="2" height="1.05" fill="#31ed88"/>
<rect x="318.2" y="191.7" width="1" height="1.05" fill="#18e4dd"/>
<rect x="319.2" y="191.7" width="1" height="1.05" fill="#00c3ff"/>
<rect x="320.2" y="191.7" width="1" height="1.05" fill="#025eff"/>
<rect x="321.2" y="191.7" width="1" height="1.05" fill="#0b2aff"/>
<rect x="293.2" y="192.7" width="1" height="1.05" fill="#0b2aff"/>
<rect x="294.2" y="192.7" width="1" height="1.05" fill="#007cff"/>
<rect x="295.2" y="192.7" width="1" height="1.05" fill="#18e4dd"/>
<rect x="296.2" y="192.7" width="1" height="1.05" fill="#6aee2e"/>
<rect x="297.2" y="192.7" width="2" height="1.05" fill="#d1e810"/>
<rect x="299.2" y="192.7" width="1" height="1.05" fill="#6aee2e"/>
<rect x="300.2" y="192.7" width="1" height="1.05" fill="#3aeb48"/>
<rect x="301.2" y="192.7" width="10" height="1.05" fill="#31ed88"/>
<rect x="311.2" y="192.7" width="5" height="1.05" fill="#3aeb48"/>
<rect x="316.2" y="192.7" width="2" height="1.05" fill="#31ed88"/>
<rect x="318.2" y="192.7" width="1" height="1.05" fill="#28f0c8"/>
<rect x="319.2" y="192.7" width="1" height="1.05" fill="#00c3ff"/>
<rect x="320.2" y="192.7" width="1" height="1.05" fill="#007cff"/>
<rect x="321.2" y="192.7" width="1" height="1.05" fill="#0744ff"/>
<rect x="293.2" y="193.7" width="1" height="1.05" fill="#025eff"/>
<rect x="294.2" y="193.7" width="1" height="1.05" fill="#00c3ff"/>
<rect x="295.2" y="193.7" width="1" height="1.05" fill="#31ed88"/>
<rect x="296.2" y="193.7" width="1" height="1.05" fill="#d1e810"/>
<rect x="297.2" y="193.7" width="2" height="1.05" fill="#ffaa00"/>
<rect x="299.2" y="193.7" width="1" height="1.05" fill="#d1e810"/>
<rect x="300.2" y="193.7" width="1" height="1.05" fill="#6aee2e"/>
<rect x="301.2" y="193.7" width="1" height="1.05" fill="#3aeb48"/>
<rect x="302.2" y="193.7" width="2" height="1.05" fill="#31ed88"/>
<rect x="304.2" y="193.7" width="6" height="1.05" fill="#3aeb48"/>
<rect x="310.2" y="193.7" width="2" height="1.05" fill="#6aee2e"/>
<rect x="312.2" y="193.7" width="2" height="1.05" fill="#a4f21e"/>
<rect x="314.2" y="193.7" width="2" height="1.05" fill="#6aee2e"/>
<rect x="316.2" y="193.7" width="2" height="1.05" fill="#3aeb48"/>
<rect x="318.2" y="193.7" width="1" height="1.05" fill="#31ed88"/>
<rect x="319.2" y="193.7" width="1" height="1.05" fill="#09d8f2"/>
<rect x="320.2" y="193.7" width="1" height="1.05" fill="#00a0ff"/>
<rect x="321.2" y="193.7" width="1" height="1.05" fill="#0744ff"/>
<rect x="292.2" y="194.7" width="1" height="1.05" fill="#0b2aff"/>
<rect x="293.2" y="194.7" width="1" height="1.05" fill="#007cff"/>
<rect x="294.2" y="194.7" width="1" height="1.05" fill="#09d8f2"/>
<rect x="295.2" y="194.7" width="1" height="1.05" fill="#6aee2e"/>
<rect x="296.2" y="194.7" width="1" height="1.05" fill="#ff7300"/>
<rect x="297.2" y="194.7" width="1" height="1.05" fill="#f71900"/>
<rect x="298.2" y="194.7" width="1" height="1.05" fill="#ff3d00"/>
<rect x="299.2" y="194.7" width="1" height="1.05" fill="#e8c908"/>
<rect x="300.2" y="194.7" width="1" height="1.05" fill="#a4f21e"/>
<rect x="301.2" y="194.7" width="3" height="1.05" fill="#3aeb48"/>
<rect x="304.2" y="194.7" width="4" height="1.05" fill="#6aee2e"/>
<rect x="308.2" y="194.7" width="2" height="1.05" fill="#a4f21e"/>
<rect x="310.2" y="194.7" width="1" height="1.05" fill="#d1e810"/>
<rect x="311.2" y="194.7" width="1" height="1.05" fill="#e8c908"/>
<rect x="312.2" y="194.7" width="3" height="1.05" fill="#ffaa00"/>
<rect x="315.2" y="194.7" width="1" height="1.05" fill="#e8c908"/>
<rect x="316.2" y="194.7" width="1" height="1.05" fill="#d1e810"/>
<rect x="317.2" y="194.7" width="1" height="1.05" fill="#a4f21e"/>
<rect x="318.2" y="194.7" width="1" height="1.05" fill="#3aeb48"/>
<rect x="319.2" y="194.7" width="1" height="1.05" fill="#28f0c8"/>
<rect x="320.2" y="194.7" width="1" height="1.05" fill="#00c3ff"/>
<rect x="321.2" y="194.7" width="1" height="1.05" fill="#025eff"/>
<rect x="322.2" y="194.7" width="1" height="1.05" fill="#0b2aff"/>
<rect x="292.2" y="195.7" width="1" height="1.05" fill="#0744ff"/>
<rect x="293.2" y="195.7" width="1" height="1.05" fill="#00a0ff"/>
<rect x="294.2" y="195.7" width="1" height="1.05" fill="#28f0c8"/>
<rect x="295.2" y="195.7" width="1" height="1.05" fill="#d1e810"/>
<rect x="296.2" y="195.7" width="1" height="1.05" fill="#f71900"/>
<rect x="297.2" y="195.7" width="2" height="1.05" fill="#eb0000"/>
<rect x="299.2" y="195.7" width="1" height="1.05" fill="#ff7300"/>
<rect x="300.2" y="195.7" width="1" height="1.05" fill="#d1e810"/>
<rect x="301.2" y="195.7" width="3" height="1.05" fill="#6aee2e"/>
<rect x="304.2" y="195.7" width="2" height="1.05" fill="#a4f21e"/>
<rect x="306.2" y="195.7" width="3" height="1.05" fill="#d1e810"/>
<rect x="309.2" y="195.7" width="1" height="1.05" fill="#e8c908"/>
<rect x="310.2" y="195.7" width="1" height="1.05" fill="#ff7300"/>
<rect x="311.2" y="195.7" width="1" height="1.05" fill="#ff3d00"/>
<rect x="312.2" y="195.7" width="3" height="1.05" fill="#eb0000"/>
<rect x="315.2" y="195.7" width="1" height="1.05" fill="#f71900"/>
<rect x="316.2" y="195.7" width="1" height="1.05" fill="#ff3d00"/>
<rect x="317.2" y="195.7" width="1" height="1.05" fill="#ffaa00"/>
<rect x="318.2" y="195.7" width="1" height="1.05" fill="#d1e810"/>
<rect x="319.2" y="195.7" width="1" height="1.05" fill="#31ed88"/>
<rect x="320.2" y="195.7" width="1" height="1.05" fill="#09d8f2"/>
<rect x="321.2" y="195.7" width="1" height="1.05" fill="#007cff"/>
<rect x="322.2" y="195.7" width="1" height="1.05" fill="#0b2aff"/>
<rect x="292.2" y="196.7" width="1" height="1.05" fill="#025eff"/>
<rect x="293.2" y="196.7" width="1" height="1.05" fill="#00c3ff"/>
<rect x="294.2" y="196.7" width="1" height="1.05" fill="#31ed88"/>
<rect x="295.2" y="196.7" width="1" height="1.05" fill="#ffaa00"/>
<rect x="296.2" y="196.7" width="3" height="1.05" fill="#eb0000"/>
<rect x="299.2" y="196.7" width="1" height="1.05" fill="#ff3d00"/>
<rect x="300.2" y="196.7" width="1" height="1.05" fill="#e8c908"/>
<rect x="301.2" y="196.7" width="3" height="1.05" fill="#a4f21e"/>
<rect x="304.2" y="196.7" width="1" height="1.05" fill="#d1e810"/>
<rect x="305.2" y="196.7" width="3" height="1.05" fill="#e8c908"/>
<rect x="308.2" y="196.7" width="1" height="1.05" fill="#ffaa00"/>
<rect x="309.2" y="196.7" width="1" height="1.05" fill="#ff7300"/>
<rect x="310.2" y="196.7" width="1" height="1.05" fill="#f71900"/>
<rect x="311.2" y="196.7" width="6" height="1.05" fill="#eb0000"/>
<rect x="317.2" y="196.7" width="1" height="1.05" fill="#f71900"/>
<rect x="318.2" y="196.7" width="1" height="1.05" fill="#ffaa00"/>
<rect x="319.2" y="196.7" width="1" height="1.05" fill="#6aee2e"/>
<rect x="320.2" y="196.7" width="1" height="1.05" fill="#18e4dd"/>
<rect x="321.2" y="196.7" width="1" height="1.05" fill="#007cff"/>
<rect x="322.2" y="196.7" width="1" height="1.05" fill="#0b2aff"/>
<rect x="291.2" y="197.7" width="1" height="1.05" fill="#0b2aff"/>
<rect x="292.2" y="197.7" width="1" height="1.05" fill="#007cff"/>
<rect x="293.2" y="197.7" width="1" height="1.05" fill="#09d8f2"/>
<rect x="294.2" y="197.7" width="1" height="1.05" fill="#3aeb48"/>
<rect x="295.2" y="197.7" width="1" height="1.05" fill="#ffaa00"/>
<rect x="296.2" y="197.7" width="3" height="1.05" fill="#eb0000"/>
<rect x="299.2" y="197.7" width="1" height="1.05" fill="#ff3d00"/>
<rect x="300.2" y="197.7" width="1" height="1.05" fill="#e8c908"/>
<rect x="301.2" y="197.7" width="2" height="1.05" fill="#a4f21e"/>
<rect x="303.2" y="197.7" width="1" height="1.05" fill="#d1e810"/>
<rect x="304.2" y="197.7" width="3" height="1.05" fill="#e8c908"/>
<rect x="307.2" y="197.7" width="2" height="1.05" fill="#ffaa00"/>
<rect x="309.2" y="197.7" width="1" height="1.05" fill="#ff7300"/>
<rect x="310.2" y="197.7" width="1" height="1.05" fill="#f71900"/>
<rect x="311.2" y="197.7" width="7" height="1.05" fill="#eb0000"/>
<rect x="318.2" y="197.7" width="1" height="1.05" fill="#ff3d00"/>
<rect x="319.2" y="197.7" width="1" height="1.05" fill="#a4f21e"/>
<rect x="320.2" y="197.7" width="1" height="1.05" fill="#18e4dd"/>
<rect x="321.2" y="197.7" width="1" height="1.05" fill="#00a0ff"/>
<rect x="322.2" y="197.7" width="1" height="1.05" fill="#0744ff"/>
<rect x="291.2" y="198.7" width="1" height="1.05" fill="#0744ff"/>
<rect x="292.2" y="198.7" width="1" height="1.05" fill="#007cff"/>
<rect x="293.2" y="198.7" width="1" height="1.05" fill="#09d8f2"/>
<rect x="294.2" y="198.7" width="1" height="1.05" fill="#6aee2e"/>
<rect x="295.2" y="198.7" width="1" height="1.05" fill="#ffaa00"/>
<rect x="296.2" y="198.7" width="3" height="1.05" fill="#eb0000"/>
<rect x="299.2" y="198.7" width="1" height="1.05" fill="#ff3d00"/>
<rect x="300.2" y="198.7" width="1" height="1.05" fill="#e8c908"/>
<rect x="301.2" y="198.7" width="2" height="1.05" fill="#a4f21e"/>
<rect x="303.2" y="198.7" width="1" height="1.05" fill="#d1e810"/>
<rect x="304.2" y="198.7" width="5" height="1.05" fill="#e8c908"/>
<rect x="309.2" y="198.7" width="1" height="1.05" fill="#ffaa00"/>
<rect x="310.2" y="198.7" width="1" height="1.05" fill="#ff7300"/>
<rect x="311.2" y="198.7" width="1" height="1.05" fill="#f71900"/>
<rect x="312.2" y="198.7" width="6" height="1.05" fill="#eb0000"/>
<rect x="318.2" y="198.7" width="1" height="1.05" fill="#ff3d00"/>
<rect x="319.2" y="198.7" width="1" height="1.05" fill="#a4f21e"/>
<rect x="320.2" y="198.7" width="1" height="1.05" fill="#18e4dd"/>
<rect x="321.2" y="198.7" width="1" height="1.05" fill="#00a0ff"/>
<rect x="322.2" y="198.7" width="1" height="1.05" fill="#0744ff"/>
<rect x="291.2" y="199.7" width="1" height="1.05" fill="#0b2aff"/>
<rect x="292.2" y="199.7" width="1" height="1.05" fill="#007cff"/>
<rect x="293.2" y="199.7" width="1" height="1.05" fill="#09d8f2"/>
<rect x="294.2" y="199.7" width="1" height="1.05" fill="#3aeb48"/>
<rect x="295.2" y="199.7" width="1" height="1.05" fill="#e8c908"/>
<rect x="296.2" y="199.7" width="1" height="1.05" fill="#ff3d00"/>
<rect x="297.2" y="199.7" width="1" height="1.05" fill="#eb0000"/>
<rect x="298.2" y="199.7" width="1" height="1.05" fill="#f71900"/>
<rect x="299.2" y="199.7" width="1" height="1.05" fill="#ff7300"/>
<rect x="300.2" y="199.7" width="1" height="1.05" fill="#d1e810"/>
<rect x="301.2" y="199.7" width="3" height="1.05" fill="#a4f21e"/>
<rect x="304.2" y="199.7" width="1" height="1.05" fill="#d1e810"/>
<rect x="305.2" y="199.7" width="2" height="1.05" fill="#e8c908"/>
<rect x="307.2" y="199.7" width="3" height="1.05" fill="#d1e810"/>
<rect x="310.2" y="199.7" width="1" height="1.05" fill="#e8c908"/>
<rect x="311.2" y="199.7" width="1" height="1.05" fill="#ffaa00"/>
<rect x="312.2" y="199.7" width="1" height="1.05" fill="#ff7300"/>
<rect x="313.2" y="199.7" width="1" height="1.05" fill="#f71900"/>
<rect x="314.2" y="199.7" width="3" height="1.05" fill="#eb0000"/>
<rect x="317.2" y="199.7" width="1" height="1.05" fill="#ff3d00"/>
<rect x="318.2" y="199.7" width="1" height="1.05" fill="#ffaa00"/>
<rect x="319.2" y="199.7" width="1" height="1.05" fill="#6aee2e"/>
<rect x="320.2" y="199.7" width="1" height="1.05" fill="#18e4dd"/>
<rect x="321.2" y="199.7" width="1" height="1.05" fill="#007cff"/>
<rect x="322.2" y="199.7" width="1" height="1.05" fill="#0b2aff"/>
<rect x="292.2" y="200.7" width="1" height="1.05" fill="#025eff"/>
<rect x="293.2" y="200.7" width="1" height="1.05" fill="#00c3ff"/>
<rect x="294.2" y="200.7" width="1" height="1.05" fill="#28f0c8"/>
<rect x="295.2" y="200.7" width="1" height="1.05" fill="#d1e810"/>
<rect x="296.2" y="200.7" width="1" height="1.05" fill="#ff7300"/>
<rect x="297.2" y="200.7" width="1" height="1.05" fill="#ff3d00"/>
<rect x="298.2" y="200.7" width="1" height="1.05" fill="#ff7300"/>
<rect x="299.2" y="200.7" width="1" height="1.05" fill="#e8c908"/>
<rect x="300.2" y="200.7" width="1" height="1.05" fill="#a4f21e"/>
<rect x="301.2" y="200.7" width="3" height="1.05" fill="#6aee2e"/>
<rect x="304.2" y="200.7" width="2" height="1.05" fill="#a4f21e"/>
<rect x="306.2" y="200.7" width="1" height="1.05" fill="#d1e810"/>
<rect x="307.2" y="200.7" width="5" height="1.05" fill="#a4f21e"/>
<rect x="312.2" y="200.7" width="1" height="1.05" fill="#d1e810"/>
<rect x="313.2" y="200.7" width="4" height="1.05" fill="#e8c908"/>
<rect x="317.2" y="200.7" width="1" height="1.05" fill="#d1e810"/>
<rect x="318.2" y="200.7" width="1" height="1.05" fill="#a4f21e"/>
<rect x="319.2" y="200.7" width="1" height="1.05" fill="#28f0c8"/>
<rect x="320.2" y="200.7" width="1" height="1.05" fill="#00c3ff"/>
<rect x="321.2" y="200.7" width="1" height="1.05" fill="#007cff"/>
<rect x="322.2" y="200.7" width="1" height="1.05" fill="#0b2aff"/>
<rect x="292.2" y="201.7" width="1" height="1.05" fill="#0744ff"/>
<rect x="293.2" y="201.7" width="1" height="1.05" fill="#00a0ff"/>
<rect x="294.2" y="201.7" width="1" height="1.05" fill="#18e4dd"/>
<rect x="295.2" y="201.7" width="1" height="1.05" fill="#3aeb48"/>
<rect x="296.2" y="201.7" width="1" height="1.05" fill="#d1e810"/>
<rect x="297.2" y="201.7" width="1" height="1.05" fill="#e8c908"/>
<rect x="298.2" y="201.7" width="1" height="1.05" fill="#d1e810"/>
<rect x="299.2" y="201.7" width="1" height="1.05" fill="#6aee2e"/>
<rect x="300.2" y="201.7" width="1" height="1.05" fill="#31ed88"/>
<rect x="301.2" y="201.7" width="3" height="1.05" fill="#28f0c8"/>
<rect x="304.2" y="201.7" width="1" height="1.05" fill="#31ed88"/>
<rect x="305.2" y="201.7" width="3" height="1.05" fill="#3aeb48"/>
<rect x="308.2" y="201.7" width="6" height="1.05" fill="#31ed88"/>
<rect x="314.2" y="201.7" width="2" height="1.05" fill="#3aeb48"/>
<rect x="316.2" y="201.7" width="1" height="1.05" fill="#31ed88"/>
<rect x="317.2" y="201.7" width="2" height="1.05" fill="#28f0c8"/>
<rect x="319.2" y="201.7" width="1" height="1.05" fill="#09d8f2"/>
<rect x="320.2" y="201.7" width="1" height="1.05" fill="#007cff"/>
<rect x="321.2" y="201.7" width="1" height="1.05" fill="#0744ff"/>
<rect x="292.2" y="202.7" width="1" height="1.05" fill="#0b2aff"/>
<rect x="293.2" y="202.7" width="1" height="1.05" fill="#007cff"/>
<rect x="294.2" y="202.7" width="1" height="1.05" fill="#00a0ff"/>
<rect x="295.2" y="202.7" width="1" height="1.05" fill="#18e4dd"/>
<rect x="296.2" y="202.7" width="1" height="1.05" fill="#31ed88"/>
<rect x="297.2" y="202.7" width="1" height="1.05" fill="#3aeb48"/>
<rect x="298.2" y="202.7" width="1" height="1.05" fill="#31ed88"/>
<rect x="299.2" y="202.7" width="1" height="1.05" fill="#18e4dd"/>
<rect x="300.2" y="202.7" width="1" height="1.05" fill="#09d8f2"/>
<rect x="301.2" y="202.7" width="3" height="1.05" fill="#00c3ff"/>
<rect x="304.2" y="202.7" width="7" height="1.05" fill="#09d8f2"/>
<rect x="311.2" y="202.7" width="3" height="1.05" fill="#00c3ff"/>
<rect x="314.2" y="202.7" width="2" height="1.05" fill="#09d8f2"/>
<rect x="316.2" y="202.7" width="2" height="1.05" fill="#00c3ff"/>
<rect x="318.2" y="202.7" width="2" height="1.05" fill="#00a0ff"/>
<rect x="320.2" y="202.7" width="1" height="1.05" fill="#025eff"/>
<rect x="321.2" y="202.7" width="1" height="1.05" fill="#0b2aff"/>
<rect x="293.2" y="203.7" width="1" height="1.05" fill="#0b2aff"/>
<rect x="294.2" y="203.7" width="1" height="1.05" fill="#025eff"/>
<rect x="295.2" y="203.7" width="1" height="1.05" fill="#007cff"/>
<rect x="296.2" y="203.7" width="1" height="1.05" fill="#00c3ff"/>
<rect x="297.2" y="203.7" width="1" height="1.05" fill="#09d8f2"/>
<rect x="298.2" y="203.7" width="1" height="1.05" fill="#00c3ff"/>
<rect x="299.2" y="203.7" width="1" height="1.05" fill="#00a0ff"/>
<rect x="300.2" y="203.7" width="1" height="1.05" fill="#007cff"/>
<rect x="301.2" y="203.7" width="3" height="1.05" fill="#025eff"/>
<rect x="304.2" y="203.7" width="9" height="1.05" fill="#007cff"/>
<rect x="313.2" y="203.7" width="5" height="1.05" fill="#025eff"/>
<rect x="318.2" y="203.7" width="2" height="1.05" fill="#0744ff"/>
<rect x="320.2" y="203.7" width="1" height="1.05" fill="#0b2aff"/>
<rect x="295.2" y="204.7" width="1" height="1.05" fill="#0744ff"/>
<rect x="296.2" y="204.7" width="3" height="1.05" fill="#025eff"/>
<rect x="299.2" y="204.7" width="1" height="1.05" fill="#0744ff"/>
<rect x="300.2" y="204.7" width="1" height="1.05" fill="#0b2aff"/>
<rect x="305.2" y="204.7" width="12" height="1.05" fill="#0b2aff"/>
</g></g>
<circle cx="293.8" cy="186.5" r="0.35" fill="#222"/>
<circle cx="296" cy="183.6" r="0.35" fill="#222"/>
<circle cx="300" cy="182.5" r="0.35" fill="#222"/>
<circle cx="303.5" cy="182" r="0.35" fill="#222"/>
<circle cx="292" cy="190" r="0.35" fill="#222"/>
<circle cx="307.8" cy="178.5" r="0.35" fill="#222"/>
<circle cx="323.4" cy="193" r="0.35" fill="#222"/>
<circle cx="322.4" cy="180" r="0.35" fill="#222"/>
<circle cx="289.8" cy="201" r="0.35" fill="#222"/>
<circle cx="305.5" cy="170" r="0.35" fill="#222"/>
<line x1="305.1" y1="162.3" x2="305.1" y2="214.4" stroke="#F25C5C" stroke-width="0.7"/>
<line x1="283.4" y1="192.6" x2="335.6" y2="192.6" stroke="#F25C5C" stroke-width="0.7"/>
<rect x="283.4" y="162.3" width="52.2" height="52.1" fill="none" stroke="#222" stroke-width="0.7"/>
<line x1="282.2" y1="172.3" x2="283.4" y2="172.3" stroke="#222" stroke-width="0.5"/>
<line x1="282.2" y1="192.3" x2="283.4" y2="192.3" stroke="#222" stroke-width="0.5"/>
<line x1="282.2" y1="208.4" x2="283.4" y2="208.4" stroke="#222" stroke-width="0.5"/>
<line x1="291.4" y1="214.4" x2="291.4" y2="215.6" stroke="#222" stroke-width="0.5"/>
<line x1="306.1" y1="214.4" x2="306.1" y2="215.6" stroke="#222" stroke-width="0.5"/>
<line x1="325.6" y1="214.4" x2="325.6" y2="215.6" stroke="#222" stroke-width="0.5"/>
<text x="286.2" y="169.1">4.00</text>
<text x="333.8" y="169.1" text-anchor="end">21.1</text>
<text x="286.2" y="212.7">29.7</text>
<text x="333.8" y="212.7" text-anchor="end">45.2</text>
<text x="309" y="158.2" text-anchor="middle">sgNTC</text>
<text x="309" y="224.1" text-anchor="middle">IFNγ–PE-Cy7</text>
<text x="277.8" y="188.35" text-anchor="middle" transform="rotate(-90 277.8 188.35)">TNF–BV421</text>
<clipPath id="cp350"><rect x="350.4" y="162.4" width="52" height="52"/></clipPath>
<g clip-path="url(#cp350)"><g filter="url(#bl3)">
<rect x="383.2" y="172" width="1" height="1.05" fill="#1010ff"/>
<rect x="384.2" y="172" width="2" height="1.05" fill="#0b2aff"/>
<rect x="380.2" y="173" width="2" height="1.05" fill="#0b2aff"/>
<rect x="382.2" y="173" width="2" height="1.05" fill="#0744ff"/>
<rect x="384.2" y="173" width="2" height="1.05" fill="#025eff"/>
<rect x="386.2" y="173" width="1" height="1.05" fill="#0744ff"/>
<rect x="387.2" y="173" width="2" height="1.05" fill="#0b2aff"/>
<rect x="379.2" y="174" width="1" height="1.05" fill="#0b2aff"/>
<rect x="380.2" y="174" width="2" height="1.05" fill="#025eff"/>
<rect x="382.2" y="174" width="1" height="1.05" fill="#007cff"/>
<rect x="383.2" y="174" width="3" height="1.05" fill="#00a0ff"/>
<rect x="386.2" y="174" width="1" height="1.05" fill="#007cff"/>
<rect x="387.2" y="174" width="1" height="1.05" fill="#025eff"/>
<rect x="388.2" y="174" width="1" height="1.05" fill="#0b2aff"/>
<rect x="377.2" y="175" width="1" height="1.05" fill="#1010ff"/>
<rect x="378.2" y="175" width="1" height="1.05" fill="#0744ff"/>
<rect x="379.2" y="175" width="1" height="1.05" fill="#025eff"/>
<rect x="380.2" y="175" width="1" height="1.05" fill="#007cff"/>
<rect x="381.2" y="175" width="2" height="1.05" fill="#00c3ff"/>
<rect x="383.2" y="175" width="3" height="1.05" fill="#09d8f2"/>
<rect x="386.2" y="175" width="1" height="1.05" fill="#00c3ff"/>
<rect x="387.2" y="175" width="1" height="1.05" fill="#007cff"/>
<rect x="388.2" y="175" width="1" height="1.05" fill="#0744ff"/>
<rect x="377.2" y="176" width="1" height="1.05" fill="#0744ff"/>
<rect x="378.2" y="176" width="1" height="1.05" fill="#025eff"/>
<rect x="379.2" y="176" width="1" height="1.05" fill="#00a0ff"/>
<rect x="380.2" y="176" width="1" height="1.05" fill="#00c3ff"/>
<rect x="381.2" y="176" width="1" height="1.05" fill="#18e4dd"/>
<rect x="382.2" y="176" width="4" height="1.05" fill="#28f0c8"/>
<rect x="386.2" y="176" width="1" height="1.05" fill="#09d8f2"/>
<rect x="387.2" y="176" width="1" height="1.05" fill="#00a0ff"/>
<rect x="388.2" y="176" width="1" height="1.05" fill="#0744ff"/>
<rect x="389.2" y="176" width="1" height="1.05" fill="#1010ff"/>
<rect x="376.2" y="177" width="1" height="1.05" fill="#0b2aff"/>
<rect x="377.2" y="177" width="1" height="1.05" fill="#025eff"/>
<rect x="378.2" y="177" width="1" height="1.05" fill="#00a0ff"/>
<rect x="379.2" y="177" width="1" height="1.05" fill="#09d8f2"/>
<rect x="380.2" y="177" width="1" height="1.05" fill="#18e4dd"/>
<rect x="381.2" y="177" width="4" height="1.05" fill="#31ed88"/>
<rect x="385.2" y="177" width="1" height="1.05" fill="#28f0c8"/>
<rect x="386.2" y="177" width="1" height="1.05" fill="#09d8f2"/>
<rect x="387.2" y="177" width="1" height="1.05" fill="#00a0ff"/>
<rect x="388.2" y="177" width="1" height="1.05" fill="#025eff"/>
<rect x="389.2" y="177" width="1" height="1.05" fill="#0b2aff"/>
<rect x="375.2" y="178" width="1" height="1.05" fill="#1010ff"/>
<rect x="376.2" y="178" width="1" height="1.05" fill="#0744ff"/>
<rect x="377.2" y="178" width="1" height="1.05" fill="#007cff"/>
<rect x="378.2" y="178" width="1" height="1.05" fill="#00c3ff"/>
<rect x="379.2" y="178" width="1" height="1.05" fill="#18e4dd"/>
<rect x="380.2" y="178" width="2" height="1.05" fill="#31ed88"/>
<rect x="382.2" y="178" width="1" height="1.05" fill="#3aeb48"/>
<rect x="383.2" y="178" width="2" height="1.05" fill="#6aee2e"/>
<rect x="385.2" y="178" width="1" height="1.05" fill="#31ed88"/>
<rect x="386.2" y="178" width="1" height="1.05" fill="#18e4dd"/>
<rect x="387.2" y="178" width="1" height="1.05" fill="#00c3ff"/>
<rect x="388.2" y="178" width="1" height="1.05" fill="#025eff"/>
<rect x="389.2" y="178" width="1" height="1.05" fill="#0b2aff"/>
<rect x="375.2" y="179" width="1" height="1.05" fill="#0b2aff"/>
<rect x="376.2" y="179" width="1" height="1.05" fill="#025eff"/>
<rect x="377.2" y="179" width="1" height="1.05" fill="#00a0ff"/>
<rect x="378.2" y="179" width="1" height="1.05" fill="#09d8f2"/>
<rect x="379.2" y="179" width="1" height="1.05" fill="#28f0c8"/>
<rect x="380.2" y="179" width="1" height="1.05" fill="#31ed88"/>
<rect x="381.2" y="179" width="1" height="1.05" fill="#6aee2e"/>
<rect x="382.2" y="179" width="1" height="1.05" fill="#d1e810"/>
<rect x="383.2" y="179" width="1" height="1.05" fill="#ffaa00"/>
<rect x="384.2" y="179" width="1" height="1.05" fill="#e8c908"/>
<rect x="385.2" y="179" width="1" height="1.05" fill="#6aee2e"/>
<rect x="386.2" y="179" width="1" height="1.05" fill="#28f0c8"/>
<rect x="387.2" y="179" width="1" height="1.05" fill="#00c3ff"/>
<rect x="388.2" y="179" width="1" height="1.05" fill="#007cff"/>
<rect x="389.2" y="179" width="1" height="1.05" fill="#0b2aff"/>
<rect x="374.2" y="180" width="1" height="1.05" fill="#0b2aff"/>
<rect x="375.2" y="180" width="1" height="1.05" fill="#0744ff"/>
<rect x="376.2" y="180" width="1" height="1.05" fill="#007cff"/>
<rect x="377.2" y="180" width="1" height="1.05" fill="#00c3ff"/>
<rect x="378.2" y="180" width="1" height="1.05" fill="#28f0c8"/>
<rect x="379.2" y="180" width="1" height="1.05" fill="#31ed88"/>
<rect x="380.2" y="180" width="1" height="1.05" fill="#3aeb48"/>
<rect x="381.2" y="180" width="1" height="1.05" fill="#a4f21e"/>
<rect x="382.2" y="180" width="1" height="1.05" fill="#ffaa00"/>
<rect x="383.2" y="180" width="1" height="1.05" fill="#ff3d00"/>
<rect x="384.2" y="180" width="1" height="1.05" fill="#ff7300"/>
<rect x="385.2" y="180" width="1" height="1.05" fill="#a4f21e"/>
<rect x="386.2" y="180" width="1" height="1.05" fill="#28f0c8"/>
<rect x="387.2" y="180" width="1" height="1.05" fill="#00c3ff"/>
<rect x="388.2" y="180" width="1" height="1.05" fill="#007cff"/>
<rect x="389.2" y="180" width="1" height="1.05" fill="#0b2aff"/>
<rect x="374.2" y="181" width="1" height="1.05" fill="#0744ff"/>
<rect x="375.2" y="181" width="1" height="1.05" fill="#007cff"/>
<rect x="376.2" y="181" width="1" height="1.05" fill="#00c3ff"/>
<rect x="377.2" y="181" width="1" height="1.05" fill="#18e4dd"/>
<rect x="378.2" y="181" width="1" height="1.05" fill="#28f0c8"/>
<rect x="379.2" y="181" width="1" height="1.05" fill="#31ed88"/>
<rect x="380.2" y="181" width="1" height="1.05" fill="#6aee2e"/>
<rect x="381.2" y="181" width="1" height="1.05" fill="#d1e810"/>
<rect x="382.2" y="181" width="1" height="1.05" fill="#ff7300"/>
<rect x="383.2" y="181" width="1" height="1.05" fill="#ff3d00"/>
<rect x="384.2" y="181" width="1" height="1.05" fill="#ff7300"/>
<rect x="385.2" y="181" width="1" height="1.05" fill="#a4f21e"/>
<rect x="386.2" y="181" width="1" height="1.05" fill="#28f0c8"/>
<rect x="387.2" y="181" width="1" height="1.05" fill="#00c3ff"/>
<rect x="388.2" y="181" width="1" height="1.05" fill="#007cff"/>
<rect x="389.2" y="181" width="1" height="1.05" fill="#0b2aff"/>
<rect x="364.2" y="182" width="2" height="1.05" fill="#0b2aff"/>
<rect x="373.2" y="182" width="1" height="1.05" fill="#0744ff"/>
<rect x="374.2" y="182" width="1" height="1.05" fill="#025eff"/>
<rect x="375.2" y="182" width="1" height="1.05" fill="#00a0ff"/>
<rect x="376.2" y="182" width="1" height="1.05" fill="#09d8f2"/>
<rect x="377.2" y="182" width="2" height="1.05" fill="#28f0c8"/>
<rect x="379.2" y="182" width="1" height="1.05" fill="#3aeb48"/>
<rect x="380.2" y="182" width="1" height="1.05" fill="#a4f21e"/>
<rect x="381.2" y="182" width="1" height="1.05" fill="#ffaa00"/>
<rect x="382.2" y="182" width="2" height="1.05" fill="#ff3d00"/>
<rect x="384.2" y="182" width="1" height="1.05" fill="#e8c908"/>
<rect x="385.2" y="182" width="1" height="1.05" fill="#6aee2e"/>
<rect x="386.2" y="182" width="1" height="1.05" fill="#28f0c8"/>
<rect x="387.2" y="182" width="1" height="1.05" fill="#00c3ff"/>
<rect x="388.2" y="182" width="1" height="1.05" fill="#007cff"/>
<rect x="389.2" y="182" width="1" height="1.05" fill="#0b2aff"/>
<rect x="363.2" y="183" width="1" height="1.05" fill="#0744ff"/>
<rect x="364.2" y="183" width="2" height="1.05" fill="#025eff"/>
<rect x="366.2" y="183" width="1" height="1.05" fill="#0744ff"/>
<rect x="367.2" y="183" width="1" height="1.05" fill="#0b2aff"/>
<rect x="372.2" y="183" width="1" height="1.05" fill="#0744ff"/>
<rect x="373.2" y="183" width="1" height="1.05" fill="#025eff"/>
<rect x="374.2" y="183" width="1" height="1.05" fill="#00a0ff"/>
<rect x="375.2" y="183" width="1" height="1.05" fill="#09d8f2"/>
<rect x="376.2" y="183" width="1" height="1.05" fill="#18e4dd"/>
<rect x="377.2" y="183" width="1" height="1.05" fill="#28f0c8"/>
<rect x="378.2" y="183" width="1" height="1.05" fill="#31ed88"/>
<rect x="379.2" y="183" width="1" height="1.05" fill="#3aeb48"/>
<rect x="380.2" y="183" width="1" height="1.05" fill="#d1e810"/>
<rect x="381.2" y="183" width="1" height="1.05" fill="#ff7300"/>
<rect x="382.2" y="183" width="1" height="1.05" fill="#f71900"/>
<rect x="383.2" y="183" width="1" height="1.05" fill="#ff3d00"/>
<rect x="384.2" y="183" width="1" height="1.05" fill="#e8c908"/>
<rect x="385.2" y="183" width="1" height="1.05" fill="#6aee2e"/>
<rect x="386.2" y="183" width="1" height="1.05" fill="#28f0c8"/>
<rect x="387.2" y="183" width="1" height="1.05" fill="#00c3ff"/>
<rect x="388.2" y="183" width="1" height="1.05" fill="#007cff"/>
<rect x="389.2" y="183" width="1" height="1.05" fill="#0b2aff"/>
<rect x="362.2" y="184" width="1" height="1.05" fill="#1010ff"/>
<rect x="363.2" y="184" width="1" height="1.05" fill="#025eff"/>
<rect x="364.2" y="184" width="2" height="1.05" fill="#00a0ff"/>
<rect x="366.2" y="184" width="1" height="1.05" fill="#007cff"/>
<rect x="367.2" y="184" width="1" height="1.05" fill="#025eff"/>
<rect x="368.2" y="184" width="1" height="1.05" fill="#0744ff"/>
<rect x="371.2" y="184" width="1" height="1.05" fill="#0b2aff"/>
<rect x="372.2" y="184" width="1" height="1.05" fill="#025eff"/>
<rect x="373.2" y="184" width="1" height="1.05" fill="#00a0ff"/>
<rect x="374.2" y="184" width="1" height="1.05" fill="#09d8f2"/>
<rect x="375.2" y="184" width="1" height="1.05" fill="#18e4dd"/>
<rect x="376.2" y="184" width="2" height="1.05" fill="#28f0c8"/>
<rect x="378.2" y="184" width="1" height="1.05" fill="#31ed88"/>
<rect x="379.2" y="184" width="1" height="1.05" fill="#6aee2e"/>
<rect x="380.2" y="184" width="1" height="1.05" fill="#d1e810"/>
<rect x="381.2" y="184" width="1" height="1.05" fill="#ff3d00"/>
<rect x="382.2" y="184" width="1" height="1.05" fill="#eb0000"/>
<rect x="383.2" y="184" width="1" height="1.05" fill="#ff3d00"/>
<rect x="384.2" y="184" width="1" height="1.05" fill="#e8c908"/>
<rect x="385.2" y="184" width="1" height="1.05" fill="#6aee2e"/>
<rect x="386.2" y="184" width="1" height="1.05" fill="#28f0c8"/>
<rect x="387.2" y="184" width="1" height="1.05" fill="#00c3ff"/>
<rect x="388.2" y="184" width="1" height="1.05" fill="#007cff"/>
<rect x="389.2" y="184" width="1" height="1.05" fill="#0744ff"/>
<rect x="362.2" y="185" width="1" height="1.05" fill="#0b2aff"/>
<rect x="363.2" y="185" width="1" height="1.05" fill="#025eff"/>
<rect x="364.2" y="185" width="1" height="1.05" fill="#00a0ff"/>
<rect x="365.2" y="185" width="1" height="1.05" fill="#09d8f2"/>
<rect x="366.2" y="185" width="1" height="1.05" fill="#00c3ff"/>
<rect x="367.2" y="185" width="1" height="1.05" fill="#00a0ff"/>
<rect x="368.2" y="185" width="1" height="1.05" fill="#025eff"/>
<rect x="369.2" y="185" width="1" height="1.05" fill="#0b2aff"/>
<rect x="371.2" y="185" width="1" height="1.05" fill="#025eff"/>
<rect x="372.2" y="185" width="1" height="1.05" fill="#00a0ff"/>
<rect x="373.2" y="185" width="1" height="1.05" fill="#09d8f2"/>
<rect x="374.2" y="185" width="1" height="1.05" fill="#18e4dd"/>
<rect x="375.2" y="185" width="4" height="1.05" fill="#31ed88"/>
<rect x="379.2" y="185" width="1" height="1.05" fill="#6aee2e"/>
<rect x="380.2" y="185" width="1" height="1.05" fill="#e8c908"/>
<rect x="381.2" y="185" width="1" height="1.05" fill="#ff3d00"/>
<rect x="382.2" y="185" width="1" height="1.05" fill="#eb0000"/>
<rect x="383.2" y="185" width="1" height="1.05" fill="#f71900"/>
<rect x="384.2" y="185" width="1" height="1.05" fill="#e8c908"/>
<rect x="385.2" y="185" width="1" height="1.05" fill="#6aee2e"/>
<rect x="386.2" y="185" width="1" height="1.05" fill="#28f0c8"/>
<rect x="387.2" y="185" width="1" height="1.05" fill="#00c3ff"/>
<rect x="388.2" y="185" width="1" height="1.05" fill="#007cff"/>
<rect x="389.2" y="185" width="1" height="1.05" fill="#0744ff"/>
<rect x="362.2" y="186" width="1" height="1.05" fill="#0b2aff"/>
<rect x="363.2" y="186" width="1" height="1.05" fill="#025eff"/>
<rect x="364.2" y="186" width="1" height="1.05" fill="#00a0ff"/>
<rect x="365.2" y="186" width="2" height="1.05" fill="#18e4dd"/>
<rect x="367.2" y="186" width="1" height="1.05" fill="#00c3ff"/>
<rect x="368.2" y="186" width="1" height="1.05" fill="#00a0ff"/>
<rect x="369.2" y="186" width="1" height="1.05" fill="#025eff"/>
<rect x="370.2" y="186" width="1" height="1.05" fill="#0744ff"/>
<rect x="371.2" y="186" width="1" height="1.05" fill="#007cff"/>
<rect x="372.2" y="186" width="1" height="1.05" fill="#00c3ff"/>
<rect x="373.2" y="186" width="1" height="1.05" fill="#18e4dd"/>
<rect x="374.2" y="186" width="2" height="1.05" fill="#31ed88"/>
<rect x="376.2" y="186" width="3" height="1.05" fill="#3aeb48"/>
<rect x="379.2" y="186" width="1" height="1.05" fill="#6aee2e"/>
<rect x="380.2" y="186" width="1" height="1.05" fill="#e8c908"/>
<rect x="381.2" y="186" width="1" height="1.05" fill="#ff3d00"/>
<rect x="382.2" y="186" width="1" height="1.05" fill="#eb0000"/>
<rect x="383.2" y="186" width="1" height="1.05" fill="#ff3d00"/>
<rect x="384.2" y="186" width="1" height="1.05" fill="#e8c908"/>
<rect x="385.2" y="186" width="1" height="1.05" fill="#6aee2e"/>
<rect x="386.2" y="186" width="1" height="1.05" fill="#28f0c8"/>
<rect x="387.2" y="186" width="1" height="1.05" fill="#00c3ff"/>
<rect x="388.2" y="186" width="1" height="1.05" fill="#007cff"/>
<rect x="389.2" y="186" width="1" height="1.05" fill="#0744ff"/>
<rect x="362.2" y="187" width="1" height="1.05" fill="#0b2aff"/>
<rect x="363.2" y="187" width="1" height="1.05" fill="#025eff"/>
<rect x="364.2" y="187" width="1" height="1.05" fill="#00c3ff"/>
<rect x="365.2" y="187" width="1" height="1.05" fill="#18e4dd"/>
<rect x="366.2" y="187" width="1" height="1.05" fill="#28f0c8"/>
<rect x="367.2" y="187" width="1" height="1.05" fill="#18e4dd"/>
<rect x="368.2" y="187" width="1" height="1.05" fill="#00c3ff"/>
<rect x="369.2" y="187" width="2" height="1.05" fill="#00a0ff"/>
<rect x="371.2" y="187" width="1" height="1.05" fill="#00c3ff"/>
<rect x="372.2" y="187" width="1" height="1.05" fill="#18e4dd"/>
<rect x="373.2" y="187" width="1" height="1.05" fill="#31ed88"/>
<rect x="374.2" y="187" width="2" height="1.05" fill="#3aeb48"/>
<rect x="376.2" y="187" width="3" height="1.05" fill="#6aee2e"/>
<rect x="379.2" y="187" width="1" height="1.05" fill="#a4f21e"/>
<rect x="380.2" y="187" width="1" height="1.05" fill="#e8c908"/>
<rect x="381.2" y="187" width="1" height="1.05" fill="#ff3d00"/>
<rect x="382.2" y="187" width="1" height="1.05" fill="#f71900"/>
<rect x="383.2" y="187" width="1" height="1.05" fill="#ff3d00"/>
<rect x="384.2" y="187" width="1" height="1.05" fill="#e8c908"/>
<rect x="385.2" y="187" width="1" height="1.05" fill="#6aee2e"/>
<rect x="386.2" y="187" width="1" height="1.05" fill="#28f0c8"/>
<rect x="387.2" y="187" width="1" height="1.05" fill="#00c3ff"/>
<rect x="388.2" y="187" width="1" height="1.05" fill="#007cff"/>
<rect x="389.2" y="187" width="1" height="1.05" fill="#0b2aff"/>
<rect x="362.2" y="188" width="1" height="1.05" fill="#0b2aff"/>
<rect x="363.2" y="188" width="1" height="1.05" fill="#007cff"/>
<rect x="364.2" y="188" width="1" height="1.05" fill="#00c3ff"/>
<rect x="365.2" y="188" width="1" height="1.05" fill="#18e4dd"/>
<rect x="366.2" y="188" width="2" height="1.05" fill="#28f0c8"/>
<rect x="368.2" y="188" width="1" height="1.05" fill="#18e4dd"/>
<rect x="369.2" y="188" width="2" height="1.05" fill="#09d8f2"/>
<rect x="371.2" y="188" width="1" height="1.05" fill="#18e4dd"/>
<rect x="372.2" y="188" width="1" height="1.05" fill="#31ed88"/>
<rect x="373.2" y="188" width="1" height="1.05" fill="#3aeb48"/>
<rect x="374.2" y="188" width="2" height="1.05" fill="#6aee2e"/>
<rect x="376.2" y="188" width="4" height="1.05" fill="#a4f21e"/>
<rect x="380.2" y="188" width="1" height="1.05" fill="#e8c908"/>
<rect x="381.2" y="188" width="1" height="1.05" fill="#ff7300"/>
<rect x="382.2" y="188" width="1" height="1.05" fill="#ff3d00"/>
<rect x="383.2" y="188" width="1" height="1.05" fill="#ffaa00"/>
<rect x="384.2" y="188" width="1" height="1.05" fill="#d1e810"/>
<rect x="385.2" y="188" width="1" height="1.05" fill="#3aeb48"/>
<rect x="386.2" y="188" width="1" height="1.05" fill="#28f0c8"/>
<rect x="387.2" y="188" width="1" height="1.05" fill="#00c3ff"/>
<rect x="388.2" y="188" width="1" height="1.05" fill="#007cff"/>
<rect x="389.2" y="188" width="1" height="1.05" fill="#0b2aff"/>
<rect x="362.2" y="189" width="1" height="1.05" fill="#0b2aff"/>
<rect x="363.2" y="189" width="1" height="1.05" fill="#025eff"/>
<rect x="364.2" y="189" width="1" height="1.05" fill="#00c3ff"/>
<rect x="365.2" y="189" width="1" height="1.05" fill="#18e4dd"/>
<rect x="366.2" y="189" width="5" height="1.05" fill="#31ed88"/>
<rect x="371.2" y="189" width="2" height="1.05" fill="#3aeb48"/>
<rect x="373.2" y="189" width="1" height="1.05" fill="#6aee2e"/>
<rect x="374.2" y="189" width="2" height="1.05" fill="#a4f21e"/>
<rect x="376.2" y="189" width="2" height="1.05" fill="#d1e810"/>
<rect x="378.2" y="189" width="2" height="1.05" fill="#a4f21e"/>
<rect x="380.2" y="189" width="1" height="1.05" fill="#d1e810"/>
<rect x="381.2" y="189" width="1" height="1.05" fill="#e8c908"/>
<rect x="382.2" y="189" width="1" height="1.05" fill="#ffaa00"/>
<rect x="383.2" y="189" width="1" height="1.05" fill="#e8c908"/>
<rect x="384.2" y="189" width="1" height="1.05" fill="#a4f21e"/>
<rect x="385.2" y="189" width="1" height="1.05" fill="#3aeb48"/>
<rect x="386.2" y="189" width="1" height="1.05" fill="#28f0c8"/>
<rect x="387.2" y="189" width="1" height="1.05" fill="#00c3ff"/>
<rect x="388.2" y="189" width="1" height="1.05" fill="#007cff"/>
<rect x="389.2" y="189" width="1" height="1.05" fill="#0b2aff"/>
<rect x="363.2" y="190" width="1" height="1.05" fill="#025eff"/>
<rect x="364.2" y="190" width="1" height="1.05" fill="#00a0ff"/>
<rect x="365.2" y="190" width="1" height="1.05" fill="#18e4dd"/>
<rect x="366.2" y="190" width="3" height="1.05" fill="#31ed88"/>
<rect x="369.2" y="190" width="3" height="1.05" fill="#3aeb48"/>
<rect x="372.2" y="190" width="2" height="1.05" fill="#6aee2e"/>
<rect x="374.2" y="190" width="1" height="1.05" fill="#a4f21e"/>
<rect x="375.2" y="190" width="4" height="1.05" fill="#d1e810"/>
<rect x="379.2" y="190" width="1" height="1.05" fill="#a4f21e"/>
<rect x="380.2" y="190" width="2" height="1.05" fill="#d1e810"/>
<rect x="382.2" y="190" width="1" height="1.05" fill="#e8c908"/>
<rect x="383.2" y="190" width="1" height="1.05" fill="#d1e810"/>
<rect x="384.2" y="190" width="1" height="1.05" fill="#6aee2e"/>
<rect x="385.2" y="190" width="1" height="1.05" fill="#3aeb48"/>
<rect x="386.2" y="190" width="1" height="1.05" fill="#18e4dd"/>
<rect x="387.2" y="190" width="1" height="1.05" fill="#00c3ff"/>
<rect x="388.2" y="190" width="1" height="1.05" fill="#025eff"/>
<rect x="389.2" y="190" width="1" height="1.05" fill="#0b2aff"/>
<rect x="363.2" y="191" width="1" height="1.05" fill="#025eff"/>
<rect x="364.2" y="191" width="1" height="1.05" fill="#00c3ff"/>
<rect x="365.2" y="191" width="1" height="1.05" fill="#18e4dd"/>
<rect x="366.2" y="191" width="1" height="1.05" fill="#31ed88"/>
<rect x="367.2" y="191" width="4" height="1.05" fill="#3aeb48"/>
<rect x="371.2" y="191" width="2" height="1.05" fill="#6aee2e"/>
<rect x="373.2" y="191" width="1" height="1.05" fill="#a4f21e"/>
<rect x="374.2" y="191" width="5" height="1.05" fill="#d1e810"/>
<rect x="379.2" y="191" width="5" height="1.05" fill="#a4f21e"/>
<rect x="384.2" y="191" width="1" height="1.05" fill="#3aeb48"/>
<rect x="385.2" y="191" width="1" height="1.05" fill="#31ed88"/>
<rect x="386.2" y="191" width="1" height="1.05" fill="#18e4dd"/>
<rect x="387.2" y="191" width="1" height="1.05" fill="#00c3ff"/>
<rect x="388.2" y="191" width="1" height="1.05" fill="#025eff"/>
<rect x="389.2" y="191" width="1" height="1.05" fill="#0b2aff"/>
<rect x="362.2" y="192" width="1" height="1.05" fill="#0744ff"/>
<rect x="363.2" y="192" width="1" height="1.05" fill="#007cff"/>
<rect x="364.2" y="192" width="1" height="1.05" fill="#09d8f2"/>
<rect x="365.2" y="192" width="1" height="1.05" fill="#28f0c8"/>
<rect x="366.2" y="192" width="3" height="1.05" fill="#3aeb48"/>
<rect x="369.2" y="192" width="3" height="1.05" fill="#6aee2e"/>
<rect x="372.2" y="192" width="2" height="1.05" fill="#a4f21e"/>
<rect x="374.2" y="192" width="4" height="1.05" fill="#d1e810"/>
<rect x="378.2" y="192" width="2" height="1.05" fill="#a4f21e"/>
<rect x="380.2" y="192" width="4" height="1.05" fill="#6aee2e"/>
<rect x="384.2" y="192" width="1" height="1.05" fill="#3aeb48"/>
<rect x="385.2" y="192" width="1" height="1.05" fill="#31ed88"/>
<rect x="386.2" y="192" width="1" height="1.05" fill="#18e4dd"/>
<rect x="387.2" y="192" width="1" height="1.05" fill="#00a0ff"/>
<rect x="388.2" y="192" width="1" height="1.05" fill="#025eff"/>
<rect x="389.2" y="192" width="1" height="1.05" fill="#0b2aff"/>
<rect x="362.2" y="193" width="1" height="1.05" fill="#007cff"/>
<rect x="363.2" y="193" width="1" height="1.05" fill="#09d8f2"/>
<rect x="364.2" y="193" width="1" height="1.05" fill="#31ed88"/>
<rect x="365.2" y="193" width="5" height="1.05" fill="#6aee2e"/>
<rect x="370.2" y="193" width="3" height="1.05" fill="#a4f21e"/>
<rect x="373.2" y="193" width="4" height="1.05" fill="#d1e810"/>
<rect x="377.2" y="193" width="2" height="1.05" fill="#a4f21e"/>
<rect x="379.2" y="193" width="4" height="1.05" fill="#6aee2e"/>
<rect x="383.2" y="193" width="2" height="1.05" fill="#3aeb48"/>
<rect x="385.2" y="193" width="1" height="1.05" fill="#31ed88"/>
<rect x="386.2" y="193" width="1" height="1.05" fill="#18e4dd"/>
<rect x="387.2" y="193" width="1" height="1.05" fill="#00a0ff"/>
<rect x="388.2" y="193" width="1" height="1.05" fill="#025eff"/>
<rect x="361.2" y="194" width="1" height="1.05" fill="#0744ff"/>
<rect x="362.2" y="194" width="1" height="1.05" fill="#00c3ff"/>
<rect x="363.2" y="194" width="1" height="1.05" fill="#31ed88"/>
<rect x="364.2" y="194" width="1" height="1.05" fill="#d1e810"/>
<rect x="365.2" y="194" width="1" height="1.05" fill="#ffaa00"/>
<rect x="366.2" y="194" width="1" height="1.05" fill="#d1e810"/>
<rect x="367.2" y="194" width="3" height="1.05" fill="#a4f21e"/>
<rect x="370.2" y="194" width="7" height="1.05" fill="#d1e810"/>
<rect x="377.2" y="194" width="5" height="1.05" fill="#a4f21e"/>
<rect x="382.2" y="194" width="2" height="1.05" fill="#6aee2e"/>
<rect x="384.2" y="194" width="1" height="1.05" fill="#3aeb48"/>
<rect x="385.2" y="194" width="1" height="1.05" fill="#31ed88"/>
<rect x="386.2" y="194" width="1" height="1.05" fill="#18e4dd"/>
<rect x="387.2" y="194" width="1" height="1.05" fill="#00a0ff"/>
<rect x="388.2" y="194" width="1" height="1.05" fill="#025eff"/>
<rect x="361.2" y="195" width="1" height="1.05" fill="#025eff"/>
<rect x="362.2" y="195" width="1" height="1.05" fill="#18e4dd"/>
<rect x="363.2" y="195" width="1" height="1.05" fill="#d1e810"/>
<rect x="364.2" y="195" width="1" height="1.05" fill="#ff3d00"/>
<rect x="365.2" y="195" width="1" height="1.05" fill="#f71900"/>
<rect x="366.2" y="195" width="1" height="1.05" fill="#ffaa00"/>
<rect x="367.2" y="195" width="4" height="1.05" fill="#d1e810"/>
<rect x="371.2" y="195" width="2" height="1.05" fill="#e8c908"/>
<rect x="373.2" y="195" width="10" height="1.05" fill="#d1e810"/>
<rect x="383.2" y="195" width="1" height="1.05" fill="#a4f21e"/>
<rect x="384.2" y="195" width="1" height="1.05" fill="#6aee2e"/>
<rect x="385.2" y="195" width="1" height="1.05" fill="#3aeb48"/>
<rect x="386.2" y="195" width="1" height="1.05" fill="#18e4dd"/>
<rect x="387.2" y="195" width="1" height="1.05" fill="#00a0ff"/>
<rect x="388.2" y="195" width="1" height="1.05" fill="#025eff"/>
<rect x="361.2" y="196" width="1" height="1.05" fill="#007cff"/>
<rect x="362.2" y="196" width="1" height="1.05" fill="#28f0c8"/>
<rect x="363.2" y="196" width="1" height="1.05" fill="#e8c908"/>
<rect x="364.2" y="196" width="2" height="1.05" fill="#eb0000"/>
<rect x="366.2" y="196" width="1" height="1.05" fill="#ff7300"/>
<rect x="367.2" y="196" width="8" height="1.05" fill="#e8c908"/>
<rect x="375.2" y="196" width="2" height="1.05" fill="#d1e810"/>
<rect x="377.2" y="196" width="2" height="1.05" fill="#e8c908"/>
<rect x="379.2" y="196" width="1" height="1.05" fill="#ffaa00"/>
<rect x="380.2" y="196" width="2" height="1.05" fill="#ff7300"/>
<rect x="382.2" y="196" width="1" height="1.05" fill="#ffaa00"/>
<rect x="383.2" y="196" width="1" height="1.05" fill="#e8c908"/>
<rect x="384.2" y="196" width="1" height="1.05" fill="#a4f21e"/>
<rect x="385.2" y="196" width="1" height="1.05" fill="#6aee2e"/>
<rect x="386.2" y="196" width="1" height="1.05" fill="#18e4dd"/>
<rect x="387.2" y="196" width="1" height="1.05" fill="#00a0ff"/>
<rect x="388.2" y="196" width="1" height="1.05" fill="#025eff"/>
<rect x="360.2" y="197" width="1" height="1.05" fill="#0b2aff"/>
<rect x="361.2" y="197" width="1" height="1.05" fill="#007cff"/>
<rect x="362.2" y="197" width="1" height="1.05" fill="#28f0c8"/>
<rect x="363.2" y="197" width="1" height="1.05" fill="#e8c908"/>
<rect x="364.2" y="197" width="1" height="1.05" fill="#eb0000"/>
<rect x="365.2" y="197" width="1" height="1.05" fill="#f71900"/>
<rect x="366.2" y="197" width="1" height="1.05" fill="#ff7300"/>
<rect x="367.2" y="197" width="3" height="1.05" fill="#e8c908"/>
<rect x="370.2" y="197" width="2" height="1.05" fill="#ffaa00"/>
<rect x="372.2" y="197" width="5" height="1.05" fill="#e8c908"/>
<rect x="377.2" y="197" width="1" height="1.05" fill="#ffaa00"/>
<rect x="378.2" y="197" width="1" height="1.05" fill="#ff7300"/>
<rect x="379.2" y="197" width="1" height="1.05" fill="#f71900"/>
<rect x="380.2" y="197" width="2" height="1.05" fill="#eb0000"/>
<rect x="382.2" y="197" width="1" height="1.05" fill="#f71900"/>
<rect x="383.2" y="197" width="1" height="1.05" fill="#ff7300"/>
<rect x="384.2" y="197" width="1" height="1.05" fill="#e8c908"/>
<rect x="385.2" y="197" width="1" height="1.05" fill="#6aee2e"/>
<rect x="386.2" y="197" width="1" height="1.05" fill="#28f0c8"/>
<rect x="387.2" y="197" width="1" height="1.05" fill="#00a0ff"/>
<rect x="388.2" y="197" width="1" height="1.05" fill="#0744ff"/>
<rect x="360.2" y="198" width="1" height="1.05" fill="#0b2aff"/>
<rect x="361.2" y="198" width="1" height="1.05" fill="#007cff"/>
<rect x="362.2" y="198" width="1" height="1.05" fill="#18e4dd"/>
<rect x="363.2" y="198" width="1" height="1.05" fill="#d1e810"/>
<rect x="364.2" y="198" width="1" height="1.05" fill="#f71900"/>
<rect x="365.2" y="198" width="1" height="1.05" fill="#ff3d00"/>
<rect x="366.2" y="198" width="1" height="1.05" fill="#ffaa00"/>
<rect x="367.2" y="198" width="2" height="1.05" fill="#e8c908"/>
<rect x="369.2" y="198" width="4" height="1.05" fill="#ffaa00"/>
<rect x="373.2" y="198" width="4" height="1.05" fill="#e8c908"/>
<rect x="377.2" y="198" width="1" height="1.05" fill="#ffaa00"/>
<rect x="378.2" y="198" width="1" height="1.05" fill="#ff3d00"/>
<rect x="379.2" y="198" width="4" height="1.05" fill="#eb0000"/>
<rect x="383.2" y="198" width="1" height="1.05" fill="#ff3d00"/>
<rect x="384.2" y="198" width="1" height="1.05" fill="#ffaa00"/>
<rect x="385.2" y="198" width="1" height="1.05" fill="#a4f21e"/>
<rect x="386.2" y="198" width="1" height="1.05" fill="#28f0c8"/>
<rect x="387.2" y="198" width="1" height="1.05" fill="#00a0ff"/>
<rect x="388.2" y="198" width="1" height="1.05" fill="#0744ff"/>
<rect x="360.2" y="199" width="1" height="1.05" fill="#0744ff"/>
<rect x="361.2" y="199" width="1" height="1.05" fill="#007cff"/>
<rect x="362.2" y="199" width="1" height="1.05" fill="#18e4dd"/>
<rect x="363.2" y="199" width="1" height="1.05" fill="#d1e810"/>
<rect x="364.2" y="199" width="1" height="1.05" fill="#f71900"/>
<rect x="365.2" y="199" width="1" height="1.05" fill="#ff3d00"/>
<rect x="366.2" y="199" width="1" height="1.05" fill="#e8c908"/>
<rect x="367.2" y="199" width="1" height="1.05" fill="#d1e810"/>
<rect x="368.2" y="199" width="2" height="1.05" fill="#e8c908"/>
<rect x="370.2" y="199" width="1" height="1.05" fill="#ffaa00"/>
<rect x="371.2" y="199" width="6" height="1.05" fill="#e8c908"/>
<rect x="377.2" y="199" width="1" height="1.05" fill="#ffaa00"/>
<rect x="378.2" y="199" width="1" height="1.05" fill="#ff7300"/>
<rect x="379.2" y="199" width="1" height="1.05" fill="#f71900"/>
<rect x="380.2" y="199" width="2" height="1.05" fill="#eb0000"/>
<rect x="382.2" y="199" width="1" height="1.05" fill="#f71900"/>
<rect x="383.2" y="199" width="1" height="1.05" fill="#ff7300"/>
<rect x="384.2" y="199" width="1" height="1.05" fill="#e8c908"/>
<rect x="385.2" y="199" width="1" height="1.05" fill="#6aee2e"/>
<rect x="386.2" y="199" width="1" height="1.05" fill="#18e4dd"/>
<rect x="387.2" y="199" width="1" height="1.05" fill="#00a0ff"/>
<rect x="388.2" y="199" width="1" height="1.05" fill="#0744ff"/>
<rect x="360.2" y="200" width="1" height="1.05" fill="#0744ff"/>
<rect x="361.2" y="200" width="1" height="1.05" fill="#007cff"/>
<rect x="362.2" y="200" width="1" height="1.05" fill="#18e4dd"/>
<rect x="363.2" y="200" width="1" height="1.05" fill="#d1e810"/>
<rect x="364.2" y="200" width="1" height="1.05" fill="#f71900"/>
<rect x="365.2" y="200" width="1" height="1.05" fill="#ff3d00"/>
<rect x="366.2" y="200" width="1" height="1.05" fill="#e8c908"/>
<rect x="367.2" y="200" width="2" height="1.05" fill="#d1e810"/>
<rect x="369.2" y="200" width="4" height="1.05" fill="#e8c908"/>
<rect x="373.2" y="200" width="5" height="1.05" fill="#d1e810"/>
<rect x="378.2" y="200" width="1" height="1.05" fill="#e8c908"/>
<rect x="379.2" y="200" width="1" height="1.05" fill="#ffaa00"/>
<rect x="380.2" y="200" width="2" height="1.05" fill="#ff7300"/>
<rect x="382.2" y="200" width="1" height="1.05" fill="#ffaa00"/>
<rect x="383.2" y="200" width="1" height="1.05" fill="#e8c908"/>
<rect x="384.2" y="200" width="1" height="1.05" fill="#a4f21e"/>
<rect x="385.2" y="200" width="1" height="1.05" fill="#31ed88"/>
<rect x="386.2" y="200" width="1" height="1.05" fill="#00c3ff"/>
<rect x="387.2" y="200" width="1" height="1.05" fill="#007cff"/>
<rect x="360.2" y="201" width="1" height="1.05" fill="#0b2aff"/>
<rect x="361.2" y="201" width="1" height="1.05" fill="#007cff"/>
<rect x="362.2" y="201" width="1" height="1.05" fill="#18e4dd"/>
<rect x="363.2" y="201" width="1" height="1.05" fill="#a4f21e"/>
<rect x="364.2" y="201" width="2" height="1.05" fill="#ff7300"/>
<rect x="366.2" y="201" width="1" height="1.05" fill="#d1e810"/>
<rect x="367.2" y="201" width="2" height="1.05" fill="#a4f21e"/>
<rect x="369.2" y="201" width="5" height="1.05" fill="#d1e810"/>
<rect x="374.2" y="201" width="6" height="1.05" fill="#a4f21e"/>
<rect x="380.2" y="201" width="2" height="1.05" fill="#d1e810"/>
<rect x="382.2" y="201" width="2" height="1.05" fill="#a4f21e"/>
<rect x="384.2" y="201" width="1" height="1.05" fill="#3aeb48"/>
<rect x="385.2" y="201" width="1" height="1.05" fill="#18e4dd"/>
<rect x="386.2" y="201" width="1" height="1.05" fill="#00a0ff"/>
<rect x="387.2" y="201" width="1" height="1.05" fill="#0744ff"/>
<rect x="360.2" y="202" width="1" height="1.05" fill="#0b2aff"/>
<rect x="361.2" y="202" width="1" height="1.05" fill="#007cff"/>
<rect x="362.2" y="202" width="1" height="1.05" fill="#09d8f2"/>
<rect x="363.2" y="202" width="1" height="1.05" fill="#3aeb48"/>
<rect x="364.2" y="202" width="2" height="1.05" fill="#d1e810"/>
<rect x="366.2" y="202" width="2" height="1.05" fill="#6aee2e"/>
<rect x="368.2" y="202" width="6" height="1.05" fill="#a4f21e"/>
<rect x="374.2" y="202" width="3" height="1.05" fill="#6aee2e"/>
<rect x="377.2" y="202" width="3" height="1.05" fill="#3aeb48"/>
<rect x="380.2" y="202" width="1" height="1.05" fill="#6aee2e"/>
<rect x="381.2" y="202" width="1" height="1.05" fill="#3aeb48"/>
<rect x="382.2" y="202" width="1" height="1.05" fill="#31ed88"/>
<rect x="383.2" y="202" width="1" height="1.05" fill="#28f0c8"/>
<rect x="384.2" y="202" width="1" height="1.05" fill="#18e4dd"/>
<rect x="385.2" y="202" width="1" height="1.05" fill="#00c3ff"/>
<rect x="386.2" y="202" width="1" height="1.05" fill="#007cff"/>
<rect x="387.2" y="202" width="1" height="1.05" fill="#0b2aff"/>
<rect x="360.2" y="203" width="1" height="1.05" fill="#0b2aff"/>
<rect x="361.2" y="203" width="1" height="1.05" fill="#025eff"/>
<rect x="362.2" y="203" width="1" height="1.05" fill="#00c3ff"/>
<rect x="363.2" y="203" width="1" height="1.05" fill="#28f0c8"/>
<rect x="364.2" y="203" width="4" height="1.05" fill="#3aeb48"/>
<rect x="368.2" y="203" width="5" height="1.05" fill="#6aee2e"/>
<rect x="373.2" y="203" width="2" height="1.05" fill="#3aeb48"/>
<rect x="375.2" y="203" width="2" height="1.05" fill="#31ed88"/>
<rect x="377.2" y="203" width="2" height="1.05" fill="#28f0c8"/>
<rect x="379.2" y="203" width="3" height="1.05" fill="#18e4dd"/>
<rect x="382.2" y="203" width="1" height="1.05" fill="#09d8f2"/>
<rect x="383.2" y="203" width="2" height="1.05" fill="#00c3ff"/>
<rect x="385.2" y="203" width="1" height="1.05" fill="#00a0ff"/>
<rect x="386.2" y="203" width="1" height="1.05" fill="#025eff"/>
<rect x="360.2" y="204" width="1" height="1.05" fill="#0b2aff"/>
<rect x="361.2" y="204" width="1" height="1.05" fill="#025eff"/>
<rect x="362.2" y="204" width="1" height="1.05" fill="#00a0ff"/>
<rect x="363.2" y="204" width="1" height="1.05" fill="#00c3ff"/>
<rect x="364.2" y="204" width="1" height="1.05" fill="#09d8f2"/>
<rect x="365.2" y="204" width="2" height="1.05" fill="#18e4dd"/>
<rect x="367.2" y="204" width="6" height="1.05" fill="#28f0c8"/>
<rect x="373.2" y="204" width="2" height="1.05" fill="#18e4dd"/>
<rect x="375.2" y="204" width="2" height="1.05" fill="#09d8f2"/>
<rect x="377.2" y="204" width="3" height="1.05" fill="#00c3ff"/>
<rect x="380.2" y="204" width="2" height="1.05" fill="#00a0ff"/>
<rect x="382.2" y="204" width="2" height="1.05" fill="#007cff"/>
<rect x="384.2" y="204" width="1" height="1.05" fill="#025eff"/>
<rect x="385.2" y="204" width="2" height="1.05" fill="#0744ff"/>
<rect x="360.2" y="205" width="1" height="1.05" fill="#0b2aff"/>
<rect x="361.2" y="205" width="2" height="1.05" fill="#025eff"/>
<rect x="363.2" y="205" width="2" height="1.05" fill="#007cff"/>
<rect x="365.2" y="205" width="2" height="1.05" fill="#00a0ff"/>
<rect x="367.2" y="205" width="6" height="1.05" fill="#00c3ff"/>
<rect x="373.2" y="205" width="3" height="1.05" fill="#00a0ff"/>
<rect x="376.2" y="205" width="3" height="1.05" fill="#007cff"/>
<rect x="379.2" y="205" width="2" height="1.05" fill="#025eff"/>
<rect x="381.2" y="205" width="2" height="1.05" fill="#0744ff"/>
<rect x="383.2" y="205" width="2" height="1.05" fill="#0b2aff"/>
<rect x="361.2" y="206" width="1" height="1.05" fill="#1010ff"/>
<rect x="362.2" y="206" width="2" height="1.05" fill="#0b2aff"/>
<rect x="364.2" y="206" width="2" height="1.05" fill="#0744ff"/>
<rect x="366.2" y="206" width="1" height="1.05" fill="#025eff"/>
<rect x="367.2" y="206" width="3" height="1.05" fill="#007cff"/>
<rect x="370.2" y="206" width="4" height="1.05" fill="#025eff"/>
<rect x="374.2" y="206" width="3" height="1.05" fill="#0744ff"/>
<rect x="377.2" y="206" width="2" height="1.05" fill="#0b2aff"/>
<rect x="367.2" y="207" width="3" height="1.05" fill="#0b2aff"/>
</g></g>
<circle cx="366" cy="178" r="0.35" fill="#222"/>
<circle cx="370" cy="176.5" r="0.35" fill="#222"/>
<circle cx="373.5" cy="172" r="0.35" fill="#222"/>
<circle cx="376" cy="170.5" r="0.35" fill="#222"/>
<circle cx="359" cy="190" r="0.35" fill="#222"/>
<circle cx="392" cy="190" r="0.35" fill="#222"/>
<circle cx="358.6" cy="201" r="0.35" fill="#222"/>
<circle cx="388" cy="170" r="0.35" fill="#222"/>
<circle cx="361" cy="179" r="0.35" fill="#222"/>
<line x1="371.3" y1="162.4" x2="371.3" y2="214.4" stroke="#F25C5C" stroke-width="0.7"/>
<line x1="350.4" y1="192.5" x2="402.4" y2="192.5" stroke="#F25C5C" stroke-width="0.7"/>
<rect x="350.4" y="162.4" width="52" height="52" fill="none" stroke="#222" stroke-width="0.7"/>
<line x1="349.2" y1="172.4" x2="350.4" y2="172.4" stroke="#222" stroke-width="0.5"/>
<line x1="349.2" y1="192.4" x2="350.4" y2="192.4" stroke="#222" stroke-width="0.5"/>
<line x1="349.2" y1="208.4" x2="350.4" y2="208.4" stroke="#222" stroke-width="0.5"/>
<line x1="358.4" y1="214.4" x2="358.4" y2="215.6" stroke="#222" stroke-width="0.5"/>
<line x1="372.3" y1="214.4" x2="372.3" y2="215.6" stroke="#222" stroke-width="0.5"/>
<line x1="392.4" y1="214.4" x2="392.4" y2="215.6" stroke="#222" stroke-width="0.5"/>
<text x="353.2" y="169.2">4.69</text>
<text x="400.6" y="169.2" text-anchor="end">41.7</text>
<text x="353.2" y="212.7">19.1</text>
<text x="400.6" y="212.7" text-anchor="end">34.5</text>
<text x="376" y="158.2" text-anchor="middle">sg<tspan font-style="italic">Vdac2</tspan></text>
<text x="375.9" y="224.1" text-anchor="middle">IFNγ–PE-Cy7</text>
<text x="344.8" y="188.4" text-anchor="middle" transform="rotate(-90 344.8 188.4)">TNF–BV421</text>
<rect x="438.6" y="142.6" width="9.2" height="5.2" fill="#7f7f7f" stroke="#222" stroke-width="0.9"/>
<text x="452.8" y="147.5">sgNTC</text>
<rect x="489" y="142.6" width="9.2" height="5.2" fill="#ffffff" stroke="#222" stroke-width="0.9"/>
<text x="502.2" y="147.5">sg<tspan font-style="italic">Vdac2</tspan></text>
<line x1="448.4" y1="162.9" x2="448.4" y2="211.4" stroke="#3a3a3a" stroke-width="0.7"/>
<line x1="446.4" y1="211.4" x2="448.4" y2="211.4" stroke="#3a3a3a" stroke-width="0.7"/>
<text x="442.5" y="213.7" text-anchor="end">0</text>
<line x1="446.4" y1="201.7" x2="448.4" y2="201.7" stroke="#3a3a3a" stroke-width="0.7"/>
<text x="442.5" y="204" text-anchor="end">10</text>
<line x1="446.4" y1="192" x2="448.4" y2="192" stroke="#3a3a3a" stroke-width="0.7"/>
<text x="442.5" y="194.3" text-anchor="end">20</text>
<line x1="446.4" y1="182.3" x2="448.4" y2="182.3" stroke="#3a3a3a" stroke-width="0.7"/>
<text x="442.5" y="184.6" text-anchor="end">30</text>
<line x1="446.4" y1="172.6" x2="448.4" y2="172.6" stroke="#3a3a3a" stroke-width="0.7"/>
<text x="442.5" y="174.9" text-anchor="end">40</text>
<line x1="446.4" y1="162.9" x2="448.4" y2="162.9" stroke="#3a3a3a" stroke-width="0.7"/>
<text x="442.5" y="165.2" text-anchor="end">50</text>
<line x1="448.4" y1="211.4" x2="472" y2="211.4" stroke="#3a3a3a" stroke-width="0.7"/>
<rect x="452.6" y="195.98" width="7.2" height="15.42" fill="#7f7f7f" stroke="#222" stroke-width="0.75"/>
<line x1="456.2" y1="195.98" x2="456.2" y2="194.72" stroke="#e8352b" stroke-width="0.75"/>
<line x1="454.7" y1="194.72" x2="457.7" y2="194.72" stroke="#e8352b" stroke-width="0.75"/>
<circle cx="454.2" cy="199.76" r="0.85" fill="none" stroke="#2a2a2a" stroke-width="0.55"/>
<circle cx="455.53" cy="197.82" r="0.85" fill="none" stroke="#2a2a2a" stroke-width="0.55"/>
<circle cx="456.87" cy="196.37" r="0.85" fill="none" stroke="#2a2a2a" stroke-width="0.55"/>
<circle cx="458.2" cy="195.4" r="0.85" fill="none" stroke="#2a2a2a" stroke-width="0.55"/>
<circle cx="454.87" cy="193.94" r="0.85" fill="none" stroke="#2a2a2a" stroke-width="0.55"/>
<circle cx="456.2" cy="192" r="0.85" fill="none" stroke="#2a2a2a" stroke-width="0.55"/>
<circle cx="457.53" cy="190.55" r="0.85" fill="none" stroke="#2a2a2a" stroke-width="0.55"/>
<rect x="462.8" y="183.85" width="7" height="27.55" fill="#ffffff" stroke="#222" stroke-width="0.75"/>
<line x1="466.3" y1="183.85" x2="466.3" y2="181.72" stroke="#e8352b" stroke-width="0.75"/>
<line x1="464.8" y1="181.72" x2="467.8" y2="181.72" stroke="#e8352b" stroke-width="0.75"/>
<circle cx="464.3" cy="188.12" r="0.85" fill="none" stroke="#777" stroke-width="0.55"/>
<circle cx="465.63" cy="186.18" r="0.85" fill="none" stroke="#777" stroke-width="0.55"/>
<circle cx="466.97" cy="184.72" r="0.85" fill="none" stroke="#777" stroke-width="0.55"/>
<circle cx="468.3" cy="183.27" r="0.85" fill="none" stroke="#777" stroke-width="0.55"/>
<circle cx="464.97" cy="181.81" r="0.85" fill="none" stroke="#777" stroke-width="0.55"/>
<circle cx="466.3" cy="172.6" r="0.85" fill="none" stroke="#777" stroke-width="0.55"/>
<line x1="454.6" y1="167.5" x2="466.1" y2="167.5" stroke="#333" stroke-width="0.7"/>
<text x="460.35" y="168.9" text-anchor="middle" font-size="8.5">**</text>
<text x="461" y="221.2" text-anchor="middle">Day 15</text>
<text x="419.7" y="185.5" text-anchor="middle" font-size="6.3" transform="rotate(-90 419.7 185.5)">IFNγ<tspan dy="-2.4" font-size="4.3">+</tspan><tspan dy="2.4">TNF</tspan><tspan dy="-2.4" font-size="4.3">+</tspan><tspan dy="2.4"> among</tspan></text>
<text x="426.6" y="186.6" text-anchor="middle" font-size="6.3" transform="rotate(-90 426.6 186.6)">CD8<tspan dy="-2.4" font-size="4.3">+</tspan><tspan dy="2.4"> T cells (%)</tspan></text>
<line x1="515.5" y1="163.05" x2="515.5" y2="211.2" stroke="#3a3a3a" stroke-width="0.7"/>
<line x1="513.5" y1="211.2" x2="515.5" y2="211.2" stroke="#3a3a3a" stroke-width="0.7"/>
<text x="509.3" y="213.5" text-anchor="end">0</text>
<line x1="513.5" y1="195.15" x2="515.5" y2="195.15" stroke="#3a3a3a" stroke-width="0.7"/>
<text x="509.3" y="197.45" text-anchor="end">5</text>
<line x1="513.5" y1="179.1" x2="515.5" y2="179.1" stroke="#3a3a3a" stroke-width="0.7"/>
<text x="509.3" y="181.4" text-anchor="end">10</text>
<line x1="513.5" y1="163.05" x2="515.5" y2="163.05" stroke="#3a3a3a" stroke-width="0.7"/>
<text x="509.3" y="165.35" text-anchor="end">15</text>
<line x1="515.5" y1="211.2" x2="538.4" y2="211.2" stroke="#3a3a3a" stroke-width="0.7"/>
<rect x="518.5" y="204.14" width="7.5" height="7.06" fill="#7f7f7f" stroke="#222" stroke-width="0.75"/>
<line x1="522.25" y1="204.14" x2="522.25" y2="203.17" stroke="#e8352b" stroke-width="0.75"/>
<line x1="520.75" y1="203.17" x2="523.75" y2="203.17" stroke="#e8352b" stroke-width="0.75"/>
<circle cx="520.25" cy="206.06" r="0.85" fill="none" stroke="#2a2a2a" stroke-width="0.55"/>
<circle cx="521.58" cy="205.1" r="0.85" fill="none" stroke="#2a2a2a" stroke-width="0.55"/>
<circle cx="522.92" cy="204.46" r="0.85" fill="none" stroke="#2a2a2a" stroke-width="0.55"/>
<circle cx="524.25" cy="203.82" r="0.85" fill="none" stroke="#2a2a2a" stroke-width="0.55"/>
<circle cx="520.92" cy="203.17" r="0.85" fill="none" stroke="#2a2a2a" stroke-width="0.55"/>
<circle cx="522.25" cy="200.93" r="0.85" fill="none" stroke="#2a2a2a" stroke-width="0.55"/>
<rect x="529.2" y="187.45" width="6.9" height="23.75" fill="#ffffff" stroke="#222" stroke-width="0.75"/>
<line x1="532.65" y1="187.45" x2="532.65" y2="183.91" stroke="#e8352b" stroke-width="0.75"/>
<line x1="531.15" y1="183.91" x2="534.15" y2="183.91" stroke="#e8352b" stroke-width="0.75"/>
<circle cx="530.65" cy="203.17" r="0.85" fill="none" stroke="#777" stroke-width="0.55"/>
<circle cx="531.98" cy="198.36" r="0.85" fill="none" stroke="#777" stroke-width="0.55"/>
<circle cx="533.32" cy="191.94" r="0.85" fill="none" stroke="#777" stroke-width="0.55"/>
<circle cx="534.65" cy="187.12" r="0.85" fill="none" stroke="#777" stroke-width="0.55"/>
<circle cx="531.32" cy="183.91" r="0.85" fill="none" stroke="#777" stroke-width="0.55"/>
<circle cx="532.65" cy="166.9" r="0.85" fill="none" stroke="#777" stroke-width="0.55"/>
<line x1="520" y1="159.9" x2="534.5" y2="159.9" stroke="#333" stroke-width="0.7"/>
<text x="527.25" y="161.3" text-anchor="middle" font-size="8.5">**</text>
<text x="527.2" y="222" text-anchor="middle">Day 15</text>
<text x="487" y="185.9" text-anchor="middle" font-size="6.3" transform="rotate(-90 487 185.9)">IFNγ<tspan dy="-2.4" font-size="4.3">+</tspan><tspan dy="2.4">TNF</tspan><tspan dy="-2.4" font-size="4.3">+</tspan><tspan dy="2.4">CD8</tspan><tspan dy="-2.4" font-size="4.3">+</tspan><tspan dy="2.4"> T cells</tspan></text>
<text x="495.2" y="186.5" text-anchor="middle" font-size="6.3" transform="rotate(-90 495.2 186.5)">(×10<tspan dy="-2.4" font-size="4.3">5</tspan><tspan dy="2.4"> per g tumour)</tspan></text>
<text x="550.5" y="144.3" font-weight="bold" font-size="10.5" fill="#000" stroke="#000" stroke-width="0.3">i</text>
<rect x="579" y="142.6" width="9.2" height="5.2" fill="#7f7f7f" stroke="#222" stroke-width="0.9"/>
<text x="592" y="147.5">sgNTC</text>
<rect x="630.4" y="142.6" width="9.2" height="5.2" fill="#ffffff" stroke="#222" stroke-width="0.9"/>
<text x="642.8" y="147.5">sg<tspan font-style="italic">Vdac2</tspan></text>
<line x1="587.8" y1="162.8" x2="587.8" y2="211.4" stroke="#3a3a3a" stroke-width="0.7"/>
<line x1="585.8" y1="211.4" x2="587.8" y2="211.4" stroke="#3a3a3a" stroke-width="0.7"/>
<text x="581.9" y="213.7" text-anchor="end">0</text>
<line x1="585.8" y1="201.68" x2="587.8" y2="201.68" stroke="#3a3a3a" stroke-width="0.7"/>
<text x="581.9" y="203.98" text-anchor="end">10</text>
<line x1="585.8" y1="191.96" x2="587.8" y2="191.96" stroke="#3a3a3a" stroke-width="0.7"/>
<text x="581.9" y="194.26" text-anchor="end">20</text>
<line x1="585.8" y1="182.24" x2="587.8" y2="182.24" stroke="#3a3a3a" stroke-width="0.7"/>
<text x="581.9" y="184.54" text-anchor="end">30</text>
<line x1="585.8" y1="172.52" x2="587.8" y2="172.52" stroke="#3a3a3a" stroke-width="0.7"/>
<text x="581.9" y="174.82" text-anchor="end">40</text>
<line x1="585.8" y1="162.8" x2="587.8" y2="162.8" stroke="#3a3a3a" stroke-width="0.7"/>
<text x="581.9" y="165.1" text-anchor="end">50</text>
<line x1="587.8" y1="211.4" x2="611.6" y2="211.4" stroke="#3a3a3a" stroke-width="0.7"/>
<rect x="591" y="192.93" width="7.4" height="18.47" fill="#7f7f7f" stroke="#222" stroke-width="0.75"/>
<line x1="594.7" y1="192.93" x2="594.7" y2="190.02" stroke="#e8352b" stroke-width="0.75"/>
<line x1="593.2" y1="190.02" x2="596.2" y2="190.02" stroke="#e8352b" stroke-width="0.75"/>
<circle cx="592.7" cy="203.62" r="0.85" fill="none" stroke="#2a2a2a" stroke-width="0.55"/>
<circle cx="594.03" cy="199.74" r="0.85" fill="none" stroke="#2a2a2a" stroke-width="0.55"/>
<circle cx="595.37" cy="195.85" r="0.85" fill="none" stroke="#2a2a2a" stroke-width="0.55"/>
<circle cx="596.7" cy="192.93" r="0.85" fill="none" stroke="#2a2a2a" stroke-width="0.55"/>
<circle cx="593.37" cy="190.02" r="0.85" fill="none" stroke="#2a2a2a" stroke-width="0.55"/>
<circle cx="594.7" cy="184.18" r="0.85" fill="none" stroke="#2a2a2a" stroke-width="0.55"/>
<circle cx="596.03" cy="177.38" r="0.85" fill="none" stroke="#2a2a2a" stroke-width="0.55"/>
<rect x="601.5" y="189.04" width="6.7" height="22.36" fill="#ffffff" stroke="#222" stroke-width="0.75"/>
<line x1="604.85" y1="189.04" x2="604.85" y2="185.16" stroke="#e8352b" stroke-width="0.75"/>
<line x1="603.35" y1="185.16" x2="606.35" y2="185.16" stroke="#e8352b" stroke-width="0.75"/>
<circle cx="602.85" cy="195.85" r="0.85" fill="none" stroke="#777" stroke-width="0.55"/>
<circle cx="604.18" cy="193.9" r="0.85" fill="none" stroke="#777" stroke-width="0.55"/>
<circle cx="605.52" cy="190.02" r="0.85" fill="none" stroke="#777" stroke-width="0.55"/>
<circle cx="606.85" cy="186.13" r="0.85" fill="none" stroke="#777" stroke-width="0.55"/>
<circle cx="603.52" cy="172.52" r="0.85" fill="none" stroke="#777" stroke-width="0.55"/>
<line x1="592" y1="163.6" x2="606" y2="163.6" stroke="#333" stroke-width="0.7"/>
<text x="599" y="161.6" text-anchor="middle" font-size="6.8">NS</text>
<text x="598" y="221.2" text-anchor="middle">Day 15</text>
<text x="557.8" y="187.7" text-anchor="middle" font-size="6.3" transform="rotate(-90 557.8 187.7)">GZMB<tspan dy="-2.4" font-size="4.3">+</tspan><tspan dy="2.4"> cells among</tspan></text>
<text x="565.3" y="186.6" text-anchor="middle" font-size="6.3" transform="rotate(-90 565.3 186.6)">CD8<tspan dy="-2.4" font-size="4.3">+</tspan><tspan dy="2.4"> T cells (%)</tspan></text>
<line x1="654" y1="162.68" x2="654" y2="211.4" stroke="#3a3a3a" stroke-width="0.7"/>
<line x1="652" y1="211.4" x2="654" y2="211.4" stroke="#3a3a3a" stroke-width="0.7"/>
<text x="648.1" y="213.7" text-anchor="end">0</text>
<line x1="652" y1="199.22" x2="654" y2="199.22" stroke="#3a3a3a" stroke-width="0.7"/>
<text x="648.1" y="201.52" text-anchor="end">2</text>
<line x1="652" y1="187.04" x2="654" y2="187.04" stroke="#3a3a3a" stroke-width="0.7"/>
<text x="648.1" y="189.34" text-anchor="end">4</text>
<line x1="652" y1="174.86" x2="654" y2="174.86" stroke="#3a3a3a" stroke-width="0.7"/>
<text x="648.1" y="177.16" text-anchor="end">6</text>
<line x1="652" y1="162.68" x2="654" y2="162.68" stroke="#3a3a3a" stroke-width="0.7"/>
<text x="648.1" y="164.98" text-anchor="end">8</text>
<line x1="654" y1="211.4" x2="677.5" y2="211.4" stroke="#3a3a3a" stroke-width="0.7"/>
<rect x="657.3" y="200.13" width="7.5" height="11.27" fill="#7f7f7f" stroke="#222" stroke-width="0.75"/>
<line x1="661.05" y1="200.13" x2="661.05" y2="198.61" stroke="#e8352b" stroke-width="0.75"/>
<line x1="659.55" y1="198.61" x2="662.55" y2="198.61" stroke="#e8352b" stroke-width="0.75"/>
<circle cx="659.05" cy="207.75" r="0.85" fill="none" stroke="#2a2a2a" stroke-width="0.55"/>
<circle cx="660.38" cy="205.31" r="0.85" fill="none" stroke="#2a2a2a" stroke-width="0.55"/>
<circle cx="661.72" cy="202.87" r="0.85" fill="none" stroke="#2a2a2a" stroke-width="0.55"/>
<circle cx="663.05" cy="200.44" r="0.85" fill="none" stroke="#2a2a2a" stroke-width="0.55"/>
<circle cx="659.72" cy="198" r="0.85" fill="none" stroke="#2a2a2a" stroke-width="0.55"/>
<circle cx="661.05" cy="195.57" r="0.85" fill="none" stroke="#2a2a2a" stroke-width="0.55"/>
<circle cx="662.38" cy="190.69" r="0.85" fill="none" stroke="#2a2a2a" stroke-width="0.55"/>
<rect x="668.1" y="182.78" width="6.8" height="28.62" fill="#ffffff" stroke="#222" stroke-width="0.75"/>
<line x1="671.5" y1="182.78" x2="671.5" y2="179.43" stroke="#e8352b" stroke-width="0.75"/>
<line x1="670" y1="179.43" x2="673" y2="179.43" stroke="#e8352b" stroke-width="0.75"/>
<circle cx="669.5" cy="190.09" r="0.85" fill="none" stroke="#777" stroke-width="0.55"/>
<circle cx="670.83" cy="187.04" r="0.85" fill="none" stroke="#777" stroke-width="0.55"/>
<circle cx="672.17" cy="183.39" r="0.85" fill="none" stroke="#777" stroke-width="0.55"/>
<circle cx="673.5" cy="179.73" r="0.85" fill="none" stroke="#777" stroke-width="0.55"/>
<circle cx="670.17" cy="174.86" r="0.85" fill="none" stroke="#777" stroke-width="0.55"/>
<circle cx="671.5" cy="171.21" r="0.85" fill="none" stroke="#777" stroke-width="0.55"/>
<line x1="660" y1="163.5" x2="673" y2="163.5" stroke="#333" stroke-width="0.7"/>
<text x="666.5" y="164.9" text-anchor="middle" font-size="8.5">***</text>
<text x="666.2" y="220.8" text-anchor="middle">Day 15</text>
<text x="630.7" y="187.1" text-anchor="middle" font-size="6.3" transform="rotate(-90 630.7 187.1)">GZMB<tspan dy="-2.4" font-size="4.3">+</tspan><tspan dy="2.4">CD8</tspan><tspan dy="-2.4" font-size="4.3">+</tspan><tspan dy="2.4"> T cells</tspan></text>
<text x="637.9" y="186.6" text-anchor="middle" font-size="6.3" transform="rotate(-90 637.9 186.6)">(×10<tspan dy="-2.4" font-size="4.3">6</tspan><tspan dy="2.4"> per g tumour)</tspan></text>
<text x="1" y="256.9" font-weight="bold" font-size="10.5" fill="#000" stroke="#000" stroke-width="0.3">j</text>
<line x1="30.1" y1="263" x2="30.1" y2="312.6" stroke="#3a3a3a" stroke-width="0.7"/>
<line x1="30.1" y1="312.6" x2="78" y2="312.6" stroke="#3a3a3a" stroke-width="0.7"/>
<line x1="28.3" y1="312" x2="30.1" y2="312" stroke="#3a3a3a" stroke-width="0.7"/>
<text x="26.5" y="314.3" text-anchor="end">0</text>
<line x1="28.3" y1="299.75" x2="30.1" y2="299.75" stroke="#3a3a3a" stroke-width="0.7"/>
<text x="26.5" y="302.05" text-anchor="end">5</text>
<line x1="28.3" y1="287.5" x2="30.1" y2="287.5" stroke="#3a3a3a" stroke-width="0.7"/>
<text x="26.5" y="289.8" text-anchor="end">10</text>
<line x1="28.3" y1="275.25" x2="30.1" y2="275.25" stroke="#3a3a3a" stroke-width="0.7"/>
<text x="26.5" y="277.55" text-anchor="end">15</text>
<line x1="28.3" y1="263" x2="30.1" y2="263" stroke="#3a3a3a" stroke-width="0.7"/>
<text x="26.5" y="265.3" text-anchor="end">20</text>
<line x1="36.3" y1="312.6" x2="36.3" y2="314.4" stroke="#3a3a3a" stroke-width="0.7"/>
<text x="36.3" y="323.2" text-anchor="middle">7</text>
<line x1="51.58" y1="312.6" x2="51.58" y2="314.4" stroke="#3a3a3a" stroke-width="0.7"/>
<text x="51.58" y="323.2" text-anchor="middle">11</text>
<line x1="66.86" y1="312.6" x2="66.86" y2="314.4" stroke="#3a3a3a" stroke-width="0.7"/>
<text x="66.86" y="323.2" text-anchor="middle">15</text>
<line x1="43.94" y1="312.6" x2="43.94" y2="313.9" stroke="#3a3a3a" stroke-width="0.7"/>
<line x1="59.22" y1="312.6" x2="59.22" y2="313.9" stroke="#3a3a3a" stroke-width="0.7"/>
<line x1="74.5" y1="312.6" x2="74.5" y2="313.9" stroke="#3a3a3a" stroke-width="0.7"/>
<text x="55.5" y="263.6" text-anchor="middle">B16-OVA</text>
<text x="52.4" y="331.5" text-anchor="middle">Days after inoculation</text>
<text x="12.6" y="289.4" text-anchor="middle" transform="rotate(-90 12.6 289.4)">Tumour size (×10<tspan dy="-2.4" font-size="4.3">2</tspan><tspan dy="2.4"> mm</tspan><tspan dy="-2.4" font-size="4.3">3</tspan><tspan dy="2.4">)</tspan></text>
<line x1="36.3" y1="310.53" x2="36.3" y2="309.55" stroke="#3a3a3a" stroke-width="0.6"/>
<line x1="35.3" y1="309.55" x2="37.3" y2="309.55" stroke="#3a3a3a" stroke-width="0.6"/>
<line x1="35.3" y1="310.53" x2="37.3" y2="310.53" stroke="#3a3a3a" stroke-width="0.6"/>
<line x1="43.94" y1="310.29" x2="43.94" y2="308.81" stroke="#3a3a3a" stroke-width="0.6"/>
<line x1="42.94" y1="308.81" x2="44.94" y2="308.81" stroke="#3a3a3a" stroke-width="0.6"/>
<line x1="42.94" y1="310.29" x2="44.94" y2="310.29" stroke="#3a3a3a" stroke-width="0.6"/>
<line x1="51.58" y1="306.86" x2="51.58" y2="304.4" stroke="#3a3a3a" stroke-width="0.6"/>
<line x1="50.58" y1="304.4" x2="52.58" y2="304.4" stroke="#3a3a3a" stroke-width="0.6"/>
<line x1="50.58" y1="306.86" x2="52.58" y2="306.86" stroke="#3a3a3a" stroke-width="0.6"/>
<line x1="59.22" y1="302.2" x2="59.22" y2="297.3" stroke="#3a3a3a" stroke-width="0.6"/>
<line x1="58.22" y1="297.3" x2="60.22" y2="297.3" stroke="#3a3a3a" stroke-width="0.6"/>
<line x1="58.22" y1="302.2" x2="60.22" y2="302.2" stroke="#3a3a3a" stroke-width="0.6"/>
<line x1="66.86" y1="295.1" x2="66.86" y2="286.27" stroke="#3a3a3a" stroke-width="0.6"/>
<line x1="65.86" y1="286.27" x2="67.86" y2="286.27" stroke="#3a3a3a" stroke-width="0.6"/>
<line x1="65.86" y1="295.1" x2="67.86" y2="295.1" stroke="#3a3a3a" stroke-width="0.6"/>
<line x1="74.5" y1="284.56" x2="74.5" y2="279.66" stroke="#3a3a3a" stroke-width="0.6"/>
<line x1="73.5" y1="279.66" x2="75.5" y2="279.66" stroke="#3a3a3a" stroke-width="0.6"/>
<line x1="73.5" y1="284.56" x2="75.5" y2="284.56" stroke="#3a3a3a" stroke-width="0.6"/>
<polyline points="36.3,310.04 43.94,309.55 51.58,305.63 59.22,299.75 66.86,290.69 74.5,282.11" fill="none" stroke="#3a3a3a" stroke-width="1.1"/>
<path d="M36.3,308.44 l1.6,1.6 l-1.6,1.6 l-1.6,-1.6 Z" fill="#3a3a3a"/>
<path d="M43.94,307.95 l1.6,1.6 l-1.6,1.6 l-1.6,-1.6 Z" fill="#3a3a3a"/>
<path d="M51.58,304.03 l1.6,1.6 l-1.6,1.6 l-1.6,-1.6 Z" fill="#3a3a3a"/>
<path d="M59.22,298.15 l1.6,1.6 l-1.6,1.6 l-1.6,-1.6 Z" fill="#3a3a3a"/>
<path d="M66.86,289.08 l1.6,1.6 l-1.6,1.6 l-1.6,-1.6 Z" fill="#3a3a3a"/>
<path d="M74.5,280.51 l1.6,1.6 l-1.6,1.6 l-1.6,-1.6 Z" fill="#3a3a3a"/>
<line x1="36.3" y1="311.02" x2="36.3" y2="310.04" stroke="#2DB88F" stroke-width="0.6"/>
<line x1="35.3" y1="310.04" x2="37.3" y2="310.04" stroke="#2DB88F" stroke-width="0.6"/>
<line x1="35.3" y1="311.02" x2="37.3" y2="311.02" stroke="#2DB88F" stroke-width="0.6"/>
<line x1="43.94" y1="311.26" x2="43.94" y2="310.29" stroke="#2DB88F" stroke-width="0.6"/>
<line x1="42.94" y1="310.29" x2="44.94" y2="310.29" stroke="#2DB88F" stroke-width="0.6"/>
<line x1="42.94" y1="311.26" x2="44.94" y2="311.26" stroke="#2DB88F" stroke-width="0.6"/>
<line x1="51.58" y1="310.29" x2="51.58" y2="308.81" stroke="#2DB88F" stroke-width="0.6"/>
<line x1="50.58" y1="308.81" x2="52.58" y2="308.81" stroke="#2DB88F" stroke-width="0.6"/>
<line x1="50.58" y1="310.29" x2="52.58" y2="310.29" stroke="#2DB88F" stroke-width="0.6"/>
<line x1="59.22" y1="309.06" x2="59.22" y2="307.1" stroke="#2DB88F" stroke-width="0.6"/>
<line x1="58.22" y1="307.1" x2="60.22" y2="307.1" stroke="#2DB88F" stroke-width="0.6"/>
<line x1="58.22" y1="309.06" x2="60.22" y2="309.06" stroke="#2DB88F" stroke-width="0.6"/>
<line x1="66.86" y1="306.12" x2="66.86" y2="301.22" stroke="#2DB88F" stroke-width="0.6"/>
<line x1="65.86" y1="301.22" x2="67.86" y2="301.22" stroke="#2DB88F" stroke-width="0.6"/>
<line x1="65.86" y1="306.12" x2="67.86" y2="306.12" stroke="#2DB88F" stroke-width="0.6"/>
<line x1="74.5" y1="304.16" x2="74.5" y2="297.79" stroke="#2DB88F" stroke-width="0.6"/>
<line x1="73.5" y1="297.79" x2="75.5" y2="297.79" stroke="#2DB88F" stroke-width="0.6"/>
<line x1="73.5" y1="304.16" x2="75.5" y2="304.16" stroke="#2DB88F" stroke-width="0.6"/>
<polyline points="36.3,310.53 43.94,310.77 51.58,309.55 59.22,308.08 66.86,303.67 74.5,300.98" fill="none" stroke="#2DB88F" stroke-width="1.1"/>
<path d="M36.3,308.93 l1.6,1.6 l-1.6,1.6 l-1.6,-1.6 Z" fill="#2DB88F"/>
<path d="M43.94,309.17 l1.6,1.6 l-1.6,1.6 l-1.6,-1.6 Z" fill="#2DB88F"/>
<path d="M51.58,307.95 l1.6,1.6 l-1.6,1.6 l-1.6,-1.6 Z" fill="#2DB88F"/>
<path d="M59.22,306.48 l1.6,1.6 l-1.6,1.6 l-1.6,-1.6 Z" fill="#2DB88F"/>
<path d="M66.86,302.07 l1.6,1.6 l-1.6,1.6 l-1.6,-1.6 Z" fill="#2DB88F"/>
<path d="M74.5,299.38 l1.6,1.6 l-1.6,1.6 l-1.6,-1.6 Z" fill="#2DB88F"/>
<line x1="36.3" y1="310.53" x2="36.3" y2="309.55" stroke="#F0A050" stroke-width="0.6"/>
<line x1="35.3" y1="309.55" x2="37.3" y2="309.55" stroke="#F0A050" stroke-width="0.6"/>
<line x1="35.3" y1="310.53" x2="37.3" y2="310.53" stroke="#F0A050" stroke-width="0.6"/>
<line x1="43.94" y1="309.8" x2="43.94" y2="308.32" stroke="#F0A050" stroke-width="0.6"/>
<line x1="42.94" y1="308.32" x2="44.94" y2="308.32" stroke="#F0A050" stroke-width="0.6"/>
<line x1="42.94" y1="309.8" x2="44.94" y2="309.8" stroke="#F0A050" stroke-width="0.6"/>
<line x1="51.58" y1="305.38" x2="51.58" y2="302.44" stroke="#F0A050" stroke-width="0.6"/>
<line x1="50.58" y1="302.44" x2="52.58" y2="302.44" stroke="#F0A050" stroke-width="0.6"/>
<line x1="50.58" y1="305.38" x2="52.58" y2="305.38" stroke="#F0A050" stroke-width="0.6"/>
<line x1="59.22" y1="297.79" x2="59.22" y2="290.44" stroke="#F0A050" stroke-width="0.6"/>
<line x1="58.22" y1="290.44" x2="60.22" y2="290.44" stroke="#F0A050" stroke-width="0.6"/>
<line x1="58.22" y1="297.79" x2="60.22" y2="297.79" stroke="#F0A050" stroke-width="0.6"/>
<line x1="66.86" y1="285.54" x2="66.86" y2="275.74" stroke="#F0A050" stroke-width="0.6"/>
<line x1="65.86" y1="275.74" x2="67.86" y2="275.74" stroke="#F0A050" stroke-width="0.6"/>
<line x1="65.86" y1="285.54" x2="67.86" y2="285.54" stroke="#F0A050" stroke-width="0.6"/>
<line x1="74.5" y1="276.23" x2="74.5" y2="269.37" stroke="#F0A050" stroke-width="0.6"/>
<line x1="73.5" y1="269.37" x2="75.5" y2="269.37" stroke="#F0A050" stroke-width="0.6"/>
<line x1="73.5" y1="276.23" x2="75.5" y2="276.23" stroke="#F0A050" stroke-width="0.6"/>
<polyline points="36.3,310.04 43.94,309.06 51.58,303.92 59.22,294.12 66.86,280.64 74.5,272.8" fill="none" stroke="#F0A050" stroke-width="1.1"/>
<path d="M36.3,308.44 l1.6,1.6 l-1.6,1.6 l-1.6,-1.6 Z" fill="#F0A050"/>
<path d="M43.94,307.46 l1.6,1.6 l-1.6,1.6 l-1.6,-1.6 Z" fill="#F0A050"/>
<path d="M51.58,302.31 l1.6,1.6 l-1.6,1.6 l-1.6,-1.6 Z" fill="#F0A050"/>
<path d="M59.22,292.51 l1.6,1.6 l-1.6,1.6 l-1.6,-1.6 Z" fill="#F0A050"/>
<path d="M66.86,279.04 l1.6,1.6 l-1.6,1.6 l-1.6,-1.6 Z" fill="#F0A050"/>
<path d="M74.5,271.2 l1.6,1.6 l-1.6,1.6 l-1.6,-1.6 Z" fill="#F0A050"/>
<line x1="36.3" y1="310.29" x2="36.3" y2="309.31" stroke="#3366F0" stroke-width="0.6"/>
<line x1="35.3" y1="309.31" x2="37.3" y2="309.31" stroke="#3366F0" stroke-width="0.6"/>
<line x1="35.3" y1="310.29" x2="37.3" y2="310.29" stroke="#3366F0" stroke-width="0.6"/>
<line x1="43.94" y1="309.55" x2="43.94" y2="308.08" stroke="#3366F0" stroke-width="0.6"/>
<line x1="42.94" y1="308.08" x2="44.94" y2="308.08" stroke="#3366F0" stroke-width="0.6"/>
<line x1="42.94" y1="309.55" x2="44.94" y2="309.55" stroke="#3366F0" stroke-width="0.6"/>
<line x1="51.58" y1="304.89" x2="51.58" y2="301.46" stroke="#3366F0" stroke-width="0.6"/>
<line x1="50.58" y1="301.46" x2="52.58" y2="301.46" stroke="#3366F0" stroke-width="0.6"/>
<line x1="50.58" y1="304.89" x2="52.58" y2="304.89" stroke="#3366F0" stroke-width="0.6"/>
<line x1="59.22" y1="297.3" x2="59.22" y2="287.5" stroke="#3366F0" stroke-width="0.6"/>
<line x1="58.22" y1="287.5" x2="60.22" y2="287.5" stroke="#3366F0" stroke-width="0.6"/>
<line x1="58.22" y1="297.3" x2="60.22" y2="297.3" stroke="#3366F0" stroke-width="0.6"/>
<line x1="66.86" y1="286.52" x2="66.86" y2="273.78" stroke="#3366F0" stroke-width="0.6"/>
<line x1="65.86" y1="273.78" x2="67.86" y2="273.78" stroke="#3366F0" stroke-width="0.6"/>
<line x1="65.86" y1="286.52" x2="67.86" y2="286.52" stroke="#3366F0" stroke-width="0.6"/>
<line x1="74.5" y1="275.5" x2="74.5" y2="267.65" stroke="#3366F0" stroke-width="0.6"/>
<line x1="73.5" y1="267.65" x2="75.5" y2="267.65" stroke="#3366F0" stroke-width="0.6"/>
<line x1="73.5" y1="275.5" x2="75.5" y2="275.5" stroke="#3366F0" stroke-width="0.6"/>
<polyline points="36.3,309.8 43.94,308.81 51.58,303.18 59.22,292.4 66.86,280.15 74.5,271.57" fill="none" stroke="#3366F0" stroke-width="1.1"/>
<path d="M36.3,308.19 l1.6,1.6 l-1.6,1.6 l-1.6,-1.6 Z" fill="#3366F0"/>
<path d="M43.94,307.21 l1.6,1.6 l-1.6,1.6 l-1.6,-1.6 Z" fill="#3366F0"/>
<path d="M51.58,301.58 l1.6,1.6 l-1.6,1.6 l-1.6,-1.6 Z" fill="#3366F0"/>
<path d="M59.22,290.8 l1.6,1.6 l-1.6,1.6 l-1.6,-1.6 Z" fill="#3366F0"/>
<path d="M66.86,278.55 l1.6,1.6 l-1.6,1.6 l-1.6,-1.6 Z" fill="#3366F0"/>
<path d="M74.5,269.97 l1.6,1.6 l-1.6,1.6 l-1.6,-1.6 Z" fill="#3366F0"/>
<line x1="83.4" y1="273.5" x2="91" y2="273.5" stroke="#3a3a3a" stroke-width="0.9"/>
<path d="M87.2,272 l1.5,1.5 l-1.5,1.5 l-1.5,-1.5 Z" fill="#3a3a3a"/>
<text x="93.8" y="275.8">sgNTC + isotype (<tspan font-style="italic">n</tspan> = 6)</text>
<line x1="83.4" y1="282.5" x2="91" y2="282.5" stroke="#2DB88F" stroke-width="0.9"/>
<path d="M87.2,281 l1.5,1.5 l-1.5,1.5 l-1.5,-1.5 Z" fill="#2DB88F"/>
<text x="93.8" y="284.8">sg<tspan font-style="italic">Vdac2</tspan> + isotype (<tspan font-style="italic">n</tspan> = 5)</text>
<line x1="83.4" y1="291" x2="91" y2="291" stroke="#F0A050" stroke-width="0.9"/>
<path d="M87.2,289.5 l1.5,1.5 l-1.5,1.5 l-1.5,-1.5 Z" fill="#F0A050"/>
<text x="93.8" y="293.3">sgNTC + anti-IFNγ (<tspan font-style="italic">n</tspan> = 6)</text>
<line x1="83.4" y1="299.3" x2="91" y2="299.3" stroke="#3366F0" stroke-width="0.9"/>
<path d="M87.2,297.8 l1.5,1.5 l-1.5,1.5 l-1.5,-1.5 Z" fill="#3366F0"/>
<text x="93.8" y="301.6">sg<tspan font-style="italic">Vdac2</tspan> + anti-IFNγ (<tspan font-style="italic">n</tspan> = 6)</text>
<line x1="169.9" y1="272.8" x2="169.9" y2="282.4" stroke="#333" stroke-width="0.6"/>
<text x="171.6" y="277.6" text-anchor="middle" font-size="6.5" transform="rotate(90 171.6 277.6)">***</text>
<line x1="175" y1="290.3" x2="175" y2="299.9" stroke="#333" stroke-width="0.6"/>
<text x="177" y="295.1" text-anchor="middle" transform="rotate(90 177 295.1)">NS</text>
<line x1="183.5" y1="272.8" x2="183.5" y2="289.7" stroke="#333" stroke-width="0.6"/>
<text x="185.4" y="281.6" text-anchor="middle" transform="rotate(90 185.4 281.6)">*</text>
<text x="203.4" y="257.1" font-weight="bold" font-size="10.5" fill="#000" stroke="#000" stroke-width="0.3">k</text>
<line x1="234.6" y1="271.2" x2="234.6" y2="312.4" stroke="#3a3a3a" stroke-width="0.7"/>
<line x1="232.6" y1="312.4" x2="234.6" y2="312.4" stroke="#3a3a3a" stroke-width="0.7"/>
<text x="230.2" y="314.7" text-anchor="end">0</text>
<line x1="232.6" y1="302.1" x2="234.6" y2="302.1" stroke="#3a3a3a" stroke-width="0.7"/>
<text x="230.2" y="304.4" text-anchor="end">2</text>
<line x1="232.6" y1="291.8" x2="234.6" y2="291.8" stroke="#3a3a3a" stroke-width="0.7"/>
<text x="230.2" y="294.1" text-anchor="end">4</text>
<line x1="232.6" y1="281.5" x2="234.6" y2="281.5" stroke="#3a3a3a" stroke-width="0.7"/>
<text x="230.2" y="283.8" text-anchor="end">6</text>
<line x1="232.6" y1="271.2" x2="234.6" y2="271.2" stroke="#3a3a3a" stroke-width="0.7"/>
<text x="230.2" y="273.5" text-anchor="end">8</text>
<line x1="234.6" y1="312.4" x2="275.5" y2="312.4" stroke="#3a3a3a" stroke-width="0.7"/>
<rect x="237.8" y="300.55" width="7" height="11.85" fill="#ffffff" stroke="#222" stroke-width="0.8"/>
<line x1="241.3" y1="300.55" x2="241.3" y2="298.24" stroke="#e8352b" stroke-width="0.75"/>
<line x1="240" y1="298.24" x2="242.6" y2="298.24" stroke="#e8352b" stroke-width="0.75"/>
<circle cx="239.1" cy="304.16" r="1" fill="#222"/>
<circle cx="240.57" cy="301.58" r="1" fill="#222"/>
<circle cx="242.03" cy="300.04" r="1" fill="#222"/>
<circle cx="243.5" cy="299.01" r="1" fill="#222"/>
<circle cx="239.83" cy="291.8" r="1" fill="#222"/>
<rect x="247.2" y="289.22" width="7" height="23.18" fill="#ffffff" stroke="#222" stroke-width="0.8"/>
<line x1="250.7" y1="289.22" x2="250.7" y2="285.62" stroke="#e8352b" stroke-width="0.75"/>
<line x1="249.4" y1="285.62" x2="252" y2="285.62" stroke="#e8352b" stroke-width="0.75"/>
<circle cx="248.5" cy="296.95" r="1.05" fill="#8fdfc6" stroke="#27b08e" stroke-width="0.55"/>
<circle cx="249.97" cy="295.4" r="1.05" fill="#8fdfc6" stroke="#27b08e" stroke-width="0.55"/>
<circle cx="251.43" cy="289.22" r="1.05" fill="#8fdfc6" stroke="#27b08e" stroke-width="0.55"/>
<circle cx="252.9" cy="285.62" r="1.05" fill="#8fdfc6" stroke="#27b08e" stroke-width="0.55"/>
<circle cx="249.23" cy="275.83" r="1.05" fill="#8fdfc6" stroke="#27b08e" stroke-width="0.55"/>
<rect x="256.6" y="303.13" width="7" height="9.27" fill="#ffffff" stroke="#222" stroke-width="0.8"/>
<line x1="260.1" y1="303.13" x2="260.1" y2="301.84" stroke="#F0A050" stroke-width="0.75"/>
<line x1="258.8" y1="301.84" x2="261.4" y2="301.84" stroke="#F0A050" stroke-width="0.75"/>
<circle cx="257.9" cy="305.19" r="1.05" fill="#f6b36f" stroke="#e8892c" stroke-width="0.5"/>
<circle cx="259.37" cy="304.16" r="1.05" fill="#f6b36f" stroke="#e8892c" stroke-width="0.5"/>
<circle cx="260.83" cy="303.13" r="1.05" fill="#f6b36f" stroke="#e8892c" stroke-width="0.5"/>
<circle cx="262.3" cy="302.1" r="1.05" fill="#f6b36f" stroke="#e8892c" stroke-width="0.5"/>
<circle cx="258.63" cy="300.04" r="1.05" fill="#f6b36f" stroke="#e8892c" stroke-width="0.5"/>
<rect x="265.8" y="306.73" width="7" height="5.67" fill="#ffffff" stroke="#222" stroke-width="0.8"/>
<line x1="269.3" y1="306.73" x2="269.3" y2="305.96" stroke="#e8352b" stroke-width="0.75"/>
<line x1="268" y1="305.96" x2="270.6" y2="305.96" stroke="#e8352b" stroke-width="0.75"/>
<circle cx="267.1" cy="308.28" r="0.95" fill="none" stroke="#3366F0" stroke-width="0.7"/>
<circle cx="268.57" cy="307.25" r="0.95" fill="none" stroke="#3366F0" stroke-width="0.7"/>
<circle cx="270.03" cy="306.22" r="0.95" fill="none" stroke="#3366F0" stroke-width="0.7"/>
<circle cx="271.5" cy="304.67" r="0.95" fill="none" stroke="#3366F0" stroke-width="0.7"/>
<circle cx="267.83" cy="303.64" r="0.95" fill="none" stroke="#3366F0" stroke-width="0.7"/>
<line x1="239.7" y1="260.1" x2="261.8" y2="260.1" stroke="#555" stroke-width="0.7"/>
<text x="250.75" y="258.1" text-anchor="middle" font-size="6.8">NS</text>
<line x1="239.7" y1="272.3" x2="251.8" y2="272.3" stroke="#555" stroke-width="0.7"/>
<text x="245.75" y="273.7" text-anchor="middle" font-size="8.5">**</text>
<line x1="249.1" y1="266.9" x2="270.9" y2="266.9" stroke="#555" stroke-width="0.7"/>
<text x="260" y="268.3" text-anchor="middle" font-size="8.5">***</text>
<line x1="257.6" y1="295.6" x2="272.4" y2="295.6" stroke="#555" stroke-width="0.7"/>
<text x="265" y="293.6" text-anchor="middle" font-size="6.8">NS</text>
<text x="255" y="322.3" text-anchor="middle">Day 15</text>
<text x="213" y="292.8" text-anchor="middle" transform="rotate(-90 213 292.8)">CD45<tspan dy="-2.4" font-size="4.3">+</tspan><tspan dy="2.4"> cells</tspan></text>
<text x="220.5" y="292.2" text-anchor="middle" transform="rotate(-90 220.5 292.2)">(×10<tspan dy="-2.4" font-size="4.3">6</tspan><tspan dy="2.4"> per g tumour)</tspan></text>
<line x1="315.4" y1="271.32" x2="315.4" y2="312.4" stroke="#3a3a3a" stroke-width="0.7"/>
<line x1="313.4" y1="312.4" x2="315.4" y2="312.4" stroke="#3a3a3a" stroke-width="0.7"/>
<text x="311" y="314.7" text-anchor="end">0</text>
<line x1="313.4" y1="302.13" x2="315.4" y2="302.13" stroke="#3a3a3a" stroke-width="0.7"/>
<text x="311" y="304.43" text-anchor="end">1</text>
<line x1="313.4" y1="291.86" x2="315.4" y2="291.86" stroke="#3a3a3a" stroke-width="0.7"/>
<text x="311" y="294.16" text-anchor="end">2</text>
<line x1="313.4" y1="281.59" x2="315.4" y2="281.59" stroke="#3a3a3a" stroke-width="0.7"/>
<text x="311" y="283.89" text-anchor="end">3</text>
<line x1="313.4" y1="271.32" x2="315.4" y2="271.32" stroke="#3a3a3a" stroke-width="0.7"/>
<text x="311" y="273.62" text-anchor="end">4</text>
<line x1="315.4" y1="312.4" x2="356" y2="312.4" stroke="#3a3a3a" stroke-width="0.7"/>
<rect x="318.6" y="304.9" width="7" height="7.5" fill="#ffffff" stroke="#222" stroke-width="0.8"/>
<line x1="322.1" y1="304.9" x2="322.1" y2="303.36" stroke="#e8352b" stroke-width="0.75"/>
<line x1="320.8" y1="303.36" x2="323.4" y2="303.36" stroke="#e8352b" stroke-width="0.75"/>
<circle cx="319.9" cy="308.29" r="1" fill="#222"/>
<circle cx="321.37" cy="306.24" r="1" fill="#222"/>
<circle cx="322.83" cy="305.21" r="1" fill="#222"/>
<circle cx="324.3" cy="304.18" r="1" fill="#222"/>
<circle cx="320.63" cy="302.13" r="1" fill="#222"/>
<rect x="328.1" y="294.12" width="7" height="18.28" fill="#ffffff" stroke="#222" stroke-width="0.8"/>
<line x1="331.6" y1="294.12" x2="331.6" y2="286.93" stroke="#e8352b" stroke-width="0.75"/>
<line x1="330.3" y1="286.93" x2="332.9" y2="286.93" stroke="#e8352b" stroke-width="0.75"/>
<circle cx="329.4" cy="299.05" r="1.05" fill="#8fdfc6" stroke="#27b08e" stroke-width="0.55"/>
<circle cx="330.87" cy="297" r="1.05" fill="#8fdfc6" stroke="#27b08e" stroke-width="0.55"/>
<circle cx="332.33" cy="293.91" r="1.05" fill="#8fdfc6" stroke="#27b08e" stroke-width="0.55"/>
<circle cx="333.8" cy="290.83" r="1.05" fill="#8fdfc6" stroke="#27b08e" stroke-width="0.55"/>
<circle cx="330.13" cy="281.59" r="1.05" fill="#8fdfc6" stroke="#27b08e" stroke-width="0.55"/>
<rect x="337.3" y="307.47" width="7" height="4.93" fill="#ffffff" stroke="#222" stroke-width="0.8"/>
<line x1="340.8" y1="307.47" x2="340.8" y2="306.65" stroke="#F0A050" stroke-width="0.75"/>
<line x1="339.5" y1="306.65" x2="342.1" y2="306.65" stroke="#F0A050" stroke-width="0.75"/>
<circle cx="338.6" cy="309.32" r="1.05" fill="#f6b36f" stroke="#e8892c" stroke-width="0.5"/>
<circle cx="340.07" cy="308.29" r="1.05" fill="#f6b36f" stroke="#e8892c" stroke-width="0.5"/>
<circle cx="341.53" cy="307.26" r="1.05" fill="#f6b36f" stroke="#e8892c" stroke-width="0.5"/>
<circle cx="343" cy="306.24" r="1.05" fill="#f6b36f" stroke="#e8892c" stroke-width="0.5"/>
<circle cx="339.33" cy="305.21" r="1.05" fill="#f6b36f" stroke="#e8892c" stroke-width="0.5"/>
<rect x="346.3" y="307.88" width="7" height="4.52" fill="#ffffff" stroke="#222" stroke-width="0.8"/>
<line x1="349.8" y1="307.88" x2="349.8" y2="306.85" stroke="#e8352b" stroke-width="0.75"/>
<line x1="348.5" y1="306.85" x2="351.1" y2="306.85" stroke="#e8352b" stroke-width="0.75"/>
<circle cx="347.6" cy="309.32" r="0.95" fill="none" stroke="#3366F0" stroke-width="0.7"/>
<circle cx="349.07" cy="308.29" r="0.95" fill="none" stroke="#3366F0" stroke-width="0.7"/>
<circle cx="350.53" cy="307.26" r="0.95" fill="none" stroke="#3366F0" stroke-width="0.7"/>
<circle cx="352" cy="306.24" r="0.95" fill="none" stroke="#3366F0" stroke-width="0.7"/>
<circle cx="348.33" cy="304.18" r="0.95" fill="none" stroke="#3366F0" stroke-width="0.7"/>
<line x1="320.3" y1="260.3" x2="342" y2="260.3" stroke="#555" stroke-width="0.7"/>
<text x="331.15" y="258.3" text-anchor="middle" font-size="6.8">NS</text>
<line x1="320.3" y1="272.3" x2="333" y2="272.3" stroke="#555" stroke-width="0.7"/>
<text x="326.65" y="273.7" text-anchor="middle" font-size="8.5">**</text>
<line x1="330.8" y1="266.9" x2="352" y2="266.9" stroke="#555" stroke-width="0.7"/>
<text x="341.4" y="268.3" text-anchor="middle" font-size="8.5">***</text>
<line x1="338.5" y1="295.2" x2="352.5" y2="295.2" stroke="#555" stroke-width="0.7"/>
<text x="345.5" y="293.2" text-anchor="middle" font-size="6.8">NS</text>
<text x="335.5" y="322.3" text-anchor="middle">Day 15</text>
<text x="294.8" y="293.3" text-anchor="middle" transform="rotate(-90 294.8 293.3)">CD8<tspan dy="-2.4" font-size="4.3">+</tspan><tspan dy="2.4"> T cells</tspan></text>
<text x="302" y="292.2" text-anchor="middle" transform="rotate(-90 302 292.2)">(×10<tspan dy="-2.4" font-size="4.3">6</tspan><tspan dy="2.4"> per g tumour)</tspan></text>
<circle cx="367.8" cy="275.5" r="1.2" fill="#777" stroke="#444" stroke-width="0.7"/>
<text x="372.8" y="277.8">sgNTC + isotype</text>
<circle cx="367.8" cy="284.2" r="1.2" fill="#9fe3cf" stroke="#2DB88F" stroke-width="0.9"/>
<text x="372.8" y="286.5">sg<tspan font-style="italic">Vdac2</tspan> + isotype</text>
<circle cx="367.8" cy="292.7" r="1.2" fill="#f8d0a8" stroke="#F0A050" stroke-width="0.9"/>
<text x="372.8" y="295">sgNTC + anti-IFNγ</text>
<circle cx="367.8" cy="301.2" r="1.2" fill="#a8bcff" stroke="#3366F0" stroke-width="0.9"/>
<text x="372.8" y="303.5">sg<tspan font-style="italic">Vdac2</tspan> + anti-IFNγ</text>
<text x="452.2" y="256.9" font-weight="bold" font-size="10.5" fill="#000" stroke="#000" stroke-width="0.3">l</text>
<line x1="487.7" y1="271.35" x2="487.7" y2="312.3" stroke="#3a3a3a" stroke-width="0.7"/>
<line x1="485.7" y1="312.3" x2="487.7" y2="312.3" stroke="#3a3a3a" stroke-width="0.7"/>
<text x="483.3" y="314.6" text-anchor="end">0</text>
<line x1="485.7" y1="298.65" x2="487.7" y2="298.65" stroke="#3a3a3a" stroke-width="0.7"/>
<text x="483.3" y="300.95" text-anchor="end">5</text>
<line x1="485.7" y1="285" x2="487.7" y2="285" stroke="#3a3a3a" stroke-width="0.7"/>
<text x="483.3" y="287.3" text-anchor="end">10</text>
<line x1="485.7" y1="271.35" x2="487.7" y2="271.35" stroke="#3a3a3a" stroke-width="0.7"/>
<text x="483.3" y="273.65" text-anchor="end">15</text>
<line x1="487.7" y1="312.3" x2="527.4" y2="312.3" stroke="#3a3a3a" stroke-width="0.7"/>
<rect x="490" y="306.57" width="7" height="5.73" fill="#ffffff" stroke="#222" stroke-width="0.8"/>
<line x1="493.5" y1="306.57" x2="493.5" y2="305.48" stroke="#e8352b" stroke-width="0.75"/>
<line x1="492.2" y1="305.48" x2="494.8" y2="305.48" stroke="#e8352b" stroke-width="0.75"/>
<circle cx="491.3" cy="309.02" r="1" fill="#222"/>
<circle cx="492.77" cy="307.93" r="1" fill="#222"/>
<circle cx="494.23" cy="306.84" r="1" fill="#222"/>
<circle cx="495.7" cy="305.75" r="1" fill="#222"/>
<circle cx="492.03" cy="303.56" r="1" fill="#222"/>
<rect x="499.2" y="292.37" width="7" height="19.93" fill="#ffffff" stroke="#222" stroke-width="0.8"/>
<line x1="502.7" y1="292.37" x2="502.7" y2="289.64" stroke="#e8352b" stroke-width="0.75"/>
<line x1="501.4" y1="289.64" x2="504" y2="289.64" stroke="#e8352b" stroke-width="0.75"/>
<circle cx="500.5" cy="300.83" r="1.05" fill="#8fdfc6" stroke="#27b08e" stroke-width="0.55"/>
<circle cx="501.97" cy="298.1" r="1.05" fill="#8fdfc6" stroke="#27b08e" stroke-width="0.55"/>
<circle cx="503.43" cy="293.74" r="1.05" fill="#8fdfc6" stroke="#27b08e" stroke-width="0.55"/>
<circle cx="504.9" cy="289.1" r="1.05" fill="#8fdfc6" stroke="#27b08e" stroke-width="0.55"/>
<circle cx="501.23" cy="279.54" r="1.05" fill="#8fdfc6" stroke="#27b08e" stroke-width="0.55"/>
<rect x="508.6" y="308.75" width="7" height="3.55" fill="#ffffff" stroke="#222" stroke-width="0.8"/>
<line x1="512.1" y1="308.75" x2="512.1" y2="307.93" stroke="#F0A050" stroke-width="0.75"/>
<line x1="510.8" y1="307.93" x2="513.4" y2="307.93" stroke="#F0A050" stroke-width="0.75"/>
<circle cx="509.9" cy="310.12" r="1.05" fill="#f6b36f" stroke="#e8892c" stroke-width="0.5"/>
<circle cx="511.37" cy="309.57" r="1.05" fill="#f6b36f" stroke="#e8892c" stroke-width="0.5"/>
<circle cx="512.83" cy="308.75" r="1.05" fill="#f6b36f" stroke="#e8892c" stroke-width="0.5"/>
<circle cx="514.3" cy="307.93" r="1.05" fill="#f6b36f" stroke="#e8892c" stroke-width="0.5"/>
<circle cx="510.63" cy="306.84" r="1.05" fill="#f6b36f" stroke="#e8892c" stroke-width="0.5"/>
<rect x="517.8" y="309.3" width="7" height="3" fill="#ffffff" stroke="#222" stroke-width="0.8"/>
<line x1="521.3" y1="309.3" x2="521.3" y2="308.61" stroke="#e8352b" stroke-width="0.75"/>
<line x1="520" y1="308.61" x2="522.6" y2="308.61" stroke="#e8352b" stroke-width="0.75"/>
<circle cx="519.1" cy="310.66" r="0.95" fill="none" stroke="#3366F0" stroke-width="0.7"/>
<circle cx="520.57" cy="309.84" r="0.95" fill="none" stroke="#3366F0" stroke-width="0.7"/>
<circle cx="522.03" cy="309.02" r="0.95" fill="none" stroke="#3366F0" stroke-width="0.7"/>
<circle cx="523.5" cy="307.93" r="0.95" fill="none" stroke="#3366F0" stroke-width="0.7"/>
<circle cx="519.83" cy="306.29" r="0.95" fill="none" stroke="#3366F0" stroke-width="0.7"/>
<line x1="491.6" y1="259.9" x2="513.7" y2="259.9" stroke="#555" stroke-width="0.7"/>
<text x="502.65" y="257.9" text-anchor="middle" font-size="6.8">NS</text>
<line x1="491.6" y1="272.2" x2="503.5" y2="272.2" stroke="#555" stroke-width="0.7"/>
<text x="497.55" y="273.6" text-anchor="middle" font-size="8.5">***</text>
<line x1="501" y1="266.6" x2="523.2" y2="266.6" stroke="#555" stroke-width="0.7"/>
<text x="512.1" y="268" text-anchor="middle" font-size="8.5">***</text>
<line x1="511" y1="300.5" x2="523.2" y2="300.5" stroke="#555" stroke-width="0.7"/>
<text x="517.1" y="298.5" text-anchor="middle" font-size="6.8">NS</text>
<text x="507.9" y="322.8" text-anchor="middle">Day 15</text>
<text x="461.4" y="294.4" text-anchor="middle" transform="rotate(-90 461.4 294.4)">IFNγ<tspan dy="-2.4" font-size="4.3">+</tspan><tspan dy="2.4">TNF</tspan><tspan dy="-2.4" font-size="4.3">+</tspan><tspan dy="2.4">CD8</tspan><tspan dy="-2.4" font-size="4.3">+</tspan><tspan dy="2.4"> T cells</tspan></text>
<text x="468.9" y="291.6" text-anchor="middle" transform="rotate(-90 468.9 291.6)">(×10<tspan dy="-2.4" font-size="4.3">5</tspan><tspan dy="2.4"> per g tumour)</tspan></text>
<line x1="571.4" y1="271.2" x2="571.4" y2="312.3" stroke="#3a3a3a" stroke-width="0.7"/>
<line x1="569.4" y1="312.3" x2="571.4" y2="312.3" stroke="#3a3a3a" stroke-width="0.7"/>
<text x="567.4" y="314.6" text-anchor="end">0</text>
<line x1="569.4" y1="304.08" x2="571.4" y2="304.08" stroke="#3a3a3a" stroke-width="0.7"/>
<text x="567.4" y="306.38" text-anchor="end">5</text>
<line x1="569.4" y1="295.86" x2="571.4" y2="295.86" stroke="#3a3a3a" stroke-width="0.7"/>
<text x="567.4" y="298.16" text-anchor="end">10</text>
<line x1="569.4" y1="287.64" x2="571.4" y2="287.64" stroke="#3a3a3a" stroke-width="0.7"/>
<text x="567.4" y="289.94" text-anchor="end">15</text>
<line x1="569.4" y1="279.42" x2="571.4" y2="279.42" stroke="#3a3a3a" stroke-width="0.7"/>
<text x="567.4" y="281.72" text-anchor="end">20</text>
<line x1="569.4" y1="271.2" x2="571.4" y2="271.2" stroke="#3a3a3a" stroke-width="0.7"/>
<text x="567.4" y="273.5" text-anchor="end">25</text>
<line x1="571.4" y1="312.3" x2="614" y2="312.3" stroke="#3a3a3a" stroke-width="0.7"/>
<rect x="575" y="306.05" width="7" height="6.25" fill="#ffffff" stroke="#222" stroke-width="0.8"/>
<line x1="578.5" y1="306.05" x2="578.5" y2="305.07" stroke="#e8352b" stroke-width="0.75"/>
<line x1="577.2" y1="305.07" x2="579.8" y2="305.07" stroke="#e8352b" stroke-width="0.75"/>
<circle cx="576.3" cy="308.19" r="1" fill="#222"/>
<circle cx="577.77" cy="307.04" r="1" fill="#222"/>
<circle cx="579.23" cy="306.05" r="1" fill="#222"/>
<circle cx="580.7" cy="304.9" r="1" fill="#222"/>
<circle cx="577.03" cy="302.44" r="1" fill="#222"/>
<rect x="585.2" y="294.87" width="7" height="17.43" fill="#ffffff" stroke="#222" stroke-width="0.8"/>
<line x1="588.7" y1="294.87" x2="588.7" y2="290.27" stroke="#e8352b" stroke-width="0.75"/>
<line x1="587.4" y1="290.27" x2="590" y2="290.27" stroke="#e8352b" stroke-width="0.75"/>
<circle cx="586.5" cy="303.26" r="1.05" fill="#8fdfc6" stroke="#27b08e" stroke-width="0.55"/>
<circle cx="587.97" cy="299.15" r="1.05" fill="#8fdfc6" stroke="#27b08e" stroke-width="0.55"/>
<circle cx="589.43" cy="295.86" r="1.05" fill="#8fdfc6" stroke="#27b08e" stroke-width="0.55"/>
<circle cx="590.9" cy="293.39" r="1.05" fill="#8fdfc6" stroke="#27b08e" stroke-width="0.55"/>
<circle cx="587.23" cy="278.6" r="1.05" fill="#8fdfc6" stroke="#27b08e" stroke-width="0.55"/>
<rect x="595" y="308.52" width="7" height="3.78" fill="#ffffff" stroke="#222" stroke-width="0.8"/>
<line x1="598.5" y1="308.52" x2="598.5" y2="307.86" stroke="#F0A050" stroke-width="0.75"/>
<line x1="597.2" y1="307.86" x2="599.8" y2="307.86" stroke="#F0A050" stroke-width="0.75"/>
<circle cx="596.3" cy="309.83" r="1.05" fill="#f6b36f" stroke="#e8892c" stroke-width="0.5"/>
<circle cx="597.77" cy="309.01" r="1.05" fill="#f6b36f" stroke="#e8892c" stroke-width="0.5"/>
<circle cx="599.23" cy="308.52" r="1.05" fill="#f6b36f" stroke="#e8892c" stroke-width="0.5"/>
<circle cx="600.7" cy="307.7" r="1.05" fill="#f6b36f" stroke="#e8892c" stroke-width="0.5"/>
<circle cx="597.03" cy="306.55" r="1.05" fill="#f6b36f" stroke="#e8892c" stroke-width="0.5"/>
<rect x="603.6" y="308.03" width="7" height="4.27" fill="#ffffff" stroke="#222" stroke-width="0.8"/>
<line x1="607.1" y1="308.03" x2="607.1" y2="307.2" stroke="#e8352b" stroke-width="0.75"/>
<line x1="605.8" y1="307.2" x2="608.4" y2="307.2" stroke="#e8352b" stroke-width="0.75"/>
<circle cx="604.9" cy="309.83" r="0.95" fill="none" stroke="#3366F0" stroke-width="0.7"/>
<circle cx="606.37" cy="309.01" r="0.95" fill="none" stroke="#3366F0" stroke-width="0.7"/>
<circle cx="607.83" cy="308.03" r="0.95" fill="none" stroke="#3366F0" stroke-width="0.7"/>
<circle cx="609.3" cy="307.04" r="0.95" fill="none" stroke="#3366F0" stroke-width="0.7"/>
<circle cx="605.63" cy="304.08" r="0.95" fill="none" stroke="#3366F0" stroke-width="0.7"/>
<line x1="574" y1="260.2" x2="596" y2="260.2" stroke="#555" stroke-width="0.7"/>
<text x="585" y="258.2" text-anchor="middle" font-size="6.8">NS</text>
<line x1="574" y1="272.4" x2="586.5" y2="272.4" stroke="#555" stroke-width="0.7"/>
<text x="580.25" y="273.8" text-anchor="middle" font-size="8.5">**</text>
<line x1="584.5" y1="266.2" x2="606.5" y2="266.2" stroke="#555" stroke-width="0.7"/>
<text x="595.5" y="267.6" text-anchor="middle" font-size="8.5">***</text>
<line x1="594.5" y1="300" x2="608" y2="300" stroke="#555" stroke-width="0.7"/>
<text x="601.25" y="298" text-anchor="middle" font-size="6.8">NS</text>
<text x="591.5" y="322.8" text-anchor="middle">Day 15</text>
<text x="547.9" y="292.7" text-anchor="middle" transform="rotate(-90 547.9 292.7)">GZMB<tspan dy="-2.4" font-size="4.3">+</tspan><tspan dy="2.4">CD8</tspan><tspan dy="-2.4" font-size="4.3">+</tspan><tspan dy="2.4"> T cells</tspan></text>
<text x="554.5" y="292.2" text-anchor="middle" transform="rotate(-90 554.5 292.2)">(×10<tspan dy="-2.4" font-size="4.3">5</tspan><tspan dy="2.4"> per g tumour)</tspan></text>
<circle cx="619.9" cy="275.5" r="1.2" fill="#777" stroke="#444" stroke-width="0.7"/>
<text x="625" y="277.8">sgNTC + isotype</text>
<circle cx="619.9" cy="284.2" r="1.2" fill="#9fe3cf" stroke="#2DB88F" stroke-width="0.9"/>
<text x="625" y="286.5">sg<tspan font-style="italic">Vdac2</tspan> + isotype</text>
<circle cx="619.9" cy="292.7" r="1.2" fill="#f8d0a8" stroke="#F0A050" stroke-width="0.9"/>
<text x="625" y="295">sgNTC + anti-IFNγ</text>
<circle cx="619.9" cy="301.2" r="1.2" fill="#a8bcff" stroke="#3366F0" stroke-width="0.9"/>
<text x="625" y="303.5">sg<tspan font-style="italic">Vdac2</tspan> + anti-IFNγ</text>
</svg>
</body></html>
